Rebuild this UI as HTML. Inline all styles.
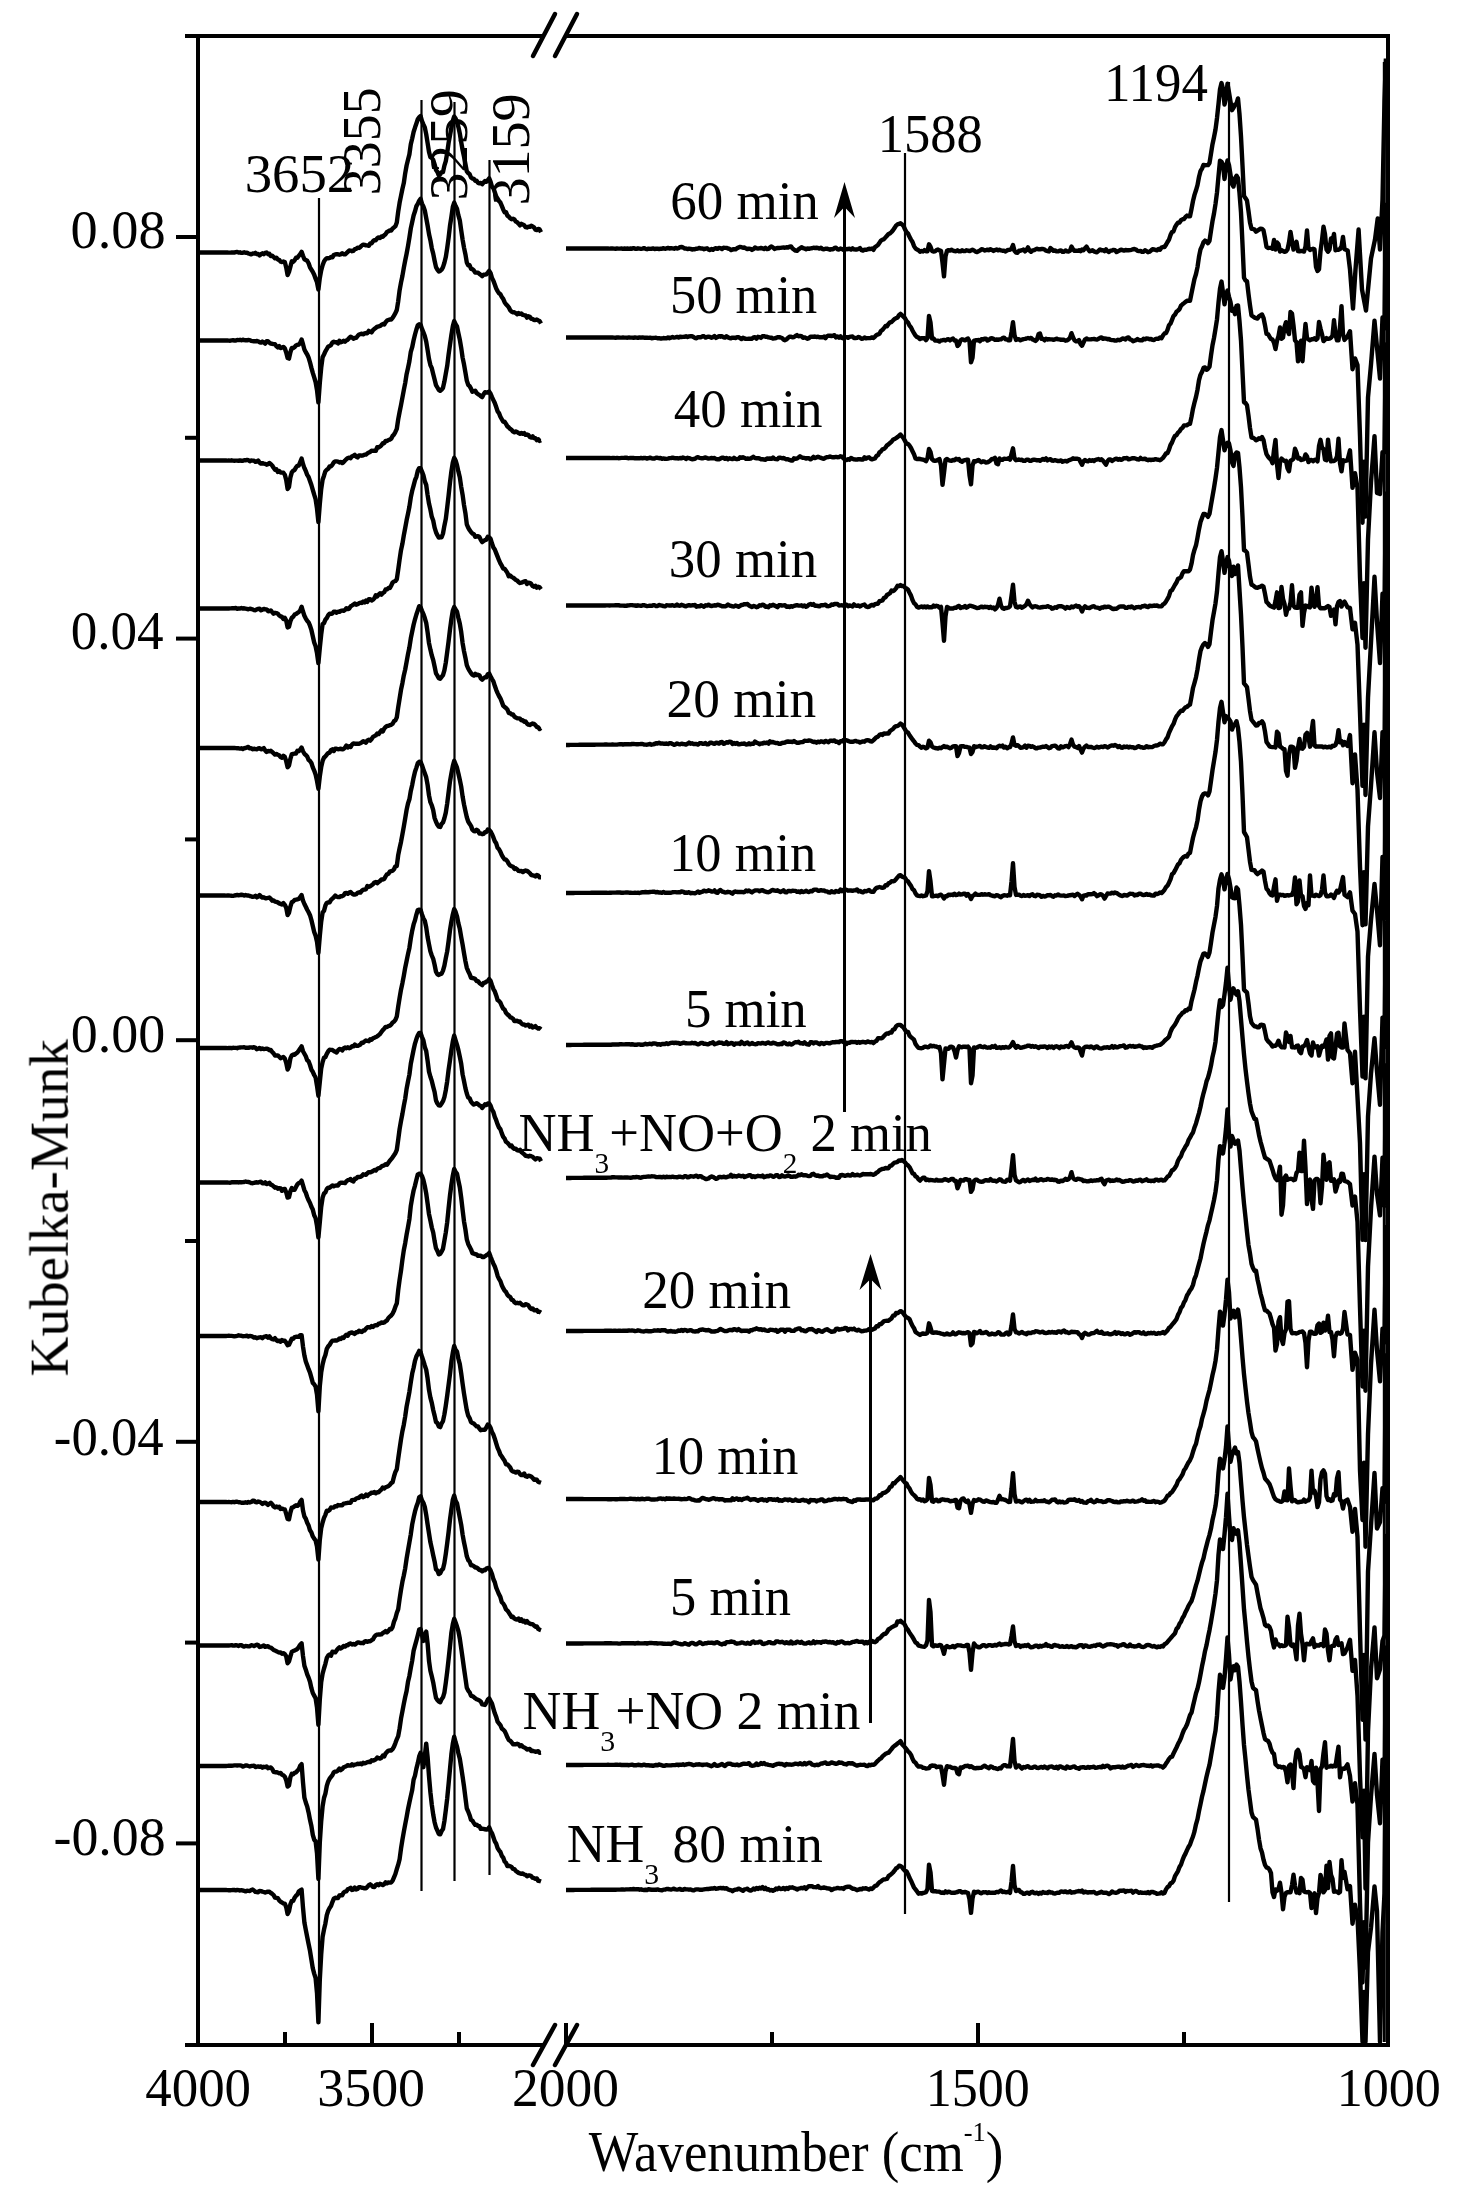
<!DOCTYPE html>
<html><head><meta charset="utf-8"><style>
html,body{margin:0;padding:0;background:#fff;}
svg{display:block;}
</style></head><body>
<svg width="1457" height="2201" viewBox="0 0 1457 2201">
<rect width="1457" height="2201" fill="#fff"/>
<g stroke="#000" stroke-width="4" fill="none" stroke-linecap="butt">
<line x1="198" y1="34" x2="198" y2="2047"/>
<line x1="1388" y1="34" x2="1388" y2="2047"/>
<line x1="185" y1="36" x2="543" y2="36"/>
<line x1="566" y1="36" x2="1390" y2="36"/>
<line x1="185" y1="2045" x2="543" y2="2045"/>
<line x1="567" y1="2045" x2="1390" y2="2045"/>
<line x1="176" y1="237.0" x2="198" y2="237.0"/>
<line x1="176" y1="638.6" x2="198" y2="638.6"/>
<line x1="176" y1="1040.2" x2="198" y2="1040.2"/>
<line x1="176" y1="1441.8" x2="198" y2="1441.8"/>
<line x1="176" y1="1843.4" x2="198" y2="1843.4"/>
<line x1="185" y1="437.8" x2="198" y2="437.8"/>
<line x1="185" y1="839.4" x2="198" y2="839.4"/>
<line x1="185" y1="1241.0" x2="198" y2="1241.0"/>
<line x1="185" y1="1642.6" x2="198" y2="1642.6"/>
<line x1="372" y1="2023" x2="372" y2="2045"/>
<line x1="566" y1="2023" x2="566" y2="2045"/>
<line x1="978" y1="2023" x2="978" y2="2045"/>
<line x1="285" y1="2032" x2="285" y2="2045"/>
<line x1="459" y1="2032" x2="459" y2="2045"/>
<line x1="772" y1="2032" x2="772" y2="2045"/>
<line x1="1184" y1="2032" x2="1184" y2="2045"/>
</g>
<g stroke="#000" stroke-width="4.5" fill="none" stroke-linecap="round">
<line x1="533" y1="56" x2="555" y2="14"/><line x1="555" y1="56" x2="577" y2="14"/>
<line x1="533" y1="2065" x2="555" y2="2025"/><line x1="555" y1="2065" x2="577" y2="2025"/>
</g>
<g stroke="#000" stroke-width="2.2" fill="none">
<line x1="319" y1="198" x2="319" y2="2024"/>
<line x1="421.5" y1="100" x2="421.5" y2="1891"/>
<line x1="454.5" y1="102" x2="454.5" y2="1881"/>
<line x1="489.5" y1="160" x2="489.5" y2="1875"/>
<line x1="905" y1="153" x2="905" y2="1914"/>
<line x1="1229" y1="82" x2="1229" y2="1902"/>
</g>
<g stroke="#000" stroke-width="3" fill="none">
<line x1="844.5" y1="1112" x2="844.5" y2="205"/>
<line x1="870.5" y1="1723" x2="870.5" y2="1277"/>
</g>
<path d="M844.5 182 L855 218 L844.5 207 L834 218 Z" fill="#000"/>
<path d="M870.5 1254 L881.5 1290 L870.5 1279 L859.5 1290 Z" fill="#000"/>
<g stroke="#000" stroke-width="4.4" fill="none" stroke-linejoin="round" stroke-linecap="butt">
<path d="M198.0 252.5L199.4 252.5L200.8 252.5L202.2 252.5L203.6 252.5L205.0 252.5L206.4 252.5L207.8 252.5L209.2 252.5L210.6 252.5L212.0 252.5L213.4 252.5L214.8 252.5L216.2 252.5L217.6 252.5L219.0 252.5L220.4 252.5L221.8 252.5L223.2 252.5L224.6 252.5L226.0 252.5L227.4 252.5L228.8 252.6L230.2 252.6L231.6 252.5L233.0 252.4L234.4 252.5L235.8 252.2L237.2 251.9L238.6 252.6L240.0 252.3L241.4 252.9L242.8 252.7L244.2 252.3L245.6 252.8L247.0 252.7L248.4 253.5L249.8 253.9L251.2 254.4L252.6 253.5L254.0 253.6L255.4 252.8L256.8 254.0L258.2 254.0L259.6 255.5L261.0 254.1L262.4 253.3L263.8 254.3L265.2 252.9L266.6 252.5L268.0 254.2L269.4 253.8L270.8 256.1L272.2 255.7L273.6 257.0L275.0 258.3L276.4 257.7L277.8 259.5L279.2 259.8L280.6 261.7L282.0 262.0L283.4 261.5L284.8 262.0L286.2 267.4L287.6 275.0L289.0 271.9L290.4 266.6L291.8 261.3L293.2 261.9L294.6 260.3L296.0 257.8L297.4 257.8L298.8 255.8L300.2 254.1L301.6 251.8L303.0 255.8L304.4 259.3L305.8 260.0L307.2 260.7L308.6 263.2L310.0 267.3L311.4 269.6L312.8 271.9L314.2 274.8L315.6 278.8L317.0 282.3L318.4 289.5L319.8 278.0L321.2 270.4L322.6 265.2L324.0 261.5L325.4 259.4L326.8 258.2L328.2 258.2L329.6 258.1L331.0 256.9L332.4 257.3L333.8 255.0L335.2 254.4L336.6 254.2L338.0 254.3L339.4 254.7L340.8 254.4L342.2 253.2L343.6 254.3L345.0 254.4L346.4 253.3L347.8 251.9L349.2 250.5L350.6 250.6L352.0 251.2L353.4 250.8L354.8 249.2L356.2 248.9L357.6 247.6L359.0 248.0L360.4 246.9L361.8 245.5L363.2 244.6L364.6 244.9L366.0 245.4L367.4 245.4L368.8 245.8L370.2 243.4L371.6 243.4L373.0 241.2L374.4 240.1L375.8 240.2L377.2 238.4L378.6 237.4L380.0 238.0L381.4 236.5L382.8 236.8L384.2 235.3L385.6 234.2L387.0 231.9L388.4 231.3L389.8 230.4L391.2 230.6L392.6 228.5L394.0 227.5L395.4 226.2L396.8 222.5L398.2 211.6L399.6 202.8L401.0 195.9L402.4 189.0L403.8 183.1L405.2 173.3L406.6 165.5L408.0 159.8L409.4 154.4L410.8 144.3L412.2 138.5L413.6 132.0L415.0 127.6L416.4 123.6L417.8 119.3L419.2 117.2L420.6 116.1L422.0 121.0L423.4 124.4L424.8 127.4L426.2 134.1L427.6 143.0L429.0 151.9L430.4 157.2L431.8 158.0L433.2 159.8L434.6 164.3L436.0 170.0L437.4 171.9L438.8 175.3L440.2 174.4L441.6 172.3L443.0 172.1L444.4 165.6L445.8 161.2L447.2 152.8L448.6 142.9L450.0 135.4L451.4 127.7L452.8 120.9L454.2 116.5L455.6 118.5L457.0 121.8L458.4 127.1L459.8 133.4L461.2 142.1L462.6 150.0L464.0 156.5L465.4 163.9L466.8 171.3L468.2 173.0L469.6 174.2L471.0 177.5L472.4 178.5L473.8 178.8L475.2 180.7L476.6 180.7L478.0 182.9L479.4 183.3L480.8 182.9L482.2 184.2L483.6 182.5L485.0 181.0L486.4 181.7L487.8 180.2L489.2 178.3L490.6 181.8L492.0 186.8L493.4 188.1L494.8 192.2L496.2 196.5L497.6 198.7L499.0 201.1L500.4 202.6L501.8 205.9L503.2 209.4L504.6 212.2L506.0 212.1L507.4 215.6L508.8 216.6L510.2 218.2L511.6 219.2L513.0 218.7L514.4 219.4L515.8 221.6L517.2 222.2L518.6 223.7L520.0 225.4L521.4 223.8L522.8 224.6L524.2 225.2L525.6 227.1L527.0 227.5L528.4 226.8L529.8 226.9L531.2 225.8L532.6 226.5L534.0 227.3L535.4 229.7L536.8 230.1L538.2 228.9L539.6 229.4L541.0 232.3"/>
<path d="M566.0 248.5L567.5 248.5L569.0 248.5L570.5 248.5L572.0 248.5L573.5 248.5L575.0 248.5L576.5 248.5L578.0 248.5L579.5 248.5L581.0 248.5L582.5 248.5L584.0 248.5L585.5 248.5L587.0 248.5L588.5 248.5L590.0 248.5L591.5 248.5L593.0 248.5L594.5 248.5L596.0 248.5L597.5 248.5L599.0 248.5L600.5 248.5L602.0 248.5L603.5 248.5L605.0 248.5L606.5 248.5L608.0 248.5L609.5 248.6L611.0 248.5L612.5 248.5L614.0 248.6L615.5 248.7L617.0 248.5L618.5 248.6L620.0 248.6L621.5 248.5L623.0 248.8L624.5 248.5L626.0 248.7L627.5 248.5L629.0 248.8L630.5 248.5L632.0 248.7L633.5 248.2L635.0 248.7L636.5 248.8L638.0 248.3L639.5 248.6L641.0 248.9L642.5 248.6L644.0 248.1L645.5 248.8L647.0 249.2L648.5 248.6L650.0 248.9L651.5 248.8L653.0 248.4L654.5 249.0L656.0 248.8L657.5 248.7L659.0 249.0L660.5 248.8L662.0 248.7L663.5 248.2L665.0 248.8L666.5 248.4L668.0 247.9L669.5 248.5L671.0 248.1L672.5 248.4L674.0 248.7L675.5 247.9L677.0 248.5L678.5 248.1L680.0 247.2L681.5 247.0L683.0 247.4L684.5 248.6L686.0 248.4L687.5 249.1L689.0 248.6L690.5 248.9L692.0 249.5L693.5 249.1L695.0 249.2L696.5 248.7L698.0 248.5L699.5 247.9L701.0 248.6L702.5 248.5L704.0 249.2L705.5 248.6L707.0 248.3L708.5 249.5L710.0 250.1L711.5 249.0L713.0 249.8L714.5 248.6L716.0 248.2L717.5 248.9L719.0 247.9L720.5 248.1L722.0 249.0L723.5 247.8L725.0 247.9L726.5 247.9L728.0 248.5L729.5 248.9L731.0 250.1L732.5 249.5L734.0 249.1L735.5 249.4L737.0 248.3L738.5 247.5L740.0 246.9L741.5 247.2L743.0 247.8L744.5 247.5L746.0 248.5L747.5 249.1L749.0 248.7L750.5 248.9L752.0 249.9L753.5 249.1L755.0 247.4L756.5 248.3L758.0 248.5L759.5 248.4L761.0 248.0L762.5 248.4L764.0 249.0L765.5 247.8L767.0 249.1L768.5 248.8L770.0 247.4L771.5 246.4L773.0 247.5L774.5 248.9L776.0 248.3L777.5 248.0L779.0 248.0L780.5 247.9L782.0 247.6L783.5 247.5L785.0 247.7L786.5 247.3L788.0 247.5L789.5 246.7L791.0 246.4L792.5 248.5L794.0 249.6L795.5 250.6L797.0 250.8L798.5 249.4L800.0 248.4L801.5 247.2L803.0 248.2L804.5 248.5L806.0 249.2L807.5 248.4L809.0 248.8L810.5 248.4L812.0 248.3L813.5 247.7L815.0 248.0L816.5 247.8L818.0 248.0L819.5 248.6L821.0 247.8L822.5 249.0L824.0 249.3L825.5 248.7L827.0 248.6L828.5 249.2L830.0 249.7L831.5 249.1L833.0 249.2L834.5 248.0L836.0 247.7L837.5 249.3L839.0 249.5L840.5 248.5L842.0 249.0L843.5 250.1L845.0 248.9L846.5 249.2L848.0 249.0L849.5 248.8L851.0 249.6L852.5 248.3L854.0 249.4L855.5 249.5L857.0 249.5L858.5 249.0L860.0 248.1L861.5 250.1L863.0 250.5L864.5 249.6L866.0 249.8L867.5 249.4L869.0 248.8L870.5 249.0L872.0 248.5L873.5 249.8L875.0 247.1L876.5 246.2L878.0 244.9L879.5 242.8L881.0 240.6L882.5 239.7L884.0 239.1L885.5 237.4L887.0 235.7L888.5 234.0L890.0 233.4L891.5 232.0L893.0 230.3L894.5 228.1L896.0 225.6L897.5 224.4L899.0 223.9L900.5 223.2L902.0 224.4L903.5 225.8L905.0 229.4L906.5 232.0L908.0 233.5L909.5 236.8L911.0 239.6L912.5 242.0L914.0 246.1L915.5 248.4L917.0 249.5L918.5 250.2L920.0 251.7L921.5 251.0L923.0 251.5L924.5 250.1L926.0 251.3L927.5 251.2L929.0 244.3L930.5 246.6L932.0 250.9L933.5 251.6L935.0 251.4L936.5 250.1L938.0 249.5L939.5 250.5L941.0 250.9L942.5 262.6L944.0 276.4L945.5 256.5L947.0 250.7L948.5 250.1L950.0 250.6L951.5 249.8L953.0 250.6L954.5 251.0L956.0 251.2L957.5 250.3L959.0 251.3L960.5 251.3L962.0 250.3L963.5 251.0L965.0 251.1L966.5 250.3L968.0 250.7L969.5 251.1L971.0 250.5L972.5 249.7L974.0 250.4L975.5 251.6L977.0 252.0L978.5 251.2L980.0 250.5L981.5 249.3L983.0 249.5L984.5 250.5L986.0 250.2L987.5 249.6L989.0 250.2L990.5 249.2L992.0 249.9L993.5 250.9L995.0 250.0L996.5 249.5L998.0 250.4L999.5 249.8L1001.0 250.3L1002.5 250.7L1004.0 250.8L1005.5 251.5L1007.0 250.4L1008.5 249.9L1010.0 249.8L1011.5 248.7L1013.0 245.1L1014.5 250.9L1016.0 252.6L1017.5 252.8L1019.0 250.7L1020.5 250.7L1022.0 250.2L1023.5 249.6L1025.0 251.3L1026.5 249.9L1028.0 247.4L1029.5 250.6L1031.0 251.8L1032.5 250.5L1034.0 250.2L1035.5 249.4L1037.0 248.6L1038.5 249.4L1040.0 249.3L1041.5 249.0L1043.0 248.9L1044.5 249.6L1046.0 250.7L1047.5 251.0L1049.0 251.4L1050.5 248.0L1052.0 249.4L1053.5 250.9L1055.0 250.4L1056.5 251.4L1058.0 251.4L1059.5 250.7L1061.0 250.4L1062.5 251.8L1064.0 251.7L1065.5 250.4L1067.0 251.3L1068.5 251.5L1070.0 250.8L1071.5 246.6L1073.0 249.4L1074.5 250.9L1076.0 250.8L1077.5 250.9L1079.0 250.2L1080.5 251.2L1082.0 249.5L1083.5 250.3L1085.0 248.3L1086.5 246.6L1088.0 249.3L1089.5 251.3L1091.0 250.9L1092.5 250.2L1094.0 251.4L1095.5 252.0L1097.0 252.2L1098.5 250.8L1100.0 249.4L1101.5 250.2L1103.0 250.2L1104.5 251.1L1106.0 249.3L1107.5 251.1L1109.0 252.0L1110.5 250.6L1112.0 250.5L1113.5 249.9L1115.0 250.2L1116.5 252.0L1118.0 251.2L1119.5 250.5L1121.0 249.6L1122.5 250.1L1124.0 250.6L1125.5 250.0L1127.0 250.2L1128.5 250.3L1130.0 250.1L1131.5 249.8L1133.0 249.2L1134.5 249.0L1136.0 249.5L1137.5 250.8L1139.0 251.1L1140.5 250.9L1142.0 251.9L1143.5 251.8L1145.0 250.3L1146.5 251.1L1148.0 252.2L1149.5 251.7L1151.0 250.5L1152.5 249.2L1154.0 249.5L1155.5 249.8L1157.0 250.3L1158.5 249.0L1160.0 249.7L1161.5 247.5L1163.0 247.0L1164.5 247.1L1166.0 244.8L1167.5 242.0L1169.0 239.6L1170.5 235.1L1172.0 232.1L1173.5 231.4L1175.0 227.1L1176.5 224.6L1178.0 222.7L1179.5 222.5L1181.0 220.2L1182.5 219.3L1184.0 219.1L1185.5 216.9L1187.0 215.6L1188.5 216.4L1190.0 216.3L1191.5 209.0L1193.0 201.0L1194.5 194.9L1196.0 190.3L1197.5 185.1L1199.0 177.0L1200.5 171.1L1202.0 168.6L1203.5 164.9L1205.0 165.2L1206.5 165.1L1208.0 165.1L1209.5 163.0L1211.0 153.6L1212.5 144.2L1214.0 137.2L1215.5 129.5L1217.0 118.1L1218.5 103.9L1220.0 89.3L1221.5 83.1L1223.0 88.8L1224.5 104.5L1226.0 98.6L1227.5 83.7L1229.0 92.3L1230.5 101.6L1232.0 110.2L1233.5 107.8L1235.0 104.5L1236.5 103.7L1238.0 98.4L1239.5 114.1L1241.0 136.7L1242.5 165.5L1244.0 196.0L1245.5 198.2L1247.0 200.7L1248.5 211.1L1250.0 222.4L1251.5 228.8L1253.0 228.9L1254.5 229.6L1256.0 231.6L1257.5 230.6L1259.0 229.6L1260.5 228.6L1262.0 228.9L1263.5 230.4L1265.0 238.0L1266.5 247.0L1268.0 248.0L1269.5 247.9L1271.0 247.9L1272.5 248.7L1274.0 240.0L1275.5 249.5L1277.0 242.4L1278.5 244.2L1280.0 251.5L1281.5 250.0L1283.0 251.0L1284.5 251.8L1286.0 251.4L1287.5 249.5L1289.0 242.5L1290.5 231.9L1292.0 240.9L1293.5 249.5L1295.0 245.7L1296.5 241.8L1298.0 251.1L1299.5 251.4L1301.0 250.9L1302.5 251.1L1304.0 251.5L1305.5 246.7L1307.0 230.4L1308.5 248.5L1310.0 249.9L1311.5 249.3L1313.0 248.8L1314.5 249.4L1316.0 266.9L1317.5 271.0L1319.0 269.3L1320.5 251.2L1322.0 240.0L1323.5 226.8L1325.0 234.3L1326.5 249.5L1328.0 251.7L1329.5 249.5L1331.0 238.5L1332.5 241.6L1334.0 233.9L1335.5 250.3L1337.0 249.6L1338.5 249.7L1340.0 249.0L1341.5 246.5L1343.0 236.9L1344.5 249.3L1347.7 250.5L1350.0 269.5L1353.0 308.5L1355.5 269.5L1358.6 229.5L1362.0 289.5L1366.0 310.5L1371.0 258.5L1375.0 239.5L1377.7 218.5L1380.0 249.5L1382.5 199.5L1384.5 100.5L1385.9 58.5"/>
<path d="M198.0 340.5L199.4 340.5L200.8 340.5L202.2 340.5L203.6 340.5L205.0 340.5L206.4 340.5L207.8 340.5L209.2 340.5L210.6 340.5L212.0 340.5L213.4 340.5L214.8 340.5L216.2 340.5L217.6 340.5L219.0 340.5L220.4 340.5L221.8 340.5L223.2 340.5L224.6 340.5L226.0 340.5L227.4 340.5L228.8 340.6L230.2 340.7L231.6 340.4L233.0 340.3L234.4 340.5L235.8 340.5L237.2 339.9L238.6 340.1L240.0 339.8L241.4 340.3L242.8 339.7L244.2 340.1L245.6 340.3L247.0 340.3L248.4 340.0L249.8 340.1L251.2 340.9L252.6 341.1L254.0 341.3L255.4 341.3L256.8 341.0L258.2 341.3L259.6 342.3L261.0 342.6L262.4 341.6L263.8 342.3L265.2 343.6L266.6 341.3L268.0 341.3L269.4 342.7L270.8 343.6L272.2 343.8L273.6 344.1L275.0 344.2L276.4 346.2L277.8 347.5L279.2 346.1L280.6 348.0L282.0 347.7L283.4 346.9L284.8 348.3L286.2 352.5L287.6 358.0L289.0 358.6L290.4 352.2L291.8 347.9L293.2 348.0L294.6 347.2L296.0 345.4L297.4 344.8L298.8 344.5L300.2 342.9L301.6 339.5L303.0 344.2L304.4 349.5L305.8 352.3L307.2 354.5L308.6 357.7L310.0 362.3L311.4 367.9L312.8 372.9L314.2 377.3L315.6 382.0L317.0 390.0L318.4 402.4L319.8 383.1L321.2 367.8L322.6 357.3L324.0 354.5L325.4 351.4L326.8 349.0L328.2 346.5L329.6 346.0L331.0 345.1L332.4 342.4L333.8 341.7L335.2 342.4L336.6 342.2L338.0 343.5L339.4 340.7L340.8 342.3L342.2 341.7L343.6 340.7L345.0 341.7L346.4 340.4L347.8 339.7L349.2 338.0L350.6 336.7L352.0 337.4L353.4 338.7L354.8 338.0L356.2 337.8L357.6 336.0L359.0 334.5L360.4 334.1L361.8 333.7L363.2 334.3L364.6 333.4L366.0 333.0L367.4 333.2L368.8 330.9L370.2 331.6L371.6 332.4L373.0 330.1L374.4 328.8L375.8 327.9L377.2 326.6L378.6 326.5L380.0 326.0L381.4 324.9L382.8 324.0L384.2 324.6L385.6 322.2L387.0 320.6L388.4 320.0L389.8 319.4L391.2 319.5L392.6 317.9L394.0 315.6L395.4 313.2L396.8 310.0L398.2 301.3L399.6 290.3L401.0 282.6L402.4 276.0L403.8 267.8L405.2 260.5L406.6 253.7L408.0 246.1L409.4 237.6L410.8 228.4L412.2 222.0L413.6 215.5L415.0 211.3L416.4 206.2L417.8 203.8L419.2 200.7L420.6 198.8L422.0 203.7L423.4 206.5L424.8 210.4L426.2 218.0L427.6 225.5L429.0 234.0L430.4 240.2L431.8 248.2L433.2 253.6L434.6 260.7L436.0 267.1L437.4 269.6L438.8 271.5L440.2 270.9L441.6 269.7L443.0 267.1L444.4 262.8L445.8 257.1L447.2 248.1L448.6 237.8L450.0 225.7L451.4 216.9L452.8 207.0L454.2 202.6L455.6 206.0L457.0 208.8L458.4 215.4L459.8 220.4L461.2 230.2L462.6 239.6L464.0 247.6L465.4 254.2L466.8 262.5L468.2 265.4L469.6 265.3L471.0 268.8L472.4 269.1L473.8 270.4L475.2 272.6L476.6 272.6L478.0 272.7L479.4 273.9L480.8 274.8L482.2 276.2L483.6 274.8L485.0 274.6L486.4 274.3L487.8 272.7L489.2 270.9L490.6 273.1L492.0 278.1L493.4 280.7L494.8 284.5L496.2 288.5L497.6 291.1L499.0 293.2L500.4 294.3L501.8 297.0L503.2 298.9L504.6 302.2L506.0 304.2L507.4 305.6L508.8 307.3L510.2 310.2L511.6 311.6L513.0 312.4L514.4 312.3L515.8 313.1L517.2 314.2L518.6 313.1L520.0 314.0L521.4 313.5L522.8 314.9L524.2 315.2L525.6 315.4L527.0 317.7L528.4 316.3L529.8 316.8L531.2 318.8L532.6 318.9L534.0 320.0L535.4 320.0L536.8 319.5L538.2 320.4L539.6 321.0L541.0 323.5"/>
<path d="M566.0 337.5L567.5 337.5L569.0 337.5L570.5 337.5L572.0 337.5L573.5 337.5L575.0 337.5L576.5 337.5L578.0 337.5L579.5 337.5L581.0 337.5L582.5 337.5L584.0 337.5L585.5 337.5L587.0 337.5L588.5 337.5L590.0 337.5L591.5 337.5L593.0 337.5L594.5 337.5L596.0 337.5L597.5 337.5L599.0 337.5L600.5 337.5L602.0 337.5L603.5 337.5L605.0 337.5L606.5 337.4L608.0 337.5L609.5 337.5L611.0 337.4L612.5 337.5L614.0 337.6L615.5 337.7L617.0 337.5L618.5 337.5L620.0 337.6L621.5 337.6L623.0 337.5L624.5 337.6L626.0 337.6L627.5 337.7L629.0 337.4L630.5 337.6L632.0 337.6L633.5 337.7L635.0 337.5L636.5 337.6L638.0 337.9L639.5 337.4L641.0 337.7L642.5 337.4L644.0 337.7L645.5 337.7L647.0 337.7L648.5 337.9L650.0 337.7L651.5 338.2L653.0 338.0L654.5 337.9L656.0 337.7L657.5 338.3L659.0 338.2L660.5 338.5L662.0 338.5L663.5 338.0L665.0 338.3L666.5 338.3L668.0 337.4L669.5 338.2L671.0 337.7L672.5 337.0L674.0 337.6L675.5 337.3L677.0 336.9L678.5 337.5L680.0 336.6L681.5 337.0L683.0 336.9L684.5 336.8L686.0 336.3L687.5 337.0L689.0 336.4L690.5 336.3L692.0 336.2L693.5 337.0L695.0 338.1L696.5 338.2L698.0 337.2L699.5 337.2L701.0 337.3L702.5 336.2L704.0 336.3L705.5 337.6L707.0 337.0L708.5 336.7L710.0 337.0L711.5 337.7L713.0 337.1L714.5 336.0L716.0 337.9L717.5 337.1L719.0 336.2L720.5 336.7L722.0 336.2L723.5 337.3L725.0 337.6L726.5 336.2L728.0 337.4L729.5 338.0L731.0 338.3L732.5 337.6L734.0 337.7L735.5 338.0L737.0 337.2L738.5 337.2L740.0 338.1L741.5 339.0L743.0 337.8L744.5 338.5L746.0 338.9L747.5 338.9L749.0 338.7L750.5 338.8L752.0 338.7L753.5 337.4L755.0 337.1L756.5 338.7L758.0 336.8L759.5 337.1L761.0 337.9L762.5 336.2L764.0 336.1L765.5 336.7L767.0 336.7L768.5 337.4L770.0 337.7L771.5 337.6L773.0 338.6L774.5 338.4L776.0 338.0L777.5 337.3L779.0 337.1L780.5 337.5L782.0 338.0L783.5 339.6L785.0 340.2L786.5 339.3L788.0 337.9L789.5 336.7L791.0 336.6L792.5 337.4L794.0 337.1L795.5 336.0L797.0 335.1L798.5 336.3L800.0 335.9L801.5 336.1L803.0 337.8L804.5 337.4L806.0 338.0L807.5 338.7L809.0 338.1L810.5 336.7L812.0 336.7L813.5 336.8L815.0 336.5L816.5 337.0L818.0 336.6L819.5 337.4L821.0 337.2L822.5 337.4L824.0 336.6L825.5 338.1L827.0 336.2L828.5 335.6L830.0 335.6L831.5 336.1L833.0 335.7L834.5 335.2L836.0 337.4L837.5 336.4L839.0 337.7L840.5 336.3L842.0 338.0L843.5 338.5L845.0 337.2L846.5 337.1L848.0 337.8L849.5 336.9L851.0 336.6L852.5 336.5L854.0 338.1L855.5 338.0L857.0 337.8L858.5 336.9L860.0 337.6L861.5 338.8L863.0 338.5L864.5 337.5L866.0 338.3L867.5 338.1L869.0 338.1L870.5 338.0L872.0 337.4L873.5 338.0L875.0 336.6L876.5 335.0L878.0 334.4L879.5 333.7L881.0 330.8L882.5 329.9L884.0 328.0L885.5 326.0L887.0 326.3L888.5 323.9L890.0 322.3L891.5 322.0L893.0 320.5L894.5 318.9L896.0 318.2L897.5 317.7L899.0 315.1L900.5 313.8L902.0 315.2L903.5 316.9L905.0 318.2L906.5 321.0L908.0 322.5L909.5 325.6L911.0 327.4L912.5 330.5L914.0 333.2L915.5 335.7L917.0 337.0L918.5 337.6L920.0 339.1L921.5 338.2L923.0 338.2L924.5 338.1L926.0 340.1L927.5 338.0L929.0 315.9L930.5 322.4L932.0 338.5L933.5 338.4L935.0 340.5L936.5 340.6L938.0 340.8L939.5 341.6L941.0 340.4L942.5 340.2L944.0 339.9L945.5 340.5L947.0 339.5L948.5 339.2L950.0 340.4L951.5 339.2L953.0 338.5L954.5 340.5L956.0 340.5L957.5 346.0L959.0 344.4L960.5 340.3L962.0 339.3L963.5 339.7L965.0 340.4L966.5 339.3L968.0 338.5L969.5 341.2L971.0 362.3L972.5 357.9L974.0 340.6L975.5 340.3L977.0 340.3L978.5 340.0L980.0 341.2L981.5 339.1L983.0 339.5L984.5 338.7L986.0 338.6L987.5 340.6L989.0 339.8L990.5 338.5L992.0 338.3L993.5 338.9L995.0 339.8L996.5 339.5L998.0 339.9L999.5 339.4L1001.0 339.4L1002.5 338.1L1004.0 337.6L1005.5 339.2L1007.0 339.4L1008.5 340.4L1010.0 340.4L1011.5 332.2L1013.0 322.2L1014.5 335.2L1016.0 339.9L1017.5 339.2L1019.0 339.3L1020.5 340.3L1022.0 339.6L1023.5 339.1L1025.0 338.9L1026.5 338.5L1028.0 338.0L1029.5 338.5L1031.0 337.9L1032.5 339.4L1034.0 340.0L1035.5 340.9L1037.0 339.4L1038.5 334.3L1040.0 333.5L1041.5 338.9L1043.0 338.7L1044.5 340.3L1046.0 338.8L1047.5 339.5L1049.0 339.2L1050.5 339.4L1052.0 339.4L1053.5 339.8L1055.0 339.4L1056.5 338.6L1058.0 339.2L1059.5 339.4L1061.0 339.8L1062.5 339.7L1064.0 339.8L1065.5 340.7L1067.0 340.4L1068.5 339.4L1070.0 337.8L1071.5 333.2L1073.0 337.3L1074.5 340.4L1076.0 341.2L1077.5 341.2L1079.0 340.0L1080.5 344.0L1082.0 345.7L1083.5 342.5L1085.0 339.5L1086.5 338.5L1088.0 339.4L1089.5 339.4L1091.0 339.3L1092.5 339.1L1094.0 338.9L1095.5 339.4L1097.0 339.6L1098.5 338.8L1100.0 337.9L1101.5 337.4L1103.0 338.9L1104.5 338.4L1106.0 338.7L1107.5 339.2L1109.0 339.0L1110.5 339.9L1112.0 340.1L1113.5 340.1L1115.0 340.6L1116.5 340.5L1118.0 339.8L1119.5 340.2L1121.0 339.6L1122.5 338.5L1124.0 338.7L1125.5 339.4L1127.0 337.9L1128.5 337.4L1130.0 339.4L1131.5 339.8L1133.0 341.2L1134.5 340.6L1136.0 340.2L1137.5 339.0L1139.0 340.0L1140.5 340.3L1142.0 340.4L1143.5 338.8L1145.0 339.4L1146.5 338.4L1148.0 338.6L1149.5 339.2L1151.0 339.0L1152.5 339.9L1154.0 340.1L1155.5 338.9L1157.0 338.8L1158.5 338.7L1160.0 337.5L1161.5 338.3L1163.0 335.4L1164.5 333.5L1166.0 333.2L1167.5 329.9L1169.0 325.2L1170.5 323.6L1172.0 319.9L1173.5 316.0L1175.0 314.6L1176.5 311.8L1178.0 310.6L1179.5 309.1L1181.0 305.6L1182.5 304.3L1184.0 303.1L1185.5 301.8L1187.0 300.8L1188.5 300.7L1190.0 300.9L1191.5 293.4L1193.0 286.0L1194.5 278.8L1196.0 274.0L1197.5 267.1L1199.0 256.7L1200.5 249.4L1202.0 246.3L1203.5 242.3L1205.0 240.6L1206.5 241.5L1208.0 243.2L1209.5 240.8L1211.0 230.7L1212.5 221.1L1214.0 213.5L1215.5 204.0L1217.0 192.5L1218.5 176.1L1220.0 160.8L1221.5 161.8L1223.0 164.6L1224.5 179.0L1226.0 169.4L1227.5 160.4L1229.0 165.1L1230.5 174.9L1232.0 184.0L1233.5 186.5L1235.0 178.4L1236.5 175.7L1238.0 178.1L1239.5 193.0L1241.0 212.4L1242.5 244.3L1244.0 277.7L1245.5 280.5L1247.0 281.2L1248.5 294.1L1250.0 305.4L1251.5 315.5L1253.0 316.5L1254.5 317.6L1256.0 318.1L1257.5 318.5L1259.0 316.4L1260.5 315.4L1262.0 314.5L1263.5 317.8L1265.0 325.2L1266.5 333.9L1268.0 334.1L1269.5 336.7L1271.0 338.9L1272.5 339.6L1274.0 342.8L1275.5 349.0L1277.0 340.9L1278.5 336.2L1280.0 327.5L1281.5 338.8L1283.0 337.6L1284.5 327.0L1286.0 322.2L1287.5 330.6L1289.0 334.0L1290.5 312.0L1292.0 313.5L1293.5 325.5L1295.0 340.3L1296.5 342.1L1298.0 361.4L1299.5 345.1L1301.0 340.7L1302.5 361.2L1304.0 340.9L1305.5 323.9L1307.0 338.0L1308.5 339.4L1310.0 340.3L1311.5 339.2L1313.0 339.3L1314.5 338.2L1316.0 339.8L1317.5 338.6L1319.0 322.0L1320.5 328.5L1322.0 334.3L1323.5 341.1L1325.0 339.6L1326.5 338.1L1328.0 338.9L1329.5 338.6L1331.0 337.8L1332.5 335.7L1334.0 320.2L1335.5 334.5L1337.0 340.4L1338.5 340.3L1340.0 326.8L1341.5 306.1L1343.0 334.3L1344.5 339.9L1347.5 336.5L1350.0 331.2L1352.5 369.2L1355.0 358.4L1357.5 365.0L1360.0 436.5L1362.5 522.7L1364.0 461.8L1365.5 516.6L1368.0 397.4L1371.0 364.5L1374.5 320.6L1377.0 347.1L1380.0 378.6L1382.5 317.5L1384.5 328.5L1385.9 202.7"/>
<path d="M198.0 460.5L199.4 460.5L200.8 460.5L202.2 460.5L203.6 460.5L205.0 460.5L206.4 460.5L207.8 460.5L209.2 460.5L210.6 460.5L212.0 460.5L213.4 460.5L214.8 460.5L216.2 460.5L217.6 460.5L219.0 460.5L220.4 460.5L221.8 460.5L223.2 460.5L224.6 460.5L226.0 460.5L227.4 460.6L228.8 460.5L230.2 460.6L231.6 460.3L233.0 460.6L234.4 460.7L235.8 460.6L237.2 460.6L238.6 460.9L240.0 460.4L241.4 460.8L242.8 460.8L244.2 460.2L245.6 460.3L247.0 459.9L248.4 460.2L249.8 461.2L251.2 460.5L252.6 460.6L254.0 460.7L255.4 461.9L256.8 461.6L258.2 460.5L259.6 462.6L261.0 463.6L262.4 463.1L263.8 463.6L265.2 463.9L266.6 464.7L268.0 464.2L269.4 463.0L270.8 464.2L272.2 465.5L273.6 467.8L275.0 469.7L276.4 469.2L277.8 471.9L279.2 471.1L280.6 472.6L282.0 472.6L283.4 472.8L284.8 474.7L286.2 479.8L287.6 489.0L289.0 487.0L290.4 477.3L291.8 472.4L293.2 470.7L294.6 470.0L296.0 467.4L297.4 465.8L298.8 465.5L300.2 462.0L301.6 458.6L303.0 464.0L304.4 468.1L305.8 470.9L307.2 474.9L308.6 477.0L310.0 480.9L311.4 485.0L312.8 489.8L314.2 494.7L315.6 499.1L317.0 508.4L318.4 522.0L319.8 504.0L321.2 489.1L322.6 479.7L324.0 475.7L325.4 471.2L326.8 469.8L328.2 468.8L329.6 466.4L331.0 466.2L332.4 464.7L333.8 462.3L335.2 461.4L336.6 461.4L338.0 461.6L339.4 462.5L340.8 461.9L342.2 463.1L343.6 462.1L345.0 460.5L346.4 459.2L347.8 458.0L349.2 457.6L350.6 458.2L352.0 456.3L353.4 455.9L354.8 454.9L356.2 456.6L357.6 457.5L359.0 455.4L360.4 455.4L361.8 455.7L363.2 455.3L364.6 454.6L366.0 454.6L367.4 453.4L368.8 452.5L370.2 451.9L371.6 450.7L373.0 450.9L374.4 450.6L375.8 450.9L377.2 447.3L378.6 447.5L380.0 446.5L381.4 445.3L382.8 443.3L384.2 443.2L385.6 440.9L387.0 441.0L388.4 440.0L389.8 439.6L391.2 438.7L392.6 435.9L394.0 434.6L395.4 431.9L396.8 428.9L398.2 419.4L399.6 412.0L401.0 405.1L402.4 397.6L403.8 390.1L405.2 383.1L406.6 374.2L408.0 368.0L409.4 361.3L410.8 351.8L412.2 347.2L413.6 340.2L415.0 334.5L416.4 329.5L417.8 325.3L419.2 324.3L420.6 324.8L422.0 328.9L423.4 332.3L424.8 336.0L426.2 341.5L427.6 350.0L429.0 359.0L430.4 365.1L431.8 368.2L433.2 374.0L434.6 379.5L436.0 385.1L437.4 387.5L438.8 389.9L440.2 390.8L441.6 389.6L443.0 387.8L444.4 381.6L445.8 373.7L447.2 365.9L448.6 354.6L450.0 344.6L451.4 334.8L452.8 326.4L454.2 321.1L455.6 324.2L457.0 326.4L458.4 333.2L459.8 339.6L461.2 347.8L462.6 357.6L464.0 364.3L465.4 372.3L466.8 380.6L468.2 384.8L469.6 386.1L471.0 388.6L472.4 391.8L473.8 391.3L475.2 390.7L476.6 393.0L478.0 394.2L479.4 394.9L480.8 396.2L482.2 397.1L483.6 394.2L485.0 392.2L486.4 392.4L487.8 392.6L489.2 391.6L490.6 393.8L492.0 397.2L493.4 400.1L494.8 403.0L496.2 407.0L497.6 411.3L499.0 413.1L500.4 416.7L501.8 419.2L503.2 421.8L504.6 421.8L506.0 423.9L507.4 426.4L508.8 427.4L510.2 428.9L511.6 429.8L513.0 431.6L514.4 432.3L515.8 431.4L517.2 432.2L518.6 433.0L520.0 433.7L521.4 433.0L522.8 433.8L524.2 433.1L525.6 434.9L527.0 434.5L528.4 435.1L529.8 436.9L531.2 437.5L532.6 436.3L534.0 438.1L535.4 438.3L536.8 440.1L538.2 439.2L539.6 440.9L541.0 440.2"/>
<path d="M566.0 458.0L567.5 458.0L569.0 458.0L570.5 458.0L572.0 458.0L573.5 458.0L575.0 458.0L576.5 458.0L578.0 458.0L579.5 458.0L581.0 458.0L582.5 458.0L584.0 458.0L585.5 458.0L587.0 458.0L588.5 458.0L590.0 458.0L591.5 458.0L593.0 458.0L594.5 458.0L596.0 458.0L597.5 458.0L599.0 458.0L600.5 458.0L602.0 458.0L603.5 458.0L605.0 458.0L606.5 458.0L608.0 458.0L609.5 458.0L611.0 458.1L612.5 458.0L614.0 458.0L615.5 458.1L617.0 457.9L618.5 458.2L620.0 458.1L621.5 457.9L623.0 457.9L624.5 457.8L626.0 457.6L627.5 458.0L629.0 458.2L630.5 457.9L632.0 458.0L633.5 458.0L635.0 458.3L636.5 458.2L638.0 458.2L639.5 458.4L641.0 457.9L642.5 458.4L644.0 457.9L645.5 458.0L647.0 458.6L648.5 458.2L650.0 457.6L651.5 458.3L653.0 458.5L654.5 458.5L656.0 457.8L657.5 457.8L659.0 458.2L660.5 458.0L662.0 458.8L663.5 458.4L665.0 458.8L666.5 458.9L668.0 458.6L669.5 458.1L671.0 458.1L672.5 457.6L674.0 458.0L675.5 458.3L677.0 458.1L678.5 458.5L680.0 458.0L681.5 458.3L683.0 457.5L684.5 458.0L686.0 459.0L687.5 457.8L689.0 458.2L690.5 458.7L692.0 459.3L693.5 459.0L695.0 458.8L696.5 457.6L698.0 457.1L699.5 457.9L701.0 458.2L702.5 458.3L704.0 457.8L705.5 457.4L707.0 458.1L708.5 458.6L710.0 458.3L711.5 458.0L713.0 458.4L714.5 458.0L716.0 459.0L717.5 459.2L719.0 459.3L720.5 458.5L722.0 457.7L723.5 457.8L725.0 458.8L726.5 457.9L728.0 459.3L729.5 458.2L731.0 458.8L732.5 459.1L734.0 457.8L735.5 458.8L737.0 459.2L738.5 458.9L740.0 457.3L741.5 457.9L743.0 457.2L744.5 457.9L746.0 458.8L747.5 458.5L749.0 458.8L750.5 458.6L752.0 457.6L753.5 456.8L755.0 458.1L756.5 458.2L758.0 458.1L759.5 458.5L761.0 459.2L762.5 459.3L764.0 459.5L765.5 459.7L767.0 458.5L768.5 458.9L770.0 458.5L771.5 458.9L773.0 457.5L774.5 458.8L776.0 459.1L777.5 459.2L779.0 457.6L780.5 457.7L782.0 458.3L783.5 458.0L785.0 458.8L786.5 459.4L788.0 459.2L789.5 459.9L791.0 460.5L792.5 460.6L794.0 458.3L795.5 458.7L797.0 458.6L798.5 457.4L800.0 456.3L801.5 457.3L803.0 457.9L804.5 457.9L806.0 458.6L807.5 458.2L809.0 458.3L810.5 459.3L812.0 458.3L813.5 456.9L815.0 458.1L816.5 457.4L818.0 456.8L819.5 457.4L821.0 457.9L822.5 458.5L824.0 458.7L825.5 457.7L827.0 457.1L828.5 457.1L830.0 456.4L831.5 457.1L833.0 457.3L834.5 457.2L836.0 456.9L837.5 457.2L839.0 457.1L840.5 456.3L842.0 456.6L843.5 458.5L845.0 459.5L846.5 460.0L848.0 459.2L849.5 459.7L851.0 458.0L852.5 458.8L854.0 459.4L855.5 459.5L857.0 459.6L858.5 459.1L860.0 459.3L861.5 459.5L863.0 459.5L864.5 457.4L866.0 458.7L867.5 457.6L869.0 457.3L870.5 458.7L872.0 459.4L873.5 458.8L875.0 458.4L876.5 455.8L878.0 455.2L879.5 452.3L881.0 451.3L882.5 449.3L884.0 448.9L885.5 447.5L887.0 445.3L888.5 444.3L890.0 443.0L891.5 441.8L893.0 439.8L894.5 439.1L896.0 438.2L897.5 437.2L899.0 435.8L900.5 434.5L902.0 436.4L903.5 438.2L905.0 440.9L906.5 443.7L908.0 444.0L909.5 445.6L911.0 448.0L912.5 451.2L914.0 454.3L915.5 458.4L917.0 459.1L918.5 458.8L920.0 459.0L921.5 459.3L923.0 459.7L924.5 460.2L926.0 461.2L927.5 458.1L929.0 448.9L930.5 451.9L932.0 459.2L933.5 460.5L935.0 460.8L936.5 460.6L938.0 459.8L939.5 459.1L941.0 465.4L942.5 484.9L944.0 473.0L945.5 459.8L947.0 458.9L948.5 460.2L950.0 460.6L951.5 460.8L953.0 460.0L954.5 460.3L956.0 458.8L957.5 459.6L959.0 459.1L960.5 461.1L962.0 461.8L963.5 460.4L965.0 460.3L966.5 459.7L968.0 459.6L969.5 475.1L971.0 484.4L972.5 465.5L974.0 461.2L975.5 461.5L977.0 460.7L978.5 459.9L980.0 461.4L981.5 462.2L983.0 461.3L984.5 461.7L986.0 462.5L987.5 462.4L989.0 461.5L990.5 460.4L992.0 458.9L993.5 459.0L995.0 457.8L996.5 463.6L998.0 464.3L999.5 458.5L1001.0 459.8L1002.5 459.9L1004.0 458.6L1005.5 458.9L1007.0 458.9L1008.5 458.2L1010.0 459.7L1011.5 454.1L1013.0 448.3L1014.5 458.5L1016.0 460.2L1017.5 459.8L1019.0 459.5L1020.5 460.0L1022.0 459.8L1023.5 460.8L1025.0 460.9L1026.5 459.6L1028.0 459.6L1029.5 460.7L1031.0 460.8L1032.5 460.0L1034.0 459.6L1035.5 459.9L1037.0 460.3L1038.5 460.1L1040.0 460.8L1041.5 459.9L1043.0 458.9L1044.5 459.7L1046.0 458.4L1047.5 460.4L1049.0 459.6L1050.5 459.1L1052.0 460.6L1053.5 460.7L1055.0 460.2L1056.5 460.6L1058.0 461.0L1059.5 461.0L1061.0 460.4L1062.5 461.8L1064.0 461.2L1065.5 460.9L1067.0 461.5L1068.5 460.4L1070.0 459.9L1071.5 459.3L1073.0 458.3L1074.5 458.8L1076.0 458.7L1077.5 458.8L1079.0 459.1L1080.5 462.0L1082.0 464.8L1083.5 461.2L1085.0 460.0L1086.5 461.1L1088.0 461.4L1089.5 460.1L1091.0 460.9L1092.5 460.2L1094.0 461.0L1095.5 459.8L1097.0 459.5L1098.5 459.0L1100.0 460.0L1101.5 459.3L1103.0 460.7L1104.5 462.7L1106.0 464.7L1107.5 461.2L1109.0 459.5L1110.5 459.5L1112.0 461.0L1113.5 459.9L1115.0 459.1L1116.5 458.6L1118.0 459.7L1119.5 459.0L1121.0 459.9L1122.5 459.2L1124.0 458.1L1125.5 458.4L1127.0 458.0L1128.5 459.3L1130.0 459.0L1131.5 458.5L1133.0 458.2L1134.5 458.2L1136.0 458.8L1137.5 459.4L1139.0 459.5L1140.5 457.9L1142.0 459.1L1143.5 459.0L1145.0 458.7L1146.5 459.7L1148.0 460.2L1149.5 459.6L1151.0 460.0L1152.5 459.7L1154.0 459.7L1155.5 459.2L1157.0 459.5L1158.5 459.7L1160.0 460.3L1161.5 459.2L1163.0 457.9L1164.5 455.8L1166.0 453.5L1167.5 453.1L1169.0 449.7L1170.5 445.0L1172.0 442.5L1173.5 438.7L1175.0 435.7L1176.5 435.1L1178.0 432.6L1179.5 431.4L1181.0 428.9L1182.5 427.8L1184.0 425.4L1185.5 425.4L1187.0 425.2L1188.5 424.2L1190.0 423.9L1191.5 416.9L1193.0 408.7L1194.5 402.5L1196.0 396.9L1197.5 389.7L1199.0 380.1L1200.5 374.7L1202.0 371.9L1203.5 367.9L1205.0 367.4L1206.5 369.8L1208.0 368.8L1209.5 366.8L1211.0 355.4L1212.5 345.3L1214.0 337.9L1215.5 328.8L1217.0 319.3L1218.5 302.6L1220.0 288.7L1221.5 281.6L1223.0 292.6L1224.5 304.3L1226.0 294.9L1227.5 290.5L1229.0 296.8L1230.5 302.2L1232.0 310.8L1233.5 308.8L1235.0 314.2L1236.5 305.8L1238.0 305.4L1239.5 321.1L1241.0 340.5L1242.5 371.6L1244.0 402.2L1245.5 403.0L1247.0 405.2L1248.5 415.8L1250.0 428.0L1251.5 437.5L1253.0 437.8L1254.5 438.6L1256.0 440.3L1257.5 439.5L1259.0 438.2L1260.5 438.9L1262.0 437.0L1263.5 439.9L1265.0 448.0L1266.5 454.2L1268.0 456.6L1269.5 458.5L1271.0 459.6L1272.5 463.2L1274.0 450.0L1275.5 439.9L1277.0 464.0L1278.5 478.1L1280.0 462.6L1281.5 458.5L1283.0 459.9L1284.5 461.1L1286.0 460.8L1287.5 468.2L1289.0 471.2L1290.5 460.7L1292.0 460.0L1293.5 458.8L1295.0 448.7L1296.5 452.5L1298.0 458.5L1299.5 457.9L1301.0 460.0L1302.5 459.7L1304.0 459.2L1305.5 454.4L1307.0 456.3L1308.5 462.1L1310.0 460.4L1311.5 459.9L1313.0 461.2L1314.5 460.0L1316.0 459.6L1317.5 461.3L1319.0 446.1L1320.5 439.8L1322.0 447.6L1323.5 449.1L1325.0 459.7L1326.5 460.2L1328.0 439.6L1329.5 452.7L1331.0 461.3L1332.5 460.8L1334.0 461.1L1335.5 460.0L1337.0 456.4L1338.5 438.8L1340.0 463.1L1341.5 471.4L1343.0 460.2L1344.5 461.0L1347.5 460.4L1350.0 450.3L1352.5 487.8L1355.0 473.1L1357.5 487.7L1360.0 577.4L1362.5 638.0L1364.0 583.3L1365.5 647.7L1368.0 539.4L1371.0 482.1L1374.5 436.1L1377.0 492.9L1380.0 494.0L1382.5 452.2L1384.5 452.3L1385.9 342.4"/>
<path d="M198.0 608.5L199.4 608.5L200.8 608.5L202.2 608.5L203.6 608.5L205.0 608.5L206.4 608.5L207.8 608.5L209.2 608.5L210.6 608.5L212.0 608.5L213.4 608.5L214.8 608.5L216.2 608.5L217.6 608.5L219.0 608.5L220.4 608.5L221.8 608.5L223.2 608.5L224.6 608.5L226.0 608.5L227.4 608.5L228.8 608.5L230.2 608.4L231.6 608.3L233.0 608.1L234.4 608.2L235.8 608.0L237.2 608.7L238.6 608.5L240.0 608.5L241.4 607.9L242.8 608.5L244.2 608.3L245.6 608.6L247.0 609.0L248.4 609.2L249.8 608.7L251.2 609.0L252.6 609.4L254.0 610.1L255.4 610.2L256.8 609.3L258.2 608.9L259.6 608.6L261.0 610.3L262.4 609.7L263.8 608.9L265.2 609.4L266.6 609.5L268.0 611.2L269.4 611.0L270.8 610.4L272.2 612.1L273.6 613.7L275.0 612.8L276.4 613.1L277.8 613.7L279.2 615.5L280.6 616.4L282.0 616.9L283.4 618.9L284.8 617.8L286.2 620.5L287.6 627.4L289.0 626.8L290.4 621.2L291.8 617.8L293.2 616.7L294.6 614.6L296.0 614.0L297.4 612.9L298.8 612.1L300.2 610.6L301.6 606.7L303.0 611.5L304.4 615.8L305.8 618.6L307.2 620.8L308.6 622.4L310.0 625.7L311.4 629.9L312.8 636.2L314.2 642.5L315.6 646.2L317.0 653.1L318.4 663.1L319.8 648.0L321.2 634.4L322.6 624.0L324.0 623.1L325.4 619.7L326.8 618.0L328.2 615.3L329.6 613.7L331.0 613.8L332.4 613.5L333.8 611.7L335.2 611.6L336.6 612.7L338.0 611.7L339.4 611.9L340.8 610.9L342.2 610.5L343.6 610.9L345.0 610.0L346.4 608.2L347.8 609.1L349.2 608.6L350.6 606.4L352.0 605.5L353.4 604.5L354.8 603.6L356.2 604.7L357.6 604.2L359.0 603.3L360.4 602.6L361.8 603.0L363.2 601.6L364.6 602.4L366.0 600.5L367.4 601.8L368.8 599.2L370.2 599.2L371.6 600.5L373.0 599.7L374.4 598.3L375.8 595.3L377.2 596.4L378.6 594.6L380.0 593.3L381.4 594.7L382.8 593.0L384.2 592.2L385.6 589.5L387.0 589.3L388.4 588.0L389.8 588.0L391.2 585.7L392.6 582.5L394.0 581.5L395.4 581.0L396.8 579.3L398.2 569.8L399.6 559.5L401.0 550.2L402.4 543.8L403.8 535.4L405.2 528.0L406.6 520.3L408.0 513.7L409.4 506.8L410.8 497.4L412.2 490.8L413.6 485.6L415.0 480.2L416.4 476.8L417.8 470.8L419.2 468.1L420.6 468.3L422.0 471.6L423.4 475.3L424.8 481.2L426.2 484.9L427.6 495.0L429.0 503.6L430.4 509.6L431.8 516.8L433.2 520.5L434.6 527.7L436.0 532.2L437.4 535.2L438.8 537.6L440.2 537.3L441.6 537.2L443.0 533.5L444.4 525.7L445.8 518.9L447.2 507.5L448.6 495.5L450.0 482.5L451.4 471.4L452.8 462.6L454.2 457.8L455.6 460.5L457.0 465.2L458.4 471.6L459.8 477.3L461.2 486.8L462.6 494.8L464.0 505.0L465.4 513.1L466.8 524.3L468.2 527.6L469.6 530.1L471.0 532.1L472.4 533.6L473.8 534.0L475.2 536.7L476.6 536.6L478.0 536.1L479.4 536.9L480.8 539.9L482.2 542.1L483.6 541.0L485.0 540.1L486.4 539.6L487.8 536.8L489.2 537.4L490.6 538.8L492.0 543.6L493.4 547.5L494.8 549.5L496.2 553.1L497.6 556.6L499.0 560.2L500.4 563.3L501.8 565.7L503.2 568.5L504.6 568.8L506.0 570.8L507.4 572.9L508.8 576.3L510.2 575.5L511.6 576.9L513.0 577.6L514.4 578.6L515.8 580.0L517.2 580.5L518.6 582.2L520.0 583.0L521.4 582.6L522.8 582.1L524.2 581.5L525.6 581.2L527.0 584.0L528.4 582.7L529.8 582.9L531.2 583.9L532.6 586.1L534.0 586.7L535.4 585.7L536.8 587.6L538.2 586.7L539.6 587.3L541.0 589.2"/>
<path d="M566.0 605.5L567.5 605.5L569.0 605.5L570.5 605.5L572.0 605.5L573.5 605.5L575.0 605.5L576.5 605.5L578.0 605.5L579.5 605.5L581.0 605.5L582.5 605.5L584.0 605.5L585.5 605.5L587.0 605.5L588.5 605.5L590.0 605.5L591.5 605.5L593.0 605.5L594.5 605.5L596.0 605.5L597.5 605.5L599.0 605.5L600.5 605.5L602.0 605.5L603.5 605.5L605.0 605.5L606.5 605.4L608.0 605.4L609.5 605.5L611.0 605.4L612.5 605.4L614.0 605.4L615.5 605.3L617.0 605.2L618.5 605.3L620.0 605.5L621.5 605.6L623.0 605.6L624.5 605.7L626.0 605.9L627.5 605.5L629.0 605.4L630.5 605.1L632.0 605.1L633.5 605.4L635.0 605.5L636.5 605.9L638.0 605.3L639.5 605.6L641.0 605.8L642.5 605.3L644.0 605.1L645.5 605.7L647.0 606.1L648.5 605.9L650.0 605.6L651.5 605.9L653.0 605.2L654.5 605.3L656.0 606.0L657.5 606.1L659.0 605.0L660.5 605.3L662.0 605.6L663.5 606.1L665.0 606.4L666.5 605.3L668.0 605.4L669.5 605.5L671.0 605.5L672.5 605.2L674.0 605.8L675.5 605.6L677.0 604.6L678.5 605.6L680.0 605.7L681.5 604.8L683.0 605.3L684.5 606.0L686.0 606.3L687.5 605.6L689.0 605.1L690.5 605.6L692.0 605.3L693.5 605.3L695.0 605.0L696.5 606.7L698.0 606.2L699.5 606.4L701.0 605.3L702.5 606.0L704.0 606.7L705.5 605.3L707.0 605.6L708.5 604.7L710.0 605.7L711.5 606.1L713.0 605.7L714.5 605.3L716.0 605.5L717.5 604.8L719.0 605.0L720.5 605.6L722.0 606.3L723.5 606.3L725.0 606.4L726.5 605.7L728.0 604.5L729.5 605.5L731.0 605.8L732.5 606.3L734.0 606.6L735.5 605.5L737.0 606.1L738.5 606.8L740.0 605.9L741.5 605.0L743.0 604.8L744.5 604.1L746.0 604.3L747.5 603.9L749.0 605.5L750.5 606.3L752.0 607.1L753.5 606.0L755.0 606.3L756.5 607.2L758.0 606.8L759.5 605.3L761.0 605.6L762.5 604.7L764.0 605.2L765.5 606.9L767.0 606.4L768.5 607.2L770.0 605.3L771.5 605.7L773.0 604.8L774.5 605.5L776.0 606.3L777.5 607.2L779.0 605.3L780.5 605.1L782.0 605.6L783.5 605.4L785.0 605.2L786.5 606.9L788.0 606.4L789.5 607.0L791.0 606.2L792.5 606.7L794.0 605.8L795.5 605.5L797.0 605.2L798.5 605.6L800.0 605.6L801.5 605.3L803.0 606.3L804.5 605.5L806.0 606.7L807.5 606.1L809.0 604.5L810.5 604.0L812.0 604.9L813.5 604.1L815.0 605.8L816.5 605.8L818.0 606.0L819.5 606.4L821.0 605.1L822.5 605.3L824.0 605.1L825.5 604.7L827.0 606.1L828.5 606.2L830.0 605.9L831.5 604.5L833.0 604.8L834.5 604.0L836.0 604.0L837.5 604.0L839.0 605.5L840.5 605.4L842.0 605.3L843.5 605.7L845.0 604.5L846.5 604.7L848.0 606.3L849.5 605.4L851.0 605.8L852.5 606.4L854.0 604.4L855.5 605.6L857.0 605.9L858.5 605.4L860.0 606.6L861.5 605.5L863.0 605.0L864.5 604.5L866.0 606.4L867.5 607.0L869.0 606.8L870.5 605.5L872.0 604.9L873.5 605.5L875.0 604.2L876.5 603.8L878.0 603.7L879.5 601.2L881.0 600.8L882.5 600.4L884.0 597.8L885.5 597.4L887.0 595.0L888.5 594.1L890.0 593.2L891.5 590.5L893.0 591.1L894.5 590.1L896.0 588.4L897.5 585.8L899.0 586.1L900.5 585.1L902.0 586.0L903.5 586.0L905.0 587.6L906.5 588.4L908.0 589.7L909.5 592.8L911.0 595.6L912.5 600.0L914.0 603.1L915.5 604.4L917.0 606.7L918.5 607.5L920.0 607.1L921.5 606.4L923.0 607.2L924.5 606.5L926.0 607.4L927.5 606.4L929.0 607.3L930.5 607.2L932.0 607.3L933.5 605.6L935.0 606.6L936.5 605.8L938.0 606.1L939.5 607.8L941.0 606.9L942.5 622.8L944.0 640.7L945.5 616.4L947.0 607.0L948.5 607.8L950.0 608.6L951.5 608.4L953.0 608.5L954.5 607.8L956.0 607.9L957.5 606.5L959.0 605.9L960.5 608.0L962.0 607.2L963.5 607.2L965.0 606.1L966.5 607.7L968.0 606.8L969.5 605.6L971.0 605.9L972.5 606.3L974.0 606.9L975.5 607.4L977.0 608.1L978.5 607.9L980.0 607.2L981.5 606.6L983.0 607.3L984.5 606.8L986.0 607.0L987.5 606.9L989.0 607.9L990.5 606.8L992.0 608.1L993.5 607.5L995.0 609.3L996.5 607.9L998.0 605.1L999.5 598.7L1001.0 605.5L1002.5 608.2L1004.0 608.8L1005.5 607.9L1007.0 608.0L1008.5 607.5L1010.0 606.3L1011.5 596.0L1013.0 584.8L1014.5 601.8L1016.0 607.0L1017.5 607.5L1019.0 606.7L1020.5 606.5L1022.0 607.8L1023.5 606.7L1025.0 605.9L1026.5 604.2L1028.0 600.7L1029.5 604.1L1031.0 606.0L1032.5 607.4L1034.0 606.4L1035.5 606.3L1037.0 606.7L1038.5 607.4L1040.0 607.6L1041.5 607.2L1043.0 607.0L1044.5 606.9L1046.0 606.9L1047.5 606.1L1049.0 606.8L1050.5 607.1L1052.0 608.7L1053.5 608.3L1055.0 607.2L1056.5 607.8L1058.0 606.4L1059.5 606.1L1061.0 606.2L1062.5 606.6L1064.0 607.4L1065.5 608.6L1067.0 607.0L1068.5 607.6L1070.0 608.0L1071.5 606.6L1073.0 607.2L1074.5 606.4L1076.0 605.6L1077.5 606.7L1079.0 606.2L1080.5 608.0L1082.0 611.5L1083.5 608.2L1085.0 606.3L1086.5 607.7L1088.0 607.8L1089.5 608.1L1091.0 607.2L1092.5 606.4L1094.0 606.3L1095.5 607.4L1097.0 607.6L1098.5 607.9L1100.0 608.7L1101.5 607.4L1103.0 607.7L1104.5 606.7L1106.0 607.2L1107.5 606.8L1109.0 606.8L1110.5 607.5L1112.0 608.6L1113.5 609.1L1115.0 608.6L1116.5 608.8L1118.0 607.6L1119.5 606.7L1121.0 606.4L1122.5 606.5L1124.0 606.5L1125.5 607.9L1127.0 607.8L1128.5 606.9L1130.0 607.2L1131.5 606.5L1133.0 607.4L1134.5 608.2L1136.0 607.3L1137.5 607.1L1139.0 606.9L1140.5 607.6L1142.0 606.3L1143.5 606.3L1145.0 605.6L1146.5 606.7L1148.0 607.1L1149.5 605.6L1151.0 606.0L1152.5 606.0L1154.0 605.5L1155.5 605.8L1157.0 605.4L1158.5 606.2L1160.0 606.4L1161.5 606.3L1163.0 604.4L1164.5 603.6L1166.0 601.4L1167.5 598.9L1169.0 595.9L1170.5 591.1L1172.0 590.1L1173.5 587.5L1175.0 584.8L1176.5 582.5L1178.0 578.8L1179.5 578.2L1181.0 577.1L1182.5 573.2L1184.0 571.1L1185.5 571.3L1187.0 571.3L1188.5 571.3L1190.0 569.5L1191.5 563.8L1193.0 555.2L1194.5 549.7L1196.0 545.3L1197.5 537.6L1199.0 529.2L1200.5 522.1L1202.0 517.9L1203.5 514.0L1205.0 514.0L1206.5 515.1L1208.0 516.8L1209.5 513.8L1211.0 505.0L1212.5 496.3L1214.0 487.8L1215.5 478.4L1217.0 467.8L1218.5 452.2L1220.0 437.2L1221.5 430.1L1223.0 440.1L1224.5 450.3L1226.0 445.0L1227.5 442.8L1229.0 443.4L1230.5 450.4L1232.0 462.4L1233.5 465.9L1235.0 454.6L1236.5 452.5L1238.0 452.8L1239.5 467.5L1241.0 487.3L1242.5 516.7L1244.0 550.2L1245.5 550.8L1247.0 552.6L1248.5 564.5L1250.0 576.7L1251.5 584.7L1253.0 585.3L1254.5 586.6L1256.0 587.6L1257.5 587.8L1259.0 587.1L1260.5 586.6L1262.0 585.7L1263.5 586.6L1265.0 593.8L1266.5 602.0L1268.0 603.4L1269.5 605.4L1271.0 606.3L1272.5 606.9L1274.0 607.6L1275.5 601.0L1277.0 592.3L1278.5 608.1L1280.0 607.6L1281.5 586.9L1283.0 599.0L1284.5 603.9L1286.0 614.8L1287.5 608.5L1289.0 608.6L1290.5 602.6L1292.0 585.3L1293.5 605.7L1295.0 607.6L1296.5 607.7L1298.0 607.8L1299.5 594.7L1301.0 592.4L1302.5 625.9L1304.0 612.7L1305.5 605.6L1307.0 605.9L1308.5 607.1L1310.0 607.4L1311.5 587.7L1313.0 599.8L1314.5 606.8L1316.0 602.2L1317.5 587.2L1319.0 606.0L1320.5 608.4L1322.0 608.2L1323.5 608.2L1325.0 608.2L1326.5 607.0L1328.0 606.0L1329.5 607.1L1331.0 615.8L1332.5 614.4L1334.0 609.5L1335.5 624.3L1337.0 606.3L1338.5 602.1L1340.0 601.0L1341.5 606.6L1343.0 602.9L1344.5 601.6L1347.5 607.3L1350.0 607.9L1352.5 629.2L1355.0 622.7L1357.5 644.7L1360.0 713.0L1362.5 785.8L1364.0 724.6L1365.5 795.0L1368.0 697.6L1371.0 642.2L1374.5 576.8L1377.0 621.9L1380.0 663.1L1382.5 593.8L1384.5 616.2L1385.9 491.4"/>
<path d="M198.0 748.0L199.4 748.0L200.8 748.0L202.2 748.0L203.6 748.0L205.0 748.0L206.4 748.0L207.8 748.0L209.2 748.0L210.6 748.0L212.0 748.0L213.4 748.0L214.8 748.0L216.2 748.0L217.6 748.0L219.0 748.0L220.4 748.0L221.8 748.0L223.2 748.0L224.6 748.0L226.0 748.0L227.4 748.0L228.8 748.0L230.2 747.9L231.6 748.0L233.0 748.0L234.4 747.9L235.8 748.1L237.2 748.3L238.6 748.3L240.0 748.6L241.4 748.3L242.8 749.0L244.2 748.2L245.6 748.0L247.0 747.4L248.4 746.9L249.8 748.4L251.2 748.2L252.6 749.3L254.0 748.7L255.4 749.1L256.8 749.2L258.2 748.5L259.6 748.2L261.0 749.3L262.4 748.9L263.8 748.1L265.2 750.4L266.6 751.9L268.0 751.0L269.4 751.2L270.8 750.7L272.2 752.1L273.6 753.2L275.0 754.6L276.4 753.9L277.8 754.8L279.2 755.3L280.6 757.0L282.0 757.7L283.4 755.8L284.8 756.8L286.2 761.2L287.6 767.2L289.0 765.6L290.4 758.8L291.8 754.2L293.2 754.0L294.6 753.5L296.0 753.5L297.4 750.8L298.8 751.1L300.2 749.7L301.6 747.5L303.0 751.3L304.4 753.8L305.8 755.0L307.2 756.5L308.6 759.8L310.0 761.0L311.4 763.0L312.8 767.4L314.2 770.6L315.6 774.6L317.0 780.8L318.4 788.7L319.8 776.5L321.2 767.1L322.6 760.9L324.0 757.6L325.4 756.3L326.8 754.6L328.2 753.1L329.6 752.6L331.0 750.1L332.4 749.3L333.8 751.0L335.2 748.8L336.6 748.7L338.0 749.2L339.4 749.1L340.8 748.6L342.2 749.3L343.6 749.0L345.0 747.7L346.4 745.5L347.8 747.4L349.2 746.3L350.6 747.0L352.0 744.7L353.4 743.4L354.8 743.7L356.2 743.8L357.6 743.7L359.0 743.8L360.4 743.2L361.8 742.3L363.2 741.2L364.6 742.1L366.0 742.7L367.4 740.4L368.8 739.8L370.2 740.7L371.6 739.0L373.0 736.9L374.4 736.1L375.8 735.4L377.2 733.5L378.6 734.1L380.0 732.2L381.4 730.4L382.8 731.5L384.2 728.6L385.6 727.0L387.0 725.9L388.4 725.9L389.8 725.2L391.2 724.8L392.6 723.8L394.0 721.2L395.4 720.4L396.8 717.4L398.2 707.3L399.6 698.7L401.0 689.8L402.4 683.2L403.8 675.4L405.2 669.5L406.6 661.8L408.0 654.1L409.4 647.5L410.8 638.3L412.2 631.5L413.6 624.7L415.0 619.3L416.4 614.5L417.8 610.4L419.2 606.2L420.6 607.2L422.0 610.8L423.4 614.1L424.8 618.1L426.2 622.8L427.6 632.3L429.0 643.1L430.4 649.6L431.8 655.4L433.2 660.1L434.6 666.4L436.0 673.4L437.4 675.6L438.8 678.2L440.2 678.8L441.6 676.9L443.0 675.2L444.4 670.4L445.8 662.6L447.2 652.0L448.6 641.2L450.0 629.5L451.4 619.1L452.8 610.7L454.2 607.0L455.6 609.4L457.0 611.6L458.4 618.0L459.8 623.6L461.2 631.9L462.6 643.1L464.0 651.1L465.4 657.7L466.8 665.2L468.2 668.5L469.6 670.9L471.0 673.1L472.4 674.8L473.8 675.5L475.2 673.8L476.6 675.1L478.0 674.7L479.4 675.2L480.8 678.4L482.2 679.7L483.6 678.3L485.0 677.3L486.4 677.2L487.8 674.3L489.2 673.6L490.6 676.4L492.0 679.1L493.4 681.4L494.8 685.8L496.2 689.8L497.6 693.1L499.0 696.0L500.4 698.3L501.8 701.9L503.2 705.6L504.6 707.0L506.0 708.1L507.4 709.5L508.8 713.0L510.2 713.1L511.6 714.5L513.0 714.4L514.4 716.7L515.8 717.6L517.2 718.2L518.6 718.4L520.0 718.7L521.4 720.3L522.8 720.3L524.2 721.7L525.6 721.4L527.0 723.6L528.4 724.6L529.8 725.0L531.2 724.2L532.6 723.5L534.0 723.9L535.4 725.2L536.8 726.9L538.2 727.4L539.6 729.0L541.0 728.0"/>
<path d="M566.0 745.0L567.5 745.0L569.0 745.0L570.5 744.9L572.0 744.9L573.5 744.9L575.0 744.9L576.5 744.9L578.0 744.9L579.5 744.8L581.0 744.8L582.5 744.8L584.0 744.8L585.5 744.8L587.0 744.7L588.5 744.7L590.0 744.7L591.5 744.7L593.0 744.7L594.5 744.7L596.0 744.6L597.5 744.6L599.0 744.6L600.5 744.6L602.0 744.6L603.5 744.6L605.0 744.5L606.5 744.5L608.0 744.6L609.5 744.6L611.0 744.6L612.5 744.4L614.0 744.6L615.5 744.6L617.0 744.6L618.5 744.4L620.0 744.2L621.5 744.1L623.0 744.5L624.5 744.3L626.0 744.3L627.5 744.2L629.0 744.3L630.5 744.4L632.0 744.0L633.5 743.9L635.0 744.1L636.5 744.2L638.0 744.2L639.5 744.1L641.0 744.0L642.5 743.9L644.0 744.6L645.5 744.6L647.0 744.7L648.5 744.3L650.0 743.9L651.5 744.7L653.0 744.4L654.5 744.0L656.0 743.2L657.5 743.5L659.0 742.8L660.5 743.6L662.0 743.4L663.5 743.7L665.0 743.8L666.5 743.5L668.0 744.0L669.5 743.2L671.0 743.2L672.5 744.1L674.0 744.8L675.5 744.3L677.0 743.4L678.5 744.1L680.0 744.4L681.5 743.6L683.0 744.0L684.5 744.1L686.0 744.6L687.5 743.8L689.0 742.6L690.5 743.7L692.0 743.3L693.5 744.0L695.0 743.9L696.5 744.0L698.0 744.6L699.5 743.3L701.0 743.1L702.5 743.8L704.0 743.7L705.5 743.0L707.0 744.4L708.5 744.4L710.0 742.6L711.5 742.8L713.0 743.4L714.5 743.9L716.0 742.6L717.5 743.0L719.0 743.6L720.5 742.1L722.0 742.0L723.5 743.8L725.0 743.3L726.5 742.2L728.0 742.7L729.5 741.7L731.0 741.9L732.5 744.0L734.0 742.9L735.5 743.8L737.0 743.0L738.5 744.3L740.0 744.2L741.5 743.8L743.0 743.9L744.5 743.4L746.0 744.5L747.5 744.3L749.0 743.3L750.5 744.3L752.0 743.6L753.5 743.8L755.0 741.6L756.5 742.6L758.0 743.2L759.5 744.2L761.0 743.5L762.5 743.5L764.0 742.6L765.5 743.1L767.0 742.5L768.5 743.6L770.0 741.3L771.5 742.4L773.0 742.0L774.5 742.7L776.0 743.1L777.5 743.0L779.0 743.8L780.5 743.8L782.0 743.0L783.5 742.8L785.0 742.5L786.5 741.7L788.0 741.5L789.5 741.7L791.0 741.7L792.5 742.1L794.0 740.9L795.5 742.1L797.0 742.8L798.5 742.8L800.0 742.4L801.5 742.1L803.0 742.0L804.5 740.8L806.0 740.9L807.5 740.9L809.0 740.5L810.5 740.6L812.0 741.4L813.5 742.0L815.0 741.8L816.5 742.7L818.0 741.7L819.5 742.2L821.0 741.3L822.5 741.7L824.0 742.3L825.5 740.9L827.0 741.5L828.5 742.2L830.0 740.8L831.5 740.7L833.0 741.0L834.5 740.4L836.0 741.8L837.5 741.8L839.0 743.0L840.5 741.2L842.0 741.3L843.5 740.0L845.0 740.4L846.5 740.3L848.0 740.9L849.5 741.5L851.0 741.7L852.5 741.8L854.0 741.3L855.5 740.9L857.0 741.5L858.5 741.6L860.0 742.5L861.5 741.9L863.0 741.4L864.5 741.7L866.0 740.4L867.5 740.2L869.0 740.5L870.5 741.3L872.0 741.5L873.5 740.1L875.0 738.6L876.5 737.2L878.0 736.6L879.5 734.9L881.0 734.3L882.5 734.9L884.0 733.4L885.5 733.7L887.0 733.4L888.5 733.5L890.0 731.0L891.5 730.0L893.0 729.0L894.5 727.1L896.0 726.1L897.5 726.1L899.0 725.0L900.5 723.5L902.0 724.5L903.5 726.8L905.0 729.3L906.5 731.9L908.0 732.6L909.5 735.3L911.0 737.4L912.5 739.5L914.0 741.3L915.5 743.5L917.0 744.9L918.5 745.1L920.0 746.6L921.5 747.8L923.0 746.7L924.5 747.3L926.0 748.3L927.5 747.5L929.0 740.7L930.5 742.2L932.0 746.4L933.5 747.5L935.0 748.0L936.5 748.2L938.0 748.5L939.5 747.8L941.0 748.2L942.5 747.1L944.0 746.1L945.5 747.0L947.0 746.7L948.5 747.6L950.0 748.3L951.5 747.7L953.0 746.4L954.5 746.2L956.0 746.2L957.5 756.1L959.0 753.0L960.5 746.5L962.0 746.1L963.5 746.2L965.0 746.9L966.5 746.9L968.0 747.3L969.5 747.7L971.0 754.1L972.5 751.9L974.0 746.2L975.5 747.2L977.0 746.7L978.5 746.4L980.0 746.0L981.5 747.3L983.0 747.2L984.5 746.2L986.0 746.9L987.5 747.6L989.0 747.8L990.5 746.4L992.0 747.7L993.5 747.5L995.0 747.7L996.5 748.2L998.0 746.5L999.5 745.8L1001.0 746.4L1002.5 745.6L1004.0 747.6L1005.5 746.8L1007.0 748.3L1008.5 747.3L1010.0 747.1L1011.5 743.5L1013.0 737.4L1014.5 745.1L1016.0 745.8L1017.5 745.1L1019.0 746.2L1020.5 747.8L1022.0 747.5L1023.5 747.1L1025.0 745.7L1026.5 747.8L1028.0 745.8L1029.5 745.9L1031.0 746.9L1032.5 746.3L1034.0 747.2L1035.5 748.2L1037.0 748.3L1038.5 747.6L1040.0 747.5L1041.5 747.1L1043.0 746.7L1044.5 746.9L1046.0 746.1L1047.5 747.1L1049.0 748.2L1050.5 747.7L1052.0 746.1L1053.5 745.9L1055.0 745.7L1056.5 746.7L1058.0 748.3L1059.5 748.5L1061.0 746.4L1062.5 747.4L1064.0 746.7L1065.5 746.1L1067.0 745.9L1068.5 747.1L1070.0 744.2L1071.5 739.6L1073.0 744.6L1074.5 746.7L1076.0 747.1L1077.5 747.9L1079.0 746.0L1080.5 749.3L1082.0 752.6L1083.5 748.6L1085.0 746.7L1086.5 745.6L1088.0 747.0L1089.5 747.0L1091.0 746.9L1092.5 747.5L1094.0 748.0L1095.5 747.6L1097.0 746.8L1098.5 747.5L1100.0 747.1L1101.5 746.7L1103.0 747.1L1104.5 746.3L1106.0 746.5L1107.5 747.5L1109.0 746.7L1110.5 745.8L1112.0 745.4L1113.5 745.7L1115.0 745.0L1116.5 745.7L1118.0 747.0L1119.5 746.1L1121.0 747.5L1122.5 747.7L1124.0 746.5L1125.5 747.1L1127.0 746.5L1128.5 747.6L1130.0 746.7L1131.5 747.3L1133.0 747.1L1134.5 748.0L1136.0 747.8L1137.5 746.7L1139.0 746.2L1140.5 747.4L1142.0 747.3L1143.5 747.9L1145.0 747.6L1146.5 746.2L1148.0 747.2L1149.5 747.0L1151.0 747.1L1152.5 747.0L1154.0 746.0L1155.5 745.5L1157.0 745.5L1158.5 744.9L1160.0 743.6L1161.5 744.2L1163.0 744.3L1164.5 742.3L1166.0 739.4L1167.5 737.4L1169.0 732.9L1170.5 729.6L1172.0 726.3L1173.5 723.9L1175.0 719.7L1176.5 716.4L1178.0 714.5L1179.5 712.4L1181.0 710.7L1182.5 710.8L1184.0 708.9L1185.5 707.3L1187.0 706.9L1188.5 705.4L1190.0 704.6L1191.5 696.6L1193.0 688.0L1194.5 682.8L1196.0 677.2L1197.5 669.4L1199.0 659.5L1200.5 651.0L1202.0 647.0L1203.5 644.3L1205.0 643.0L1206.5 644.4L1208.0 646.9L1209.5 644.1L1211.0 631.7L1212.5 620.2L1214.0 611.9L1215.5 603.3L1217.0 591.4L1218.5 573.3L1220.0 557.0L1221.5 551.2L1223.0 561.1L1224.5 572.9L1226.0 563.9L1227.5 557.1L1229.0 560.8L1230.5 571.0L1232.0 576.0L1233.5 566.6L1235.0 574.1L1236.5 572.9L1238.0 565.4L1239.5 590.4L1241.0 614.8L1242.5 646.8L1244.0 683.4L1245.5 685.2L1247.0 687.1L1248.5 698.7L1250.0 711.1L1251.5 719.8L1253.0 721.8L1254.5 723.4L1256.0 725.6L1257.5 725.4L1259.0 723.0L1260.5 723.1L1262.0 721.3L1263.5 723.6L1265.0 731.6L1266.5 741.9L1268.0 744.1L1269.5 746.3L1271.0 746.8L1272.5 747.1L1274.0 746.9L1275.5 747.4L1277.0 731.8L1278.5 733.7L1280.0 746.5L1281.5 747.4L1283.0 748.8L1284.5 749.2L1286.0 770.8L1287.5 775.7L1289.0 754.2L1290.5 746.8L1292.0 746.7L1293.5 747.4L1295.0 767.8L1296.5 760.7L1298.0 747.8L1299.5 739.0L1301.0 748.3L1302.5 748.7L1304.0 746.8L1305.5 734.6L1307.0 732.8L1308.5 737.5L1310.0 746.7L1311.5 732.1L1313.0 721.0L1314.5 745.6L1316.0 746.7L1317.5 746.4L1319.0 746.5L1320.5 746.4L1322.0 746.5L1323.5 747.4L1325.0 746.6L1326.5 747.3L1328.0 747.2L1329.5 746.7L1331.0 747.4L1332.5 745.8L1334.0 746.1L1335.5 745.0L1337.0 740.5L1338.5 730.1L1340.0 742.4L1341.5 741.2L1343.0 745.2L1344.5 742.1L1347.5 745.8L1350.0 735.1L1352.5 783.2L1355.0 754.4L1357.5 789.6L1360.0 866.8L1362.5 925.2L1364.0 872.3L1365.5 924.4L1368.0 826.3L1371.0 785.7L1374.5 732.3L1377.0 771.9L1380.0 798.0L1382.5 732.2L1384.5 762.5L1385.9 607.9"/>
<path d="M198.0 895.5L199.4 895.5L200.8 895.5L202.2 895.5L203.6 895.5L205.0 895.5L206.4 895.5L207.8 895.5L209.2 895.5L210.6 895.5L212.0 895.5L213.4 895.5L214.8 895.5L216.2 895.5L217.6 895.5L219.0 895.5L220.4 895.5L221.8 895.5L223.2 895.5L224.6 895.5L226.0 895.6L227.4 895.5L228.8 895.5L230.2 895.6L231.6 895.8L233.0 895.9L234.4 895.5L235.8 895.3L237.2 894.9L238.6 895.4L240.0 895.0L241.4 894.8L242.8 895.0L244.2 895.6L245.6 895.0L247.0 895.5L248.4 895.4L249.8 896.0L251.2 896.3L252.6 896.9L254.0 896.6L255.4 895.8L256.8 897.4L258.2 896.6L259.6 895.1L261.0 896.6L262.4 897.6L263.8 897.3L265.2 898.2L266.6 898.2L268.0 897.9L269.4 897.5L270.8 898.9L272.2 900.7L273.6 900.4L275.0 901.6L276.4 901.9L277.8 902.4L279.2 903.4L280.6 903.9L282.0 904.5L283.4 903.1L284.8 904.8L286.2 907.7L287.6 915.0L289.0 912.8L290.4 906.6L291.8 902.2L293.2 901.5L294.6 900.0L296.0 899.7L297.4 899.3L298.8 898.9L300.2 897.1L301.6 895.0L303.0 900.7L304.4 904.0L305.8 906.8L307.2 909.8L308.6 912.3L310.0 915.2L311.4 920.0L312.8 925.9L314.2 931.9L315.6 935.8L317.0 941.8L318.4 952.9L319.8 936.1L321.2 921.6L322.6 912.5L324.0 910.9L325.4 905.6L326.8 902.8L328.2 902.5L329.6 902.3L331.0 899.9L332.4 898.7L333.8 897.2L335.2 895.6L336.6 896.7L338.0 897.0L339.4 897.1L340.8 896.2L342.2 896.2L343.6 895.4L345.0 893.2L346.4 893.0L347.8 893.8L349.2 892.5L350.6 891.9L352.0 893.4L353.4 894.5L354.8 894.5L356.2 894.2L357.6 892.8L359.0 892.4L360.4 892.6L361.8 890.8L363.2 889.7L364.6 889.6L366.0 889.1L367.4 886.0L368.8 886.9L370.2 886.2L371.6 885.2L373.0 884.2L374.4 882.5L375.8 882.0L377.2 883.2L378.6 882.1L380.0 881.0L381.4 879.4L382.8 879.6L384.2 879.0L385.6 876.4L387.0 874.3L388.4 873.9L389.8 871.6L391.2 871.2L392.6 870.7L394.0 869.3L395.4 866.3L396.8 866.0L398.2 855.1L399.6 848.2L401.0 841.9L402.4 834.4L403.8 826.6L405.2 818.3L406.6 809.9L408.0 803.5L409.4 799.3L410.8 790.9L412.2 784.9L413.6 777.7L415.0 771.7L416.4 767.6L417.8 763.1L419.2 761.8L420.6 761.9L422.0 765.3L423.4 769.4L424.8 773.3L426.2 777.3L427.6 784.9L429.0 795.4L430.4 802.2L431.8 805.3L433.2 810.2L434.6 818.0L436.0 821.8L437.4 824.7L438.8 826.6L440.2 827.0L441.6 823.8L443.0 822.5L444.4 818.2L445.8 812.6L447.2 803.5L448.6 792.3L450.0 781.3L451.4 773.3L452.8 766.1L454.2 760.8L455.6 764.3L457.0 767.7L458.4 773.4L459.8 779.7L461.2 786.6L462.6 796.5L464.0 804.4L465.4 811.0L466.8 817.2L468.2 821.5L469.6 823.8L471.0 825.9L472.4 829.6L473.8 831.0L475.2 831.3L476.6 829.7L478.0 830.8L479.4 833.5L480.8 833.4L482.2 834.2L483.6 833.9L485.0 832.2L486.4 832.0L487.8 829.5L489.2 829.9L490.6 831.4L492.0 834.2L493.4 837.4L494.8 841.2L496.2 843.3L497.6 847.8L499.0 849.3L500.4 851.9L501.8 855.2L503.2 857.5L504.6 859.3L506.0 859.7L507.4 861.2L508.8 863.9L510.2 865.6L511.6 866.2L513.0 866.8L514.4 868.9L515.8 868.3L517.2 869.5L518.6 870.9L520.0 871.2L521.4 870.9L522.8 872.1L524.2 871.1L525.6 870.5L527.0 870.9L528.4 871.9L529.8 873.1L531.2 875.1L532.6 875.3L534.0 875.6L535.4 876.5L536.8 874.9L538.2 875.5L539.6 877.3L541.0 877.3"/>
<path d="M566.0 893.0L567.5 893.0L569.0 893.0L570.5 893.0L572.0 893.0L573.5 893.0L575.0 892.9L576.5 892.9L578.0 892.9L579.5 892.9L581.0 892.9L582.5 892.9L584.0 892.9L585.5 892.9L587.0 892.9L588.5 892.9L590.0 892.9L591.5 892.8L593.0 892.8L594.5 892.8L596.0 892.8L597.5 892.8L599.0 892.8L600.5 892.8L602.0 892.8L603.5 892.8L605.0 892.7L606.5 892.8L608.0 892.9L609.5 892.8L611.0 892.7L612.5 892.6L614.0 892.6L615.5 892.6L617.0 892.5L618.5 892.5L620.0 892.5L621.5 892.8L623.0 892.7L624.5 892.6L626.0 892.5L627.5 892.4L629.0 892.7L630.5 892.7L632.0 892.9L633.5 892.9L635.0 892.7L636.5 892.9L638.0 892.7L639.5 893.0L641.0 892.5L642.5 892.3L644.0 892.2L645.5 892.0L647.0 892.2L648.5 892.2L650.0 892.0L651.5 891.9L653.0 891.7L654.5 891.8L656.0 892.4L657.5 891.9L659.0 892.6L660.5 892.5L662.0 892.8L663.5 892.0L665.0 892.7L666.5 892.7L668.0 892.7L669.5 892.7L671.0 892.8L672.5 892.2L674.0 892.1L675.5 892.1L677.0 892.4L678.5 892.2L680.0 892.4L681.5 891.5L683.0 891.6L684.5 892.7L686.0 892.5L687.5 892.7L689.0 892.1L690.5 893.3L692.0 892.9L693.5 893.1L695.0 893.4L696.5 892.6L698.0 891.5L699.5 892.7L701.0 892.1L702.5 891.7L704.0 890.6L705.5 891.2L707.0 891.2L708.5 890.3L710.0 890.8L711.5 891.5L713.0 891.6L714.5 890.4L716.0 892.4L717.5 892.8L719.0 890.9L720.5 890.0L722.0 891.5L723.5 891.9L725.0 892.5L726.5 892.4L728.0 891.8L729.5 892.1L731.0 892.8L732.5 893.7L734.0 891.8L735.5 891.5L737.0 892.0L738.5 892.0L740.0 892.0L741.5 891.9L743.0 892.2L744.5 892.0L746.0 890.5L747.5 891.3L749.0 890.5L750.5 891.5L752.0 892.4L753.5 891.2L755.0 890.5L756.5 890.4L758.0 890.4L759.5 891.2L761.0 890.5L762.5 890.1L764.0 891.1L765.5 891.6L767.0 892.1L768.5 892.2L770.0 891.7L771.5 890.4L773.0 890.0L774.5 890.6L776.0 890.8L777.5 890.3L779.0 891.3L780.5 892.0L782.0 891.3L783.5 890.3L785.0 892.0L786.5 892.4L788.0 891.0L789.5 891.0L791.0 891.4L792.5 890.6L794.0 890.9L795.5 890.9L797.0 891.8L798.5 891.5L800.0 892.3L801.5 890.9L803.0 892.0L804.5 891.7L806.0 890.8L807.5 891.6L809.0 892.0L810.5 891.0L812.0 891.3L813.5 890.0L815.0 889.6L816.5 889.6L818.0 890.7L819.5 890.7L821.0 890.2L822.5 890.6L824.0 890.5L825.5 891.4L827.0 891.4L828.5 892.3L830.0 892.6L831.5 891.2L833.0 892.1L834.5 892.3L836.0 890.9L837.5 891.6L839.0 891.7L840.5 889.6L842.0 891.1L843.5 889.8L845.0 890.0L846.5 889.8L848.0 890.7L849.5 890.4L851.0 890.5L852.5 890.8L854.0 890.4L855.5 890.2L857.0 889.4L858.5 891.4L860.0 890.9L861.5 891.9L863.0 892.4L864.5 891.0L866.0 891.4L867.5 890.7L869.0 890.0L870.5 891.3L872.0 891.8L873.5 891.7L875.0 889.4L876.5 887.9L878.0 887.5L879.5 887.0L881.0 887.5L882.5 887.8L884.0 887.4L885.5 885.2L887.0 885.3L888.5 883.4L890.0 882.8L891.5 881.3L893.0 881.4L894.5 880.9L896.0 879.2L897.5 877.4L899.0 875.7L900.5 875.2L902.0 876.6L903.5 877.1L905.0 877.7L906.5 880.4L908.0 881.3L909.5 883.9L911.0 885.9L912.5 889.2L914.0 890.1L915.5 893.4L917.0 895.4L918.5 895.9L920.0 896.1L921.5 895.5L923.0 896.2L924.5 895.8L926.0 895.4L927.5 891.2L929.0 871.1L930.5 881.4L932.0 896.3L933.5 896.2L935.0 895.9L936.5 895.6L938.0 896.2L939.5 895.2L941.0 894.7L942.5 896.3L944.0 898.4L945.5 896.3L947.0 896.2L948.5 894.6L950.0 895.0L951.5 894.6L953.0 895.0L954.5 893.7L956.0 895.0L957.5 894.9L959.0 893.6L960.5 894.6L962.0 894.4L963.5 893.8L965.0 893.6L966.5 895.6L968.0 894.1L969.5 896.1L971.0 899.0L972.5 895.9L974.0 895.1L975.5 893.6L977.0 894.8L978.5 894.9L980.0 894.9L981.5 894.1L983.0 894.7L984.5 894.3L986.0 894.5L987.5 894.6L989.0 894.1L990.5 895.2L992.0 895.6L993.5 896.0L995.0 896.2L996.5 895.2L998.0 895.4L999.5 896.5L1001.0 897.2L1002.5 895.8L1004.0 895.3L1005.5 895.4L1007.0 895.7L1008.5 895.0L1010.0 895.2L1011.5 881.7L1013.0 863.3L1014.5 886.9L1016.0 894.9L1017.5 894.6L1019.0 894.7L1020.5 895.6L1022.0 896.0L1023.5 895.0L1025.0 895.7L1026.5 895.6L1028.0 895.1L1029.5 896.0L1031.0 894.8L1032.5 894.2L1034.0 895.9L1035.5 896.2L1037.0 894.8L1038.5 894.9L1040.0 895.4L1041.5 896.8L1043.0 895.9L1044.5 896.5L1046.0 896.1L1047.5 895.2L1049.0 895.3L1050.5 894.9L1052.0 896.2L1053.5 896.8L1055.0 895.3L1056.5 895.6L1058.0 894.4L1059.5 895.4L1061.0 895.6L1062.5 895.6L1064.0 895.5L1065.5 896.1L1067.0 895.9L1068.5 895.5L1070.0 895.2L1071.5 895.0L1073.0 894.8L1074.5 896.0L1076.0 894.8L1077.5 893.7L1079.0 894.9L1080.5 896.4L1082.0 899.3L1083.5 895.6L1085.0 895.3L1086.5 895.5L1088.0 894.2L1089.5 894.2L1091.0 894.2L1092.5 894.1L1094.0 893.1L1095.5 894.3L1097.0 896.2L1098.5 895.3L1100.0 894.3L1101.5 894.5L1103.0 895.7L1104.5 898.6L1106.0 896.2L1107.5 893.5L1109.0 893.6L1110.5 893.6L1112.0 892.7L1113.5 893.3L1115.0 892.5L1116.5 893.0L1118.0 893.9L1119.5 895.0L1121.0 895.7L1122.5 896.1L1124.0 895.0L1125.5 895.2L1127.0 895.6L1128.5 894.6L1130.0 893.8L1131.5 893.9L1133.0 894.0L1134.5 895.4L1136.0 894.7L1137.5 895.0L1139.0 893.8L1140.5 893.7L1142.0 894.6L1143.5 895.0L1145.0 894.8L1146.5 894.0L1148.0 894.9L1149.5 894.5L1151.0 895.3L1152.5 895.5L1154.0 895.6L1155.5 893.6L1157.0 894.0L1158.5 893.7L1160.0 892.4L1161.5 893.1L1163.0 891.7L1164.5 889.8L1166.0 887.1L1167.5 885.7L1169.0 882.7L1170.5 879.3L1172.0 874.3L1173.5 873.1L1175.0 870.4L1176.5 867.5L1178.0 864.5L1179.5 863.3L1181.0 859.9L1182.5 858.1L1184.0 856.7L1185.5 856.0L1187.0 856.6L1188.5 853.5L1190.0 852.9L1191.5 845.2L1193.0 837.7L1194.5 832.1L1196.0 827.3L1197.5 820.4L1199.0 809.6L1200.5 801.3L1202.0 796.5L1203.5 794.0L1205.0 793.4L1206.5 793.6L1208.0 795.4L1209.5 791.5L1211.0 780.9L1212.5 770.1L1214.0 761.0L1215.5 751.9L1217.0 739.7L1218.5 721.7L1220.0 708.1L1221.5 701.8L1223.0 712.3L1224.5 722.2L1226.0 716.1L1227.5 718.0L1229.0 719.1L1230.5 721.5L1232.0 729.6L1233.5 725.7L1235.0 724.0L1236.5 721.2L1238.0 727.9L1239.5 742.0L1241.0 762.2L1242.5 794.7L1244.0 832.0L1245.5 834.5L1247.0 837.3L1248.5 849.4L1250.0 861.8L1251.5 869.9L1253.0 870.2L1254.5 870.1L1256.0 872.7L1257.5 874.1L1259.0 872.9L1260.5 872.0L1262.0 870.5L1263.5 871.7L1265.0 880.9L1266.5 888.7L1268.0 890.3L1269.5 893.3L1271.0 894.9L1272.5 895.5L1274.0 887.0L1275.5 879.3L1277.0 900.8L1278.5 895.0L1280.0 894.6L1281.5 895.2L1283.0 894.9L1284.5 895.9L1286.0 895.5L1287.5 895.2L1289.0 895.5L1290.5 895.0L1292.0 894.8L1293.5 891.1L1295.0 877.5L1296.5 904.3L1298.0 901.4L1299.5 880.5L1301.0 895.7L1302.5 896.1L1304.0 906.0L1305.5 908.9L1307.0 903.0L1308.5 905.1L1310.0 875.4L1311.5 895.4L1313.0 895.7L1314.5 896.1L1316.0 894.7L1317.5 895.4L1319.0 896.1L1320.5 895.1L1322.0 889.8L1323.5 875.5L1325.0 892.6L1326.5 896.2L1328.0 896.2L1329.5 896.1L1331.0 894.5L1332.5 895.8L1334.0 897.9L1335.5 893.6L1337.0 890.7L1338.5 892.5L1340.0 890.2L1341.5 883.2L1343.0 877.1L1344.5 894.8L1347.5 897.1L1350.0 892.4L1352.5 910.7L1355.0 914.0L1357.5 931.6L1360.0 1009.9L1362.5 1076.6L1364.0 1016.8L1365.5 1078.4L1368.0 956.6L1371.0 919.8L1374.5 883.9L1377.0 909.9L1380.0 945.2L1382.5 856.9L1384.5 918.8L1385.9 752.2"/>
<path d="M198.0 1048.0L199.4 1048.0L200.8 1048.0L202.2 1048.0L203.6 1048.0L205.0 1048.0L206.4 1048.0L207.8 1048.0L209.2 1048.0L210.6 1048.0L212.0 1048.0L213.4 1048.0L214.8 1048.0L216.2 1048.0L217.6 1048.0L219.0 1048.0L220.4 1048.0L221.8 1048.0L223.2 1048.0L224.6 1048.0L226.0 1048.0L227.4 1048.1L228.8 1048.0L230.2 1047.9L231.6 1048.2L233.0 1047.8L234.4 1047.9L235.8 1047.9L237.2 1048.2L238.6 1047.6L240.0 1047.5L241.4 1047.4L242.8 1047.4L244.2 1047.2L245.6 1047.8L247.0 1047.7L248.4 1047.9L249.8 1047.4L251.2 1047.4L252.6 1047.7L254.0 1047.1L255.4 1047.8L256.8 1049.3L258.2 1048.8L259.6 1047.9L261.0 1049.1L262.4 1048.5L263.8 1049.1L265.2 1048.9L266.6 1048.6L268.0 1049.1L269.4 1050.2L270.8 1050.0L272.2 1052.0L273.6 1053.4L275.0 1055.5L276.4 1055.5L277.8 1055.4L279.2 1056.8L280.6 1058.2L282.0 1057.6L283.4 1056.9L284.8 1058.4L286.2 1062.9L287.6 1069.6L289.0 1066.5L290.4 1058.4L291.8 1055.4L293.2 1054.5L294.6 1054.7L296.0 1053.6L297.4 1052.5L298.8 1050.6L300.2 1048.6L301.6 1046.3L303.0 1051.2L304.4 1053.7L305.8 1056.3L307.2 1060.2L308.6 1061.3L310.0 1065.0L311.4 1069.7L312.8 1071.8L314.2 1075.0L315.6 1077.5L317.0 1085.8L318.4 1095.7L319.8 1082.1L321.2 1068.6L322.6 1062.1L324.0 1057.7L325.4 1057.0L326.8 1053.8L328.2 1051.3L329.6 1049.8L331.0 1049.9L332.4 1050.0L333.8 1051.0L335.2 1051.7L336.6 1052.5L338.0 1050.4L339.4 1049.0L340.8 1049.1L342.2 1050.4L343.6 1048.4L345.0 1047.5L346.4 1048.2L347.8 1047.2L349.2 1048.2L350.6 1047.7L352.0 1046.2L353.4 1046.4L354.8 1044.6L356.2 1045.7L357.6 1045.9L359.0 1045.3L360.4 1044.6L361.8 1042.6L363.2 1042.8L364.6 1041.3L366.0 1040.5L367.4 1040.9L368.8 1041.2L370.2 1039.2L371.6 1039.8L373.0 1038.3L374.4 1037.7L375.8 1037.1L377.2 1036.3L378.6 1035.2L380.0 1034.0L381.4 1032.0L382.8 1030.1L384.2 1028.7L385.6 1026.9L387.0 1027.0L388.4 1026.1L389.8 1025.7L391.2 1024.6L392.6 1022.5L394.0 1021.6L395.4 1019.9L396.8 1016.5L398.2 1006.6L399.6 997.9L401.0 989.7L402.4 983.2L403.8 975.8L405.2 967.7L406.6 961.0L408.0 954.1L409.4 947.9L410.8 938.4L412.2 930.7L413.6 924.4L415.0 920.3L416.4 914.6L417.8 910.0L419.2 909.6L420.6 909.9L422.0 914.4L423.4 918.2L424.8 920.7L426.2 927.2L427.6 937.0L429.0 944.3L430.4 951.4L431.8 955.5L433.2 958.8L434.6 964.7L436.0 971.7L437.4 974.3L438.8 975.0L440.2 974.1L441.6 973.6L443.0 970.6L444.4 965.6L445.8 958.2L447.2 951.4L448.6 941.1L450.0 930.1L451.4 921.6L452.8 914.5L454.2 909.1L455.6 911.8L457.0 916.3L458.4 923.4L459.8 928.8L461.2 937.2L462.6 944.7L464.0 953.1L465.4 961.1L466.8 967.8L468.2 971.2L469.6 973.9L471.0 977.8L472.4 978.0L473.8 978.3L475.2 979.0L476.6 981.0L478.0 981.1L479.4 982.9L480.8 984.0L482.2 985.1L483.6 983.0L485.0 982.7L486.4 981.6L487.8 981.1L489.2 979.1L490.6 980.8L492.0 985.2L493.4 989.1L494.8 991.4L496.2 995.4L497.6 1000.0L499.0 1001.0L500.4 1002.6L501.8 1006.0L503.2 1008.6L504.6 1009.5L506.0 1012.8L507.4 1014.4L508.8 1015.4L510.2 1017.3L511.6 1017.7L513.0 1018.7L514.4 1021.0L515.8 1021.0L517.2 1020.8L518.6 1021.8L520.0 1021.4L521.4 1023.5L522.8 1024.5L524.2 1024.4L525.6 1025.6L527.0 1025.0L528.4 1024.6L529.8 1026.7L531.2 1025.6L532.6 1027.5L534.0 1026.9L535.4 1026.1L536.8 1027.7L538.2 1028.5L539.6 1028.2L541.0 1029.4"/>
<path d="M566.0 1045.0L567.5 1045.0L569.0 1045.0L570.5 1045.0L572.0 1044.9L573.5 1044.9L575.0 1044.9L576.5 1044.9L578.0 1044.9L579.5 1044.9L581.0 1044.9L582.5 1044.9L584.0 1044.8L585.5 1044.8L587.0 1044.8L588.5 1044.8L590.0 1044.8L591.5 1044.8L593.0 1044.8L594.5 1044.7L596.0 1044.7L597.5 1044.7L599.0 1044.7L600.5 1044.7L602.0 1044.7L603.5 1044.7L605.0 1044.7L606.5 1044.6L608.0 1044.7L609.5 1044.7L611.0 1044.7L612.5 1044.5L614.0 1044.5L615.5 1044.5L617.0 1044.5L618.5 1044.5L620.0 1044.3L621.5 1044.3L623.0 1044.4L624.5 1044.4L626.0 1044.2L627.5 1044.3L629.0 1044.2L630.5 1044.5L632.0 1044.3L633.5 1044.5L635.0 1044.8L636.5 1044.8L638.0 1044.4L639.5 1044.4L641.0 1044.8L642.5 1044.8L644.0 1044.4L645.5 1043.8L647.0 1044.3L648.5 1044.1L650.0 1043.7L651.5 1044.3L653.0 1043.5L654.5 1043.5L656.0 1043.6L657.5 1044.5L659.0 1044.1L660.5 1044.7L662.0 1044.0L663.5 1044.0L665.0 1044.0L666.5 1043.3L668.0 1044.1L669.5 1043.4L671.0 1042.9L672.5 1042.7L674.0 1043.1L675.5 1042.6L677.0 1043.0L678.5 1043.0L680.0 1043.9L681.5 1043.3L683.0 1042.8L684.5 1042.8L686.0 1043.3L687.5 1043.4L689.0 1043.4L690.5 1043.4L692.0 1042.7L693.5 1043.3L695.0 1043.0L696.5 1043.8L698.0 1044.4L699.5 1043.7L701.0 1042.9L702.5 1043.0L704.0 1043.9L705.5 1043.8L707.0 1044.2L708.5 1044.3L710.0 1043.2L711.5 1043.0L713.0 1042.3L714.5 1044.3L716.0 1043.7L717.5 1043.3L719.0 1042.5L720.5 1042.9L722.0 1042.8L723.5 1043.8L725.0 1043.8L726.5 1042.1L728.0 1044.2L729.5 1043.7L731.0 1043.0L732.5 1043.2L734.0 1044.8L735.5 1043.5L737.0 1043.6L738.5 1043.4L740.0 1044.0L741.5 1041.8L743.0 1043.1L744.5 1044.1L746.0 1043.1L747.5 1042.4L749.0 1044.2L750.5 1044.0L752.0 1043.0L753.5 1043.9L755.0 1044.2L756.5 1044.1L758.0 1043.1L759.5 1043.4L761.0 1043.5L762.5 1042.9L764.0 1043.3L765.5 1043.7L767.0 1042.9L768.5 1042.5L770.0 1043.6L771.5 1043.6L773.0 1042.7L774.5 1043.1L776.0 1043.6L777.5 1044.4L779.0 1044.3L780.5 1043.8L782.0 1044.2L783.5 1042.4L785.0 1042.8L786.5 1044.0L788.0 1044.3L789.5 1043.4L791.0 1044.5L792.5 1044.1L794.0 1042.9L795.5 1042.1L797.0 1042.4L798.5 1041.7L800.0 1043.2L801.5 1043.2L803.0 1043.7L804.5 1042.3L806.0 1043.8L807.5 1044.3L809.0 1044.7L810.5 1042.3L812.0 1042.1L813.5 1043.4L815.0 1042.4L816.5 1042.4L818.0 1043.3L819.5 1044.2L821.0 1043.0L822.5 1043.1L824.0 1044.0L825.5 1042.9L827.0 1042.9L828.5 1043.2L830.0 1043.3L831.5 1042.6L833.0 1042.2L834.5 1042.4L836.0 1042.0L837.5 1041.9L839.0 1042.2L840.5 1041.2L842.0 1041.2L843.5 1042.0L845.0 1042.0L846.5 1043.9L848.0 1042.7L849.5 1042.9L851.0 1042.0L852.5 1041.9L854.0 1042.1L855.5 1041.9L857.0 1042.8L858.5 1042.0L860.0 1042.7L861.5 1042.2L863.0 1041.8L864.5 1042.1L866.0 1042.6L867.5 1041.4L869.0 1041.9L870.5 1042.3L872.0 1041.9L873.5 1043.1L875.0 1041.5L876.5 1040.9L878.0 1038.2L879.5 1038.2L881.0 1038.4L882.5 1037.7L884.0 1036.1L885.5 1034.3L887.0 1033.4L888.5 1033.7L890.0 1032.4L891.5 1032.6L893.0 1029.6L894.5 1029.3L896.0 1026.4L897.5 1025.2L899.0 1024.9L900.5 1024.9L902.0 1026.3L903.5 1027.5L905.0 1029.9L906.5 1031.9L908.0 1031.9L909.5 1035.6L911.0 1037.1L912.5 1038.4L914.0 1039.7L915.5 1043.9L917.0 1046.1L918.5 1047.9L920.0 1048.1L921.5 1048.2L923.0 1047.8L924.5 1046.6L926.0 1046.7L927.5 1047.3L929.0 1046.8L930.5 1045.5L932.0 1046.3L933.5 1045.9L935.0 1046.5L936.5 1046.5L938.0 1047.6L939.5 1047.0L941.0 1053.2L942.5 1079.4L944.0 1063.9L945.5 1048.4L947.0 1048.9L948.5 1048.8L950.0 1047.0L951.5 1046.6L953.0 1047.4L954.5 1051.1L956.0 1057.6L957.5 1050.2L959.0 1046.2L960.5 1047.1L962.0 1047.2L963.5 1046.7L965.0 1046.7L966.5 1047.1L968.0 1046.6L969.5 1048.6L971.0 1083.2L972.5 1075.6L974.0 1047.4L975.5 1048.0L977.0 1047.5L978.5 1046.6L980.0 1046.0L981.5 1046.9L983.0 1047.2L984.5 1046.5L986.0 1047.3L987.5 1047.7L989.0 1047.4L990.5 1047.7L992.0 1046.2L993.5 1047.0L995.0 1045.9L996.5 1047.8L998.0 1047.8L999.5 1047.2L1001.0 1048.1L1002.5 1047.1L1004.0 1047.7L1005.5 1047.0L1007.0 1047.4L1008.5 1047.6L1010.0 1046.8L1011.5 1044.7L1013.0 1042.1L1014.5 1045.7L1016.0 1047.8L1017.5 1046.0L1019.0 1046.9L1020.5 1047.7L1022.0 1047.5L1023.5 1047.2L1025.0 1046.6L1026.5 1046.3L1028.0 1045.6L1029.5 1045.7L1031.0 1046.7L1032.5 1046.0L1034.0 1046.8L1035.5 1046.3L1037.0 1047.0L1038.5 1048.0L1040.0 1046.8L1041.5 1046.7L1043.0 1046.8L1044.5 1046.4L1046.0 1046.8L1047.5 1048.0L1049.0 1046.6L1050.5 1047.3L1052.0 1046.6L1053.5 1048.0L1055.0 1046.7L1056.5 1046.3L1058.0 1046.8L1059.5 1048.1L1061.0 1046.4L1062.5 1047.1L1064.0 1047.0L1065.5 1046.1L1067.0 1046.0L1068.5 1047.0L1070.0 1045.0L1071.5 1042.3L1073.0 1046.1L1074.5 1047.5L1076.0 1048.0L1077.5 1047.4L1079.0 1047.6L1080.5 1051.6L1082.0 1055.6L1083.5 1048.4L1085.0 1047.0L1086.5 1046.8L1088.0 1046.8L1089.5 1047.2L1091.0 1046.4L1092.5 1047.2L1094.0 1048.3L1095.5 1046.9L1097.0 1046.4L1098.5 1047.9L1100.0 1048.3L1101.5 1048.6L1103.0 1047.9L1104.5 1047.4L1106.0 1047.6L1107.5 1047.1L1109.0 1047.9L1110.5 1047.4L1112.0 1046.1L1113.5 1047.6L1115.0 1046.3L1116.5 1047.3L1118.0 1047.3L1119.5 1046.2L1121.0 1046.2L1122.5 1045.9L1124.0 1045.4L1125.5 1047.7L1127.0 1047.4L1128.5 1046.3L1130.0 1045.9L1131.5 1046.5L1133.0 1046.0L1134.5 1046.9L1136.0 1046.5L1137.5 1046.4L1139.0 1045.6L1140.5 1046.3L1142.0 1046.4L1143.5 1048.0L1145.0 1047.3L1146.5 1047.8L1148.0 1047.4L1149.5 1047.3L1151.0 1047.3L1152.5 1047.8L1154.0 1046.3L1155.5 1046.0L1157.0 1045.5L1158.5 1045.2L1160.0 1044.8L1161.5 1043.8L1163.0 1042.6L1164.5 1040.9L1166.0 1039.4L1167.5 1038.3L1169.0 1036.6L1170.5 1031.9L1172.0 1028.5L1173.5 1026.5L1175.0 1024.5L1176.5 1021.8L1178.0 1018.6L1179.5 1016.3L1181.0 1014.8L1182.5 1012.7L1184.0 1012.1L1185.5 1010.2L1187.0 1010.5L1188.5 1008.6L1190.0 1009.1L1191.5 1001.2L1193.0 995.4L1194.5 989.5L1196.0 982.1L1197.5 975.7L1199.0 968.0L1200.5 961.3L1202.0 957.6L1203.5 953.6L1205.0 953.4L1206.5 955.0L1208.0 956.8L1209.5 952.5L1211.0 942.6L1212.5 932.4L1214.0 924.6L1215.5 916.8L1217.0 906.0L1218.5 888.3L1220.0 879.6L1221.5 874.3L1223.0 879.0L1224.5 889.4L1226.0 881.5L1227.5 873.9L1229.0 879.0L1230.5 887.6L1232.0 897.3L1233.5 898.1L1235.0 898.2L1236.5 887.5L1238.0 889.4L1239.5 905.6L1241.0 924.8L1242.5 956.1L1244.0 989.7L1245.5 991.3L1247.0 992.5L1248.5 1003.6L1250.0 1016.3L1251.5 1022.7L1253.0 1024.7L1254.5 1026.3L1256.0 1026.5L1257.5 1027.3L1259.0 1027.3L1260.5 1025.0L1262.0 1024.8L1263.5 1025.1L1265.0 1031.6L1266.5 1039.0L1268.0 1041.1L1269.5 1042.6L1271.0 1044.2L1272.5 1046.5L1274.0 1045.7L1275.5 1045.8L1277.0 1044.2L1278.5 1040.7L1280.0 1045.3L1281.5 1047.2L1283.0 1047.0L1284.5 1047.4L1286.0 1032.5L1287.5 1036.6L1289.0 1042.0L1290.5 1035.9L1292.0 1047.3L1293.5 1047.1L1295.0 1047.5L1296.5 1046.0L1298.0 1045.6L1299.5 1051.6L1301.0 1053.2L1302.5 1046.6L1304.0 1046.0L1305.5 1044.1L1307.0 1040.0L1308.5 1047.0L1310.0 1053.5L1311.5 1055.4L1313.0 1042.5L1314.5 1047.4L1316.0 1047.1L1317.5 1046.2L1319.0 1055.6L1320.5 1050.1L1322.0 1045.7L1323.5 1046.7L1325.0 1044.3L1326.5 1039.4L1328.0 1059.5L1329.5 1035.8L1331.0 1033.4L1332.5 1057.4L1334.0 1058.5L1335.5 1047.3L1337.0 1033.7L1338.5 1032.7L1340.0 1046.4L1341.5 1047.6L1343.0 1047.6L1344.5 1023.5L1347.5 1049.9L1350.0 1053.3L1352.5 1083.2L1355.0 1051.8L1357.5 1097.1L1360.0 1143.1L1362.5 1239.9L1364.0 1174.1L1365.5 1240.1L1368.0 1116.4L1371.0 1073.5L1374.5 1038.3L1377.0 1071.4L1380.0 1104.8L1382.5 1017.6L1384.5 1047.3L1385.9 920.7"/>
<path d="M198.0 1182.5L199.4 1182.5L200.8 1182.5L202.2 1182.5L203.6 1182.5L205.0 1182.5L206.4 1182.5L207.8 1182.5L209.2 1182.5L210.6 1182.5L212.0 1182.5L213.4 1182.5L214.8 1182.5L216.2 1182.5L217.6 1182.5L219.0 1182.5L220.4 1182.5L221.8 1182.5L223.2 1182.5L224.6 1182.5L226.0 1182.5L227.4 1182.5L228.8 1182.6L230.2 1182.7L231.6 1182.3L233.0 1182.2L234.4 1182.3L235.8 1182.2L237.2 1182.1L238.6 1182.5L240.0 1182.1L241.4 1182.3L242.8 1182.1L244.2 1182.0L245.6 1181.5L247.0 1181.9L248.4 1182.0L249.8 1182.3L251.2 1183.1L252.6 1183.2L254.0 1182.8L255.4 1182.5L256.8 1182.3L258.2 1182.6L259.6 1182.0L261.0 1181.8L262.4 1183.4L263.8 1183.4L265.2 1182.4L266.6 1184.1L268.0 1183.7L269.4 1182.7L270.8 1184.6L272.2 1185.1L273.6 1186.4L275.0 1187.7L276.4 1187.4L277.8 1188.7L279.2 1188.1L280.6 1188.4L282.0 1190.8L283.4 1189.2L284.8 1188.9L286.2 1192.3L287.6 1197.6L289.0 1197.2L290.4 1191.2L291.8 1188.1L293.2 1189.7L294.6 1189.7L296.0 1186.9L297.4 1184.4L298.8 1183.0L300.2 1182.5L301.6 1180.7L303.0 1185.4L304.4 1190.2L305.8 1192.8L307.2 1197.0L308.6 1200.3L310.0 1203.0L311.4 1206.8L312.8 1209.6L314.2 1215.2L315.6 1218.1L317.0 1225.9L318.4 1237.4L319.8 1222.2L321.2 1206.9L322.6 1197.6L324.0 1193.5L325.4 1192.3L326.8 1189.0L328.2 1187.6L329.6 1187.7L331.0 1186.6L332.4 1185.4L333.8 1186.3L335.2 1185.6L336.6 1185.5L338.0 1185.6L339.4 1183.5L340.8 1182.7L342.2 1182.6L343.6 1182.9L345.0 1183.1L346.4 1181.2L347.8 1180.2L349.2 1179.8L350.6 1179.0L352.0 1180.8L353.4 1181.4L354.8 1178.8L356.2 1178.7L357.6 1177.0L359.0 1177.0L360.4 1176.8L361.8 1176.0L363.2 1174.3L364.6 1174.6L366.0 1174.9L367.4 1173.2L368.8 1172.1L370.2 1172.4L371.6 1171.8L373.0 1171.0L374.4 1170.0L375.8 1170.6L377.2 1168.9L378.6 1168.1L380.0 1168.1L381.4 1166.5L382.8 1165.8L384.2 1165.4L385.6 1164.2L387.0 1164.8L388.4 1162.7L389.8 1160.7L391.2 1159.1L392.6 1157.3L394.0 1155.3L395.4 1153.1L396.8 1149.9L398.2 1139.8L399.6 1129.1L401.0 1121.1L402.4 1114.0L403.8 1105.8L405.2 1098.6L406.6 1088.8L408.0 1081.5L409.4 1074.6L410.8 1063.7L412.2 1056.7L413.6 1049.8L415.0 1043.6L416.4 1039.1L417.8 1035.3L419.2 1033.0L420.6 1033.0L422.0 1037.0L423.4 1040.4L424.8 1047.2L426.2 1051.0L427.6 1060.7L429.0 1071.6L430.4 1076.8L431.8 1080.9L433.2 1086.7L434.6 1092.0L436.0 1100.5L437.4 1103.5L438.8 1105.3L440.2 1105.6L441.6 1103.5L443.0 1101.2L444.4 1097.1L445.8 1090.2L447.2 1081.3L448.6 1069.8L450.0 1060.2L451.4 1050.1L452.8 1041.6L454.2 1035.6L455.6 1040.3L457.0 1044.8L458.4 1050.1L459.8 1056.8L461.2 1063.8L462.6 1074.4L464.0 1081.0L465.4 1088.1L466.8 1093.5L468.2 1097.6L469.6 1098.2L471.0 1101.6L472.4 1103.3L473.8 1104.6L475.2 1104.0L476.6 1103.2L478.0 1104.1L479.4 1105.4L480.8 1106.0L482.2 1108.0L483.6 1106.1L485.0 1104.3L486.4 1105.0L487.8 1103.5L489.2 1103.5L490.6 1105.7L492.0 1109.7L493.4 1111.9L494.8 1116.8L496.2 1120.2L497.6 1124.4L499.0 1127.5L500.4 1129.2L501.8 1133.4L503.2 1136.9L504.6 1138.5L506.0 1141.8L507.4 1142.8L508.8 1144.3L510.2 1146.2L511.6 1145.6L513.0 1147.9L514.4 1148.9L515.8 1148.6L517.2 1150.2L518.6 1150.6L520.0 1149.8L521.4 1152.0L522.8 1153.2L524.2 1154.2L525.6 1155.8L527.0 1156.0L528.4 1156.5L529.8 1155.8L531.2 1156.2L532.6 1156.7L534.0 1158.2L535.4 1159.5L536.8 1158.2L538.2 1158.4L539.6 1158.6L541.0 1161.3"/>
<path d="M566.0 1178.0L567.5 1178.0L569.0 1178.0L570.5 1178.0L572.0 1177.9L573.5 1177.9L575.0 1177.9L576.5 1177.9L578.0 1177.9L579.5 1177.9L581.0 1177.9L582.5 1177.9L584.0 1177.8L585.5 1177.8L587.0 1177.8L588.5 1177.8L590.0 1177.8L591.5 1177.8L593.0 1177.8L594.5 1177.7L596.0 1177.7L597.5 1177.7L599.0 1177.7L600.5 1177.7L602.0 1177.7L603.5 1177.7L605.0 1177.6L606.5 1177.7L608.0 1177.6L609.5 1177.6L611.0 1177.5L612.5 1177.3L614.0 1177.3L615.5 1177.4L617.0 1177.4L618.5 1177.5L620.0 1177.5L621.5 1177.4L623.0 1177.6L624.5 1177.5L626.0 1177.4L627.5 1177.5L629.0 1177.6L630.5 1177.7L632.0 1177.5L633.5 1177.2L635.0 1177.4L636.5 1177.0L638.0 1177.1L639.5 1177.5L641.0 1177.7L642.5 1177.2L644.0 1176.9L645.5 1176.9L647.0 1176.6L648.5 1176.4L650.0 1176.6L651.5 1176.3L653.0 1176.4L654.5 1176.4L656.0 1177.1L657.5 1177.1L659.0 1177.0L660.5 1177.0L662.0 1177.4L663.5 1176.6L665.0 1177.4L666.5 1176.7L668.0 1177.1L669.5 1177.0L671.0 1177.1L672.5 1176.7L674.0 1177.0L675.5 1177.1L677.0 1177.3L678.5 1176.8L680.0 1176.7L681.5 1177.1L683.0 1177.3L684.5 1176.3L686.0 1176.1L687.5 1177.4L689.0 1177.0L690.5 1176.2L692.0 1176.4L693.5 1176.7L695.0 1176.1L696.5 1175.6L698.0 1177.0L699.5 1176.3L701.0 1176.2L702.5 1177.5L704.0 1178.0L705.5 1179.0L707.0 1179.0L708.5 1178.5L710.0 1177.2L711.5 1176.5L713.0 1176.8L714.5 1177.9L716.0 1178.8L717.5 1178.3L719.0 1177.0L720.5 1177.0L722.0 1177.3L723.5 1176.7L725.0 1177.2L726.5 1177.2L728.0 1176.6L729.5 1176.4L731.0 1174.8L732.5 1176.7L734.0 1175.8L735.5 1176.3L737.0 1176.5L738.5 1175.5L740.0 1175.8L741.5 1176.3L743.0 1175.7L744.5 1177.1L746.0 1176.4L747.5 1175.9L749.0 1175.3L750.5 1175.3L752.0 1176.9L753.5 1176.2L755.0 1177.1L756.5 1176.3L758.0 1175.8L759.5 1176.1L761.0 1176.4L762.5 1175.6L764.0 1177.2L765.5 1176.7L767.0 1176.0L768.5 1176.3L770.0 1175.4L771.5 1175.7L773.0 1176.8L774.5 1176.5L776.0 1175.1L777.5 1175.3L779.0 1177.0L780.5 1176.8L782.0 1175.3L783.5 1176.3L785.0 1176.5L786.5 1176.2L788.0 1175.4L789.5 1176.0L791.0 1176.9L792.5 1176.8L794.0 1176.4L795.5 1176.7L797.0 1176.2L798.5 1174.7L800.0 1175.3L801.5 1174.2L803.0 1175.4L804.5 1175.2L806.0 1175.2L807.5 1175.8L809.0 1176.1L810.5 1175.8L812.0 1174.1L813.5 1173.8L815.0 1175.2L816.5 1175.8L818.0 1175.5L819.5 1176.3L821.0 1176.3L822.5 1176.3L824.0 1175.5L825.5 1175.6L827.0 1174.4L828.5 1175.6L830.0 1177.0L831.5 1176.8L833.0 1176.9L834.5 1177.0L836.0 1177.7L837.5 1177.5L839.0 1177.8L840.5 1175.1L842.0 1175.0L843.5 1175.4L845.0 1175.8L846.5 1175.4L848.0 1174.9L849.5 1175.5L851.0 1175.5L852.5 1174.0L854.0 1175.2L855.5 1175.3L857.0 1174.7L858.5 1175.2L860.0 1175.5L861.5 1174.9L863.0 1174.0L864.5 1174.3L866.0 1174.2L867.5 1174.2L869.0 1174.3L870.5 1174.0L872.0 1174.3L873.5 1174.8L875.0 1174.1L876.5 1172.7L878.0 1171.9L879.5 1170.2L881.0 1169.5L882.5 1168.9L884.0 1168.7L885.5 1168.0L887.0 1168.2L888.5 1168.2L890.0 1165.8L891.5 1165.5L893.0 1163.9L894.5 1162.6L896.0 1162.3L897.5 1161.8L899.0 1160.4L900.5 1160.7L902.0 1159.9L903.5 1161.0L905.0 1162.3L906.5 1164.3L908.0 1165.3L909.5 1167.1L911.0 1170.0L912.5 1173.3L914.0 1173.8L915.5 1176.3L917.0 1177.1L918.5 1179.4L920.0 1180.6L921.5 1178.9L923.0 1177.8L924.5 1177.7L926.0 1180.1L927.5 1179.5L929.0 1180.2L930.5 1180.0L932.0 1180.1L933.5 1180.4L935.0 1180.6L936.5 1179.7L938.0 1180.5L939.5 1180.5L941.0 1180.4L942.5 1180.5L944.0 1179.5L945.5 1179.3L947.0 1179.8L948.5 1180.7L950.0 1179.8L951.5 1178.9L953.0 1179.0L954.5 1180.8L956.0 1181.0L957.5 1188.3L959.0 1184.7L960.5 1179.9L962.0 1180.6L963.5 1180.5L965.0 1179.2L966.5 1179.2L968.0 1180.0L969.5 1180.0L971.0 1191.9L972.5 1189.4L974.0 1180.9L975.5 1179.7L977.0 1179.8L978.5 1180.9L980.0 1181.6L981.5 1181.7L983.0 1181.5L984.5 1180.6L986.0 1180.1L987.5 1180.5L989.0 1180.6L990.5 1179.1L992.0 1180.5L993.5 1180.8L995.0 1180.8L996.5 1181.5L998.0 1180.4L999.5 1179.3L1001.0 1179.7L1002.5 1181.3L1004.0 1181.6L1005.5 1181.8L1007.0 1180.0L1008.5 1179.7L1010.0 1180.8L1011.5 1168.7L1013.0 1155.2L1014.5 1174.7L1016.0 1180.4L1017.5 1181.2L1019.0 1182.4L1020.5 1181.9L1022.0 1180.5L1023.5 1179.9L1025.0 1181.3L1026.5 1180.4L1028.0 1179.5L1029.5 1181.0L1031.0 1180.3L1032.5 1179.8L1034.0 1180.0L1035.5 1178.7L1037.0 1180.6L1038.5 1180.6L1040.0 1179.5L1041.5 1179.2L1043.0 1180.3L1044.5 1179.9L1046.0 1179.8L1047.5 1178.9L1049.0 1179.3L1050.5 1179.9L1052.0 1179.4L1053.5 1180.0L1055.0 1179.8L1056.5 1180.2L1058.0 1181.6L1059.5 1181.7L1061.0 1180.7L1062.5 1181.0L1064.0 1180.1L1065.5 1178.8L1067.0 1179.9L1068.5 1179.3L1070.0 1177.2L1071.5 1172.2L1073.0 1178.0L1074.5 1179.4L1076.0 1179.8L1077.5 1178.8L1079.0 1178.9L1080.5 1179.3L1082.0 1179.7L1083.5 1181.1L1085.0 1180.7L1086.5 1181.3L1088.0 1181.4L1089.5 1181.0L1091.0 1180.4L1092.5 1181.0L1094.0 1180.5L1095.5 1180.6L1097.0 1180.2L1098.5 1180.3L1100.0 1179.4L1101.5 1178.8L1103.0 1182.0L1104.5 1184.1L1106.0 1180.6L1107.5 1180.1L1109.0 1179.7L1110.5 1181.0L1112.0 1180.5L1113.5 1180.7L1115.0 1180.6L1116.5 1179.5L1118.0 1180.4L1119.5 1179.9L1121.0 1181.0L1122.5 1181.8L1124.0 1181.6L1125.5 1181.0L1127.0 1180.9L1128.5 1180.7L1130.0 1180.2L1131.5 1180.4L1133.0 1181.5L1134.5 1181.3L1136.0 1180.4L1137.5 1180.8L1139.0 1179.9L1140.5 1179.7L1142.0 1181.2L1143.5 1180.6L1145.0 1180.2L1146.5 1179.3L1148.0 1180.7L1149.5 1180.6L1151.0 1181.1L1152.5 1180.7L1154.0 1181.1L1155.5 1179.7L1157.0 1179.8L1158.5 1180.6L1160.0 1180.0L1161.5 1179.7L1163.0 1180.5L1164.5 1180.4L1166.0 1178.8L1167.5 1176.7L1169.0 1175.8L1170.5 1173.4L1172.0 1170.3L1173.5 1169.7L1175.0 1167.8L1176.5 1165.3L1178.0 1160.8L1179.5 1158.1L1181.0 1156.1L1182.5 1151.8L1184.0 1149.4L1185.5 1146.5L1187.0 1144.4L1188.5 1140.2L1190.0 1137.7L1191.5 1134.7L1193.0 1132.5L1194.5 1127.4L1196.0 1123.4L1197.5 1118.2L1199.0 1113.0L1200.5 1106.8L1202.0 1099.4L1203.5 1093.3L1205.0 1087.9L1206.5 1081.4L1208.0 1077.6L1209.5 1072.2L1211.0 1065.6L1212.5 1056.9L1214.0 1050.6L1215.5 1041.8L1217.0 1026.2L1218.5 1011.2L1220.0 1000.1L1221.5 1007.0L1223.0 1005.2L1224.5 994.5L1226.0 982.6L1227.5 967.7L1229.0 985.5L1230.5 999.7L1232.0 991.9L1233.5 988.4L1235.0 992.7L1236.5 994.6L1238.0 991.2L1239.5 1001.2L1241.0 1019.5L1242.5 1037.2L1244.0 1054.4L1245.5 1069.0L1247.0 1081.4L1248.5 1093.2L1250.0 1103.6L1251.5 1111.3L1253.0 1115.2L1254.5 1118.9L1256.0 1119.2L1257.5 1126.8L1259.0 1134.9L1260.5 1141.5L1262.0 1146.8L1263.5 1152.4L1265.0 1157.6L1266.5 1158.6L1268.0 1159.6L1269.5 1160.7L1271.0 1165.1L1272.5 1169.7L1274.0 1174.9L1275.5 1178.3L1277.0 1180.1L1278.5 1175.4L1280.0 1166.7L1281.5 1214.7L1283.0 1205.4L1284.5 1177.7L1286.0 1175.5L1287.5 1179.8L1289.0 1179.1L1290.5 1178.8L1292.0 1178.9L1293.5 1180.2L1295.0 1179.7L1296.5 1172.9L1298.0 1171.0L1299.5 1152.7L1301.0 1171.1L1302.5 1171.1L1304.0 1140.7L1305.5 1167.9L1307.0 1204.1L1308.5 1181.4L1310.0 1179.6L1311.5 1199.5L1313.0 1208.8L1314.5 1180.6L1316.0 1179.0L1317.5 1179.0L1319.0 1180.9L1320.5 1203.2L1322.0 1187.1L1323.5 1154.7L1325.0 1168.4L1326.5 1179.8L1328.0 1163.9L1329.5 1162.3L1331.0 1180.8L1332.5 1180.7L1334.0 1179.4L1335.5 1191.6L1337.0 1186.6L1338.5 1180.6L1340.0 1181.9L1341.5 1173.7L1343.0 1174.0L1344.5 1181.0L1347.5 1181.9L1350.0 1184.2L1352.5 1205.5L1355.0 1196.5L1357.5 1222.0L1360.0 1307.7L1362.5 1386.5L1364.0 1330.8L1365.5 1390.8L1368.0 1266.5L1371.0 1208.6L1374.5 1156.6L1377.0 1193.9L1380.0 1215.4L1382.5 1157.8L1384.5 1205.9L1385.9 1063.3"/>
<path d="M198.0 1336.0L199.4 1336.0L200.8 1336.0L202.2 1336.0L203.6 1336.0L205.0 1336.0L206.4 1336.0L207.8 1336.0L209.2 1336.0L210.6 1336.0L212.0 1336.0L213.4 1336.0L214.8 1336.0L216.2 1336.0L217.6 1336.0L219.0 1336.0L220.4 1336.0L221.8 1336.0L223.2 1336.0L224.6 1336.0L226.0 1336.0L227.4 1335.9L228.8 1335.8L230.2 1335.9L231.6 1335.9L233.0 1336.1L234.4 1336.4L235.8 1336.1L237.2 1335.8L238.6 1335.3L240.0 1335.6L241.4 1335.8L242.8 1336.2L244.2 1336.1L245.6 1336.0L247.0 1335.7L248.4 1336.5L249.8 1335.9L251.2 1336.1L252.6 1336.7L254.0 1337.6L255.4 1337.3L256.8 1338.2L258.2 1337.7L259.6 1337.4L261.0 1337.2L262.4 1338.2L263.8 1336.9L265.2 1336.5L266.6 1336.2L268.0 1337.6L269.4 1336.3L270.8 1338.3L272.2 1339.1L273.6 1339.5L275.0 1338.2L276.4 1340.1L277.8 1341.1L279.2 1340.6L280.6 1341.7L282.0 1340.0L283.4 1340.9L284.8 1340.7L286.2 1342.6L287.6 1345.2L289.0 1344.7L290.4 1341.7L291.8 1338.8L293.2 1338.8L294.6 1337.1L296.0 1336.8L297.4 1336.6L298.8 1336.9L300.2 1335.1L301.6 1335.1L303.0 1346.6L304.4 1355.5L305.8 1361.4L307.2 1365.3L308.6 1369.2L310.0 1372.6L311.4 1377.7L312.8 1382.9L314.2 1384.3L315.6 1386.6L317.0 1394.6L318.4 1411.3L319.8 1386.3L321.2 1372.5L322.6 1364.4L324.0 1358.7L325.4 1355.0L326.8 1348.8L328.2 1346.3L329.6 1344.9L331.0 1342.4L332.4 1340.7L333.8 1340.6L335.2 1340.3L336.6 1340.6L338.0 1339.9L339.4 1338.5L340.8 1339.0L342.2 1337.4L343.6 1337.9L345.0 1336.0L346.4 1334.7L347.8 1335.7L349.2 1333.3L350.6 1332.7L352.0 1332.5L353.4 1333.3L354.8 1333.9L356.2 1332.3L357.6 1332.2L359.0 1330.7L360.4 1331.6L361.8 1332.0L363.2 1330.5L364.6 1330.5L366.0 1328.6L367.4 1327.3L368.8 1327.2L370.2 1327.5L371.6 1326.1L373.0 1326.9L374.4 1325.6L375.8 1325.2L377.2 1325.4L378.6 1323.8L380.0 1323.6L381.4 1322.4L382.8 1322.9L384.2 1322.4L385.6 1321.3L387.0 1320.4L388.4 1318.0L389.8 1316.7L391.2 1315.5L392.6 1313.6L394.0 1310.8L395.4 1306.7L396.8 1303.4L398.2 1290.3L399.6 1279.8L401.0 1270.7L402.4 1259.7L403.8 1250.3L405.2 1243.2L406.6 1234.7L408.0 1227.2L409.4 1219.1L410.8 1205.8L412.2 1197.7L413.6 1190.5L415.0 1185.6L416.4 1179.7L417.8 1174.4L419.2 1173.8L420.6 1173.6L422.0 1176.1L423.4 1180.1L424.8 1186.0L426.2 1193.4L427.6 1203.5L429.0 1214.1L430.4 1220.5L431.8 1227.5L433.2 1232.5L434.6 1241.0L436.0 1248.3L437.4 1250.9L438.8 1254.5L440.2 1253.8L441.6 1251.6L443.0 1248.7L444.4 1240.7L445.8 1232.5L447.2 1222.2L448.6 1208.3L450.0 1195.3L451.4 1184.6L452.8 1175.6L454.2 1169.0L455.6 1172.0L457.0 1173.6L458.4 1180.6L459.8 1187.3L461.2 1197.6L462.6 1209.8L464.0 1221.3L465.4 1229.4L466.8 1239.3L468.2 1243.9L469.6 1246.7L471.0 1249.4L472.4 1253.1L473.8 1253.6L475.2 1254.2L476.6 1254.5L478.0 1255.9L479.4 1255.8L480.8 1255.7L482.2 1257.0L483.6 1257.1L485.0 1256.2L486.4 1255.2L487.8 1254.4L489.2 1252.9L490.6 1256.8L492.0 1260.4L493.4 1263.7L494.8 1266.5L496.2 1270.6L497.6 1275.8L499.0 1278.9L500.4 1281.1L501.8 1285.3L503.2 1288.2L504.6 1290.6L506.0 1291.9L507.4 1294.7L508.8 1296.3L510.2 1297.0L511.6 1299.8L513.0 1300.1L514.4 1302.2L515.8 1303.2L517.2 1302.8L518.6 1303.3L520.0 1302.8L521.4 1304.2L522.8 1305.3L524.2 1305.4L525.6 1304.1L527.0 1304.5L528.4 1305.4L529.8 1307.6L531.2 1309.0L532.6 1308.4L534.0 1310.2L535.4 1310.4L536.8 1310.0L538.2 1311.8L539.6 1311.8L541.0 1312.7"/>
<path d="M566.0 1331.0L567.5 1331.0L569.0 1331.0L570.5 1331.0L572.0 1331.0L573.5 1331.0L575.0 1331.0L576.5 1331.0L578.0 1331.0L579.5 1331.0L581.0 1331.0L582.5 1331.0L584.0 1330.9L585.5 1330.9L587.0 1330.9L588.5 1330.9L590.0 1330.9L591.5 1330.9L593.0 1330.9L594.5 1330.9L596.0 1330.9L597.5 1330.9L599.0 1330.9L600.5 1330.9L602.0 1330.9L603.5 1330.9L605.0 1330.8L606.5 1330.8L608.0 1330.8L609.5 1330.8L611.0 1330.7L612.5 1330.9L614.0 1330.8L615.5 1330.8L617.0 1330.9L618.5 1330.8L620.0 1330.7L621.5 1330.9L623.0 1330.8L624.5 1330.8L626.0 1330.7L627.5 1330.8L629.0 1330.4L630.5 1330.6L632.0 1330.5L633.5 1330.6L635.0 1331.1L636.5 1330.8L638.0 1330.3L639.5 1330.6L641.0 1331.1L642.5 1331.4L644.0 1331.5L645.5 1331.0L647.0 1331.0L648.5 1331.2L650.0 1331.2L651.5 1331.2L653.0 1330.9L654.5 1330.4L656.0 1330.6L657.5 1330.3L659.0 1330.5L660.5 1330.7L662.0 1330.2L663.5 1330.1L665.0 1330.3L666.5 1331.1L668.0 1331.5L669.5 1331.3L671.0 1330.9L672.5 1331.6L674.0 1331.5L675.5 1331.7L677.0 1331.4L678.5 1330.5L680.0 1330.8L681.5 1329.9L683.0 1330.9L684.5 1330.0L686.0 1330.1L687.5 1331.0L689.0 1330.5L690.5 1330.2L692.0 1330.7L693.5 1331.4L695.0 1331.5L696.5 1331.3L698.0 1331.3L699.5 1329.9L701.0 1329.8L702.5 1329.4L704.0 1329.8L705.5 1330.2L707.0 1330.3L708.5 1330.0L710.0 1330.6L711.5 1331.5L713.0 1331.5L714.5 1331.5L716.0 1331.1L717.5 1330.8L719.0 1329.9L720.5 1328.9L722.0 1329.8L723.5 1330.5L725.0 1331.1L726.5 1331.1L728.0 1330.6L729.5 1329.9L731.0 1330.0L732.5 1330.2L734.0 1329.2L735.5 1329.5L737.0 1330.3L738.5 1329.1L740.0 1330.2L741.5 1331.0L743.0 1330.8L744.5 1330.8L746.0 1330.8L747.5 1330.7L749.0 1331.7L750.5 1330.1L752.0 1330.2L753.5 1329.4L755.0 1329.2L756.5 1328.3L758.0 1329.2L759.5 1329.6L761.0 1329.1L762.5 1330.1L764.0 1329.4L765.5 1330.4L767.0 1330.7L768.5 1330.9L770.0 1329.6L771.5 1329.9L773.0 1330.0L774.5 1330.5L776.0 1329.9L777.5 1331.8L779.0 1330.8L780.5 1329.8L782.0 1329.6L783.5 1329.6L785.0 1331.7L786.5 1329.8L788.0 1329.8L789.5 1329.6L791.0 1330.7L792.5 1330.9L794.0 1330.8L795.5 1329.5L797.0 1329.1L798.5 1328.4L800.0 1328.5L801.5 1330.4L803.0 1330.2L804.5 1331.0L806.0 1331.2L807.5 1330.0L809.0 1329.3L810.5 1329.3L812.0 1329.0L813.5 1330.1L815.0 1330.9L816.5 1332.0L818.0 1330.2L819.5 1330.5L821.0 1331.6L822.5 1331.7L824.0 1330.6L825.5 1329.8L827.0 1329.2L828.5 1330.2L830.0 1330.9L831.5 1331.8L833.0 1331.5L834.5 1331.3L836.0 1329.0L837.5 1328.7L839.0 1329.7L840.5 1329.3L842.0 1329.0L843.5 1328.9L845.0 1328.0L846.5 1328.2L848.0 1330.5L849.5 1329.0L851.0 1328.9L852.5 1329.4L854.0 1328.6L855.5 1330.0L857.0 1330.5L858.5 1329.8L860.0 1330.6L861.5 1331.3L863.0 1331.1L864.5 1330.6L866.0 1330.5L867.5 1330.2L869.0 1329.1L870.5 1328.7L872.0 1329.7L873.5 1329.1L875.0 1328.4L876.5 1326.3L878.0 1326.4L879.5 1324.3L881.0 1324.1L882.5 1322.6L884.0 1321.1L885.5 1320.9L887.0 1320.8L888.5 1320.7L890.0 1319.5L891.5 1318.4L893.0 1315.7L894.5 1315.6L896.0 1313.0L897.5 1313.3L899.0 1312.2L900.5 1311.1L902.0 1311.8L903.5 1313.6L905.0 1315.7L906.5 1317.2L908.0 1317.9L909.5 1319.2L911.0 1322.7L912.5 1325.9L914.0 1328.2L915.5 1331.9L917.0 1333.0L918.5 1334.0L920.0 1335.0L921.5 1333.9L923.0 1333.5L924.5 1333.8L926.0 1333.9L927.5 1332.7L929.0 1323.3L930.5 1327.5L932.0 1332.6L933.5 1332.8L935.0 1332.4L936.5 1332.5L938.0 1332.9L939.5 1333.0L941.0 1333.6L942.5 1333.9L944.0 1334.5L945.5 1334.3L947.0 1333.5L948.5 1334.3L950.0 1334.5L951.5 1334.2L953.0 1332.4L954.5 1334.2L956.0 1334.2L957.5 1333.0L959.0 1332.3L960.5 1332.6L962.0 1333.2L963.5 1333.0L965.0 1333.4L966.5 1332.6L968.0 1332.2L969.5 1333.1L971.0 1345.2L972.5 1343.4L974.0 1332.0L975.5 1332.4L977.0 1333.2L978.5 1332.3L980.0 1331.0L981.5 1333.1L983.0 1333.1L984.5 1332.7L986.0 1332.0L987.5 1332.9L989.0 1334.5L990.5 1334.4L992.0 1333.5L993.5 1334.0L995.0 1334.4L996.5 1333.7L998.0 1332.2L999.5 1332.7L1001.0 1334.5L1002.5 1334.6L1004.0 1334.6L1005.5 1333.3L1007.0 1332.6L1008.5 1334.4L1010.0 1333.7L1011.5 1325.7L1013.0 1314.4L1014.5 1328.9L1016.0 1332.3L1017.5 1332.4L1019.0 1333.5L1020.5 1332.8L1022.0 1331.9L1023.5 1333.1L1025.0 1333.5L1026.5 1334.2L1028.0 1332.6L1029.5 1333.0L1031.0 1333.0L1032.5 1332.3L1034.0 1332.4L1035.5 1331.3L1037.0 1331.4L1038.5 1331.9L1040.0 1332.5L1041.5 1332.0L1043.0 1331.8L1044.5 1332.8L1046.0 1333.0L1047.5 1332.9L1049.0 1332.0L1050.5 1332.6L1052.0 1331.9L1053.5 1332.5L1055.0 1332.3L1056.5 1332.8L1058.0 1331.5L1059.5 1331.5L1061.0 1332.5L1062.5 1331.2L1064.0 1330.5L1065.5 1332.2L1067.0 1332.0L1068.5 1333.0L1070.0 1332.6L1071.5 1331.8L1073.0 1332.0L1074.5 1331.9L1076.0 1332.2L1077.5 1332.1L1079.0 1334.1L1080.5 1335.1L1082.0 1338.0L1083.5 1334.2L1085.0 1332.8L1086.5 1333.8L1088.0 1334.6L1089.5 1334.5L1091.0 1333.5L1092.5 1333.1L1094.0 1333.0L1095.5 1331.9L1097.0 1330.9L1098.5 1332.6L1100.0 1332.9L1101.5 1331.8L1103.0 1333.5L1104.5 1333.7L1106.0 1333.6L1107.5 1333.3L1109.0 1334.1L1110.5 1334.3L1112.0 1333.8L1113.5 1333.4L1115.0 1332.0L1116.5 1333.7L1118.0 1332.5L1119.5 1332.6L1121.0 1334.0L1122.5 1333.2L1124.0 1334.2L1125.5 1334.3L1127.0 1333.2L1128.5 1333.5L1130.0 1334.8L1131.5 1334.2L1133.0 1333.2L1134.5 1332.1L1136.0 1332.7L1137.5 1332.2L1139.0 1332.1L1140.5 1333.2L1142.0 1333.6L1143.5 1332.4L1145.0 1334.1L1146.5 1334.0L1148.0 1332.9L1149.5 1333.3L1151.0 1332.8L1152.5 1333.3L1154.0 1332.7L1155.5 1333.8L1157.0 1333.7L1158.5 1333.0L1160.0 1333.5L1161.5 1333.0L1163.0 1332.1L1164.5 1333.4L1166.0 1331.9L1167.5 1330.4L1169.0 1327.8L1170.5 1326.8L1172.0 1324.7L1173.5 1323.1L1175.0 1321.1L1176.5 1319.1L1178.0 1314.9L1179.5 1312.2L1181.0 1308.0L1182.5 1306.2L1184.0 1302.3L1185.5 1299.8L1187.0 1295.5L1188.5 1293.1L1190.0 1290.3L1191.5 1288.4L1193.0 1284.9L1194.5 1278.8L1196.0 1275.3L1197.5 1269.4L1199.0 1263.9L1200.5 1258.5L1202.0 1250.8L1203.5 1243.7L1205.0 1237.5L1206.5 1231.6L1208.0 1225.1L1209.5 1220.3L1211.0 1213.5L1212.5 1207.1L1214.0 1200.0L1215.5 1191.9L1217.0 1180.2L1218.5 1159.2L1220.0 1146.1L1221.5 1148.9L1223.0 1153.5L1224.5 1143.3L1226.0 1128.8L1227.5 1109.4L1229.0 1134.8L1230.5 1146.6L1232.0 1135.9L1233.5 1139.9L1235.0 1143.8L1236.5 1142.4L1238.0 1140.5L1239.5 1150.6L1241.0 1169.0L1242.5 1187.3L1244.0 1203.6L1245.5 1217.5L1247.0 1232.0L1248.5 1245.1L1250.0 1253.5L1251.5 1263.7L1253.0 1267.9L1254.5 1270.8L1256.0 1270.6L1257.5 1279.4L1259.0 1286.1L1260.5 1293.5L1262.0 1298.8L1263.5 1305.2L1265.0 1310.4L1266.5 1310.6L1268.0 1312.1L1269.5 1313.5L1271.0 1318.5L1272.5 1324.1L1274.0 1327.7L1275.5 1350.5L1277.0 1343.9L1278.5 1321.5L1280.0 1317.2L1281.5 1338.8L1283.0 1343.9L1284.5 1332.9L1286.0 1329.3L1287.5 1301.6L1289.0 1301.2L1290.5 1329.0L1292.0 1333.2L1293.5 1333.1L1295.0 1333.1L1296.5 1333.5L1298.0 1333.0L1299.5 1331.9L1301.0 1331.9L1302.5 1331.5L1304.0 1333.2L1305.5 1342.9L1307.0 1367.2L1308.5 1340.6L1310.0 1331.6L1311.5 1331.7L1313.0 1333.4L1314.5 1333.9L1316.0 1333.5L1317.5 1325.2L1319.0 1323.6L1320.5 1332.8L1322.0 1331.9L1323.5 1322.7L1325.0 1330.6L1326.5 1328.1L1328.0 1315.7L1329.5 1332.0L1331.0 1332.0L1332.5 1339.5L1334.0 1356.2L1335.5 1336.7L1337.0 1332.9L1338.5 1332.7L1340.0 1333.8L1341.5 1333.1L1343.0 1328.7L1344.5 1312.0L1347.5 1334.5L1350.0 1334.9L1352.5 1369.9L1355.0 1352.8L1357.5 1360.0L1360.0 1470.3L1362.5 1520.0L1364.0 1462.8L1365.5 1546.8L1368.0 1434.2L1371.0 1364.1L1374.5 1309.8L1377.0 1350.3L1380.0 1381.3L1382.5 1328.7L1384.5 1342.5L1385.9 1225.0"/>
<path d="M198.0 1502.0L199.4 1502.0L200.8 1502.0L202.2 1502.0L203.6 1502.0L205.0 1502.0L206.4 1502.0L207.8 1502.0L209.2 1502.0L210.6 1502.0L212.0 1502.0L213.4 1502.0L214.8 1502.0L216.2 1502.0L217.6 1502.0L219.0 1502.0L220.4 1502.0L221.8 1502.0L223.2 1502.0L224.6 1502.0L226.0 1502.0L227.4 1502.1L228.8 1502.0L230.2 1502.1L231.6 1502.2L233.0 1501.9L234.4 1502.2L235.8 1501.8L237.2 1501.7L238.6 1502.2L240.0 1502.2L241.4 1502.7L242.8 1502.7L244.2 1502.7L245.6 1502.3L247.0 1502.8L248.4 1502.0L249.8 1502.5L251.2 1502.0L252.6 1500.8L254.0 1500.6L255.4 1502.0L256.8 1502.2L258.2 1501.5L259.6 1501.9L261.0 1502.6L262.4 1503.9L263.8 1502.9L265.2 1502.6L266.6 1503.6L268.0 1504.9L269.4 1503.7L270.8 1502.7L272.2 1504.2L273.6 1506.5L275.0 1507.4L276.4 1506.5L277.8 1507.2L279.2 1506.7L280.6 1509.0L282.0 1508.6L283.4 1509.1L284.8 1509.4L286.2 1513.8L287.6 1518.9L289.0 1519.3L290.4 1512.6L291.8 1507.7L293.2 1507.3L294.6 1506.2L296.0 1505.3L297.4 1505.9L298.8 1504.8L300.2 1501.6L301.6 1499.9L303.0 1510.5L304.4 1516.5L305.8 1518.7L307.2 1522.7L308.6 1525.5L310.0 1530.3L311.4 1532.4L312.8 1536.4L314.2 1538.7L315.6 1540.5L317.0 1546.4L318.4 1559.5L319.8 1539.9L321.2 1528.3L322.6 1522.5L324.0 1517.9L325.4 1514.8L326.8 1510.7L328.2 1511.0L329.6 1510.0L331.0 1507.5L332.4 1507.6L333.8 1507.6L335.2 1506.1L336.6 1506.4L338.0 1505.0L339.4 1505.4L340.8 1505.2L342.2 1505.2L343.6 1503.6L345.0 1503.4L346.4 1503.1L347.8 1502.8L349.2 1502.9L350.6 1502.8L352.0 1500.1L353.4 1499.9L354.8 1499.9L356.2 1498.5L357.6 1498.0L359.0 1497.8L360.4 1496.2L361.8 1495.6L363.2 1497.2L364.6 1496.3L366.0 1494.7L367.4 1496.0L368.8 1494.4L370.2 1493.7L371.6 1492.6L373.0 1492.7L374.4 1492.1L375.8 1493.3L377.2 1492.2L378.6 1492.2L380.0 1490.7L381.4 1489.6L382.8 1487.5L384.2 1488.4L385.6 1487.3L387.0 1486.8L388.4 1486.1L389.8 1484.9L391.2 1483.1L392.6 1482.1L394.0 1476.5L395.4 1471.9L396.8 1469.2L398.2 1458.6L399.6 1448.9L401.0 1439.4L402.4 1431.2L403.8 1424.7L405.2 1416.5L406.6 1406.6L408.0 1399.3L409.4 1391.8L410.8 1382.2L412.2 1373.6L413.6 1367.7L415.0 1360.8L416.4 1356.4L417.8 1353.9L419.2 1350.9L420.6 1352.2L422.0 1356.8L423.4 1361.0L424.8 1365.5L426.2 1369.6L427.6 1378.4L429.0 1389.9L430.4 1397.6L431.8 1402.9L433.2 1410.0L434.6 1415.6L436.0 1422.0L437.4 1423.1L438.8 1426.5L440.2 1427.1L441.6 1423.5L443.0 1421.1L444.4 1414.4L445.8 1405.7L447.2 1395.6L448.6 1384.8L450.0 1374.0L451.4 1361.4L452.8 1352.8L454.2 1346.0L455.6 1349.9L457.0 1351.7L458.4 1358.7L459.8 1364.1L461.2 1373.4L462.6 1383.7L464.0 1393.5L465.4 1402.2L466.8 1410.3L468.2 1415.7L469.6 1418.1L471.0 1421.9L472.4 1423.0L473.8 1423.6L475.2 1425.0L476.6 1426.3L478.0 1426.4L479.4 1428.6L480.8 1430.2L482.2 1429.9L483.6 1429.7L485.0 1429.8L486.4 1427.2L487.8 1424.6L489.2 1425.5L490.6 1427.8L492.0 1432.2L493.4 1434.6L494.8 1438.7L496.2 1443.4L497.6 1447.9L499.0 1450.9L500.4 1454.6L501.8 1456.5L503.2 1458.7L504.6 1460.7L506.0 1464.2L507.4 1464.4L508.8 1465.8L510.2 1467.5L511.6 1470.5L513.0 1471.6L514.4 1471.8L515.8 1472.6L517.2 1471.7L518.6 1471.9L520.0 1474.1L521.4 1475.1L522.8 1475.1L524.2 1473.5L525.6 1476.3L527.0 1476.8L528.4 1475.6L529.8 1475.9L531.2 1476.5L532.6 1477.9L534.0 1479.7L535.4 1479.5L536.8 1479.7L538.2 1481.9L539.6 1482.3L541.0 1482.8"/>
<path d="M566.0 1499.0L567.5 1499.0L569.0 1499.0L570.5 1499.0L572.0 1499.0L573.5 1499.0L575.0 1499.0L576.5 1499.0L578.0 1499.0L579.5 1499.0L581.0 1499.0L582.5 1499.0L584.0 1499.1L585.5 1499.1L587.0 1499.1L588.5 1499.1L590.0 1499.1L591.5 1499.1L593.0 1499.1L594.5 1499.1L596.0 1499.1L597.5 1499.1L599.0 1499.1L600.5 1499.1L602.0 1499.1L603.5 1499.1L605.0 1499.1L606.5 1499.1L608.0 1499.2L609.5 1499.2L611.0 1499.3L612.5 1499.1L614.0 1499.1L615.5 1499.3L617.0 1499.2L618.5 1499.1L620.0 1499.0L621.5 1499.0L623.0 1499.0L624.5 1499.0L626.0 1499.1L627.5 1499.1L629.0 1498.9L630.5 1498.6L632.0 1498.9L633.5 1499.0L635.0 1499.0L636.5 1499.3L638.0 1498.9L639.5 1499.4L641.0 1499.0L642.5 1498.8L644.0 1499.2L645.5 1499.0L647.0 1498.7L648.5 1498.7L650.0 1499.2L651.5 1499.5L653.0 1499.4L654.5 1499.5L656.0 1499.4L657.5 1499.2L659.0 1498.7L660.5 1498.4L662.0 1499.0L663.5 1498.7L665.0 1499.3L666.5 1498.3L668.0 1498.9L669.5 1498.5L671.0 1498.7L672.5 1498.9L674.0 1498.5L675.5 1498.8L677.0 1498.9L678.5 1498.8L680.0 1499.0L681.5 1499.2L683.0 1499.1L684.5 1498.8L686.0 1499.1L687.5 1498.8L689.0 1498.1L690.5 1498.8L692.0 1499.6L693.5 1499.8L695.0 1500.4L696.5 1500.6L698.0 1500.3L699.5 1500.5L701.0 1498.9L702.5 1498.0L704.0 1498.4L705.5 1499.0L707.0 1499.2L708.5 1499.8L710.0 1499.4L711.5 1498.8L713.0 1498.2L714.5 1498.5L716.0 1499.2L717.5 1498.9L719.0 1499.6L720.5 1499.2L722.0 1499.2L723.5 1499.6L725.0 1500.5L726.5 1500.2L728.0 1500.2L729.5 1500.3L731.0 1500.4L732.5 1498.3L734.0 1499.7L735.5 1498.9L737.0 1498.5L738.5 1499.7L740.0 1498.9L741.5 1500.0L743.0 1499.1L744.5 1498.6L746.0 1498.4L747.5 1497.8L749.0 1499.0L750.5 1500.0L752.0 1499.4L753.5 1499.3L755.0 1499.2L756.5 1500.0L758.0 1500.7L759.5 1499.9L761.0 1499.5L762.5 1499.3L764.0 1500.3L765.5 1499.7L767.0 1500.8L768.5 1499.2L770.0 1499.3L771.5 1499.2L773.0 1499.9L774.5 1499.5L776.0 1500.1L777.5 1499.0L779.0 1500.7L780.5 1500.2L782.0 1500.8L783.5 1500.0L785.0 1499.4L786.5 1499.6L788.0 1500.3L789.5 1499.5L791.0 1499.8L792.5 1500.8L794.0 1500.6L795.5 1499.4L797.0 1500.5L798.5 1500.7L800.0 1500.9L801.5 1500.1L803.0 1499.8L804.5 1500.5L806.0 1500.4L807.5 1501.0L809.0 1502.2L810.5 1499.9L812.0 1500.3L813.5 1500.2L815.0 1500.2L816.5 1501.4L818.0 1500.4L819.5 1500.2L821.0 1499.4L822.5 1499.5L824.0 1501.2L825.5 1501.0L827.0 1500.9L828.5 1499.7L830.0 1500.2L831.5 1499.9L833.0 1499.4L834.5 1499.0L836.0 1499.0L837.5 1499.5L839.0 1498.9L840.5 1499.3L842.0 1499.2L843.5 1498.8L845.0 1499.1L846.5 1499.1L848.0 1500.8L849.5 1501.1L851.0 1501.6L852.5 1502.0L854.0 1500.3L855.5 1500.8L857.0 1499.4L858.5 1499.5L860.0 1499.5L861.5 1499.9L863.0 1499.6L864.5 1499.8L866.0 1499.5L867.5 1499.4L869.0 1499.5L870.5 1499.5L872.0 1500.0L873.5 1500.3L875.0 1498.8L876.5 1498.6L878.0 1497.6L879.5 1495.3L881.0 1495.5L882.5 1493.4L884.0 1492.8L885.5 1492.3L887.0 1491.2L888.5 1489.8L890.0 1486.9L891.5 1486.6L893.0 1483.3L894.5 1483.4L896.0 1481.5L897.5 1480.1L899.0 1478.7L900.5 1477.1L902.0 1479.0L903.5 1480.9L905.0 1482.7L906.5 1483.4L908.0 1486.6L909.5 1488.4L911.0 1491.6L912.5 1493.9L914.0 1495.1L915.5 1496.6L917.0 1498.7L918.5 1499.5L920.0 1499.2L921.5 1500.5L923.0 1499.5L924.5 1501.2L926.0 1500.6L927.5 1499.2L929.0 1478.0L930.5 1485.0L932.0 1501.1L933.5 1501.7L935.0 1500.1L936.5 1499.6L938.0 1501.2L939.5 1501.1L941.0 1499.6L942.5 1499.3L944.0 1499.6L945.5 1500.1L947.0 1500.0L948.5 1500.2L950.0 1501.4L951.5 1501.0L953.0 1500.9L954.5 1500.2L956.0 1499.9L957.5 1507.7L959.0 1508.3L960.5 1500.6L962.0 1498.9L963.5 1498.5L965.0 1500.9L966.5 1501.9L968.0 1500.6L969.5 1504.4L971.0 1512.8L972.5 1503.8L974.0 1500.0L975.5 1500.9L977.0 1500.4L978.5 1499.3L980.0 1499.6L981.5 1500.6L983.0 1501.5L984.5 1501.7L986.0 1500.5L987.5 1500.9L989.0 1501.7L990.5 1502.1L992.0 1502.2L993.5 1502.0L995.0 1502.7L996.5 1502.9L998.0 1499.8L999.5 1495.8L1001.0 1499.2L1002.5 1499.2L1004.0 1499.6L1005.5 1500.0L1007.0 1501.0L1008.5 1502.0L1010.0 1501.9L1011.5 1489.1L1013.0 1473.2L1014.5 1494.3L1016.0 1501.6L1017.5 1501.1L1019.0 1500.9L1020.5 1501.8L1022.0 1502.4L1023.5 1501.3L1025.0 1500.1L1026.5 1499.6L1028.0 1501.3L1029.5 1499.9L1031.0 1501.8L1032.5 1501.6L1034.0 1501.5L1035.5 1499.9L1037.0 1501.2L1038.5 1501.1L1040.0 1501.1L1041.5 1500.9L1043.0 1501.1L1044.5 1500.3L1046.0 1501.6L1047.5 1501.8L1049.0 1502.4L1050.5 1501.2L1052.0 1499.7L1053.5 1499.9L1055.0 1499.4L1056.5 1501.5L1058.0 1502.4L1059.5 1501.4L1061.0 1502.2L1062.5 1501.8L1064.0 1502.6L1065.5 1502.3L1067.0 1501.9L1068.5 1499.9L1070.0 1499.7L1071.5 1499.8L1073.0 1499.9L1074.5 1499.2L1076.0 1500.5L1077.5 1500.7L1079.0 1500.1L1080.5 1501.8L1082.0 1501.0L1083.5 1502.6L1085.0 1502.6L1086.5 1502.8L1088.0 1501.1L1089.5 1500.8L1091.0 1499.8L1092.5 1501.6L1094.0 1502.3L1095.5 1501.7L1097.0 1500.0L1098.5 1501.0L1100.0 1501.1L1101.5 1501.3L1103.0 1502.0L1104.5 1501.9L1106.0 1501.5L1107.5 1500.2L1109.0 1500.2L1110.5 1500.5L1112.0 1501.0L1113.5 1501.8L1115.0 1502.0L1116.5 1501.7L1118.0 1502.4L1119.5 1502.4L1121.0 1501.4L1122.5 1501.6L1124.0 1501.2L1125.5 1501.4L1127.0 1500.6L1128.5 1501.4L1130.0 1501.5L1131.5 1501.3L1133.0 1500.6L1134.5 1501.7L1136.0 1501.6L1137.5 1501.4L1139.0 1500.7L1140.5 1500.6L1142.0 1499.3L1143.5 1500.8L1145.0 1500.3L1146.5 1501.9L1148.0 1501.6L1149.5 1501.9L1151.0 1501.9L1152.5 1501.5L1154.0 1500.9L1155.5 1502.2L1157.0 1501.7L1158.5 1501.9L1160.0 1502.7L1161.5 1502.3L1163.0 1501.6L1164.5 1500.6L1166.0 1498.5L1167.5 1495.7L1169.0 1495.3L1170.5 1493.1L1172.0 1492.1L1173.5 1489.8L1175.0 1487.3L1176.5 1485.0L1178.0 1480.9L1179.5 1479.2L1181.0 1476.9L1182.5 1474.4L1184.0 1470.3L1185.5 1468.3L1187.0 1465.2L1188.5 1462.4L1190.0 1460.2L1191.5 1456.9L1193.0 1451.8L1194.5 1447.2L1196.0 1443.9L1197.5 1437.1L1199.0 1430.8L1200.5 1426.4L1202.0 1419.0L1203.5 1413.8L1205.0 1408.4L1206.5 1400.9L1208.0 1395.2L1209.5 1389.8L1211.0 1382.6L1212.5 1375.0L1214.0 1368.8L1215.5 1360.9L1217.0 1349.5L1218.5 1329.0L1220.0 1311.7L1221.5 1314.3L1223.0 1325.6L1224.5 1314.6L1226.0 1299.5L1227.5 1279.6L1229.0 1292.2L1230.5 1318.6L1232.0 1311.2L1233.5 1310.8L1235.0 1317.4L1236.5 1312.5L1238.0 1309.6L1239.5 1319.9L1241.0 1338.4L1242.5 1357.4L1244.0 1374.2L1245.5 1388.1L1247.0 1401.4L1248.5 1413.1L1250.0 1422.3L1251.5 1432.1L1253.0 1437.3L1254.5 1438.9L1256.0 1441.3L1257.5 1448.7L1259.0 1455.6L1260.5 1462.2L1262.0 1468.3L1263.5 1472.7L1265.0 1478.5L1266.5 1480.2L1268.0 1482.0L1269.5 1484.1L1271.0 1488.0L1272.5 1492.6L1274.0 1496.9L1275.5 1499.2L1277.0 1500.3L1278.5 1500.8L1280.0 1501.6L1281.5 1501.8L1283.0 1500.6L1284.5 1491.4L1286.0 1500.1L1287.5 1500.3L1289.0 1468.5L1290.5 1486.4L1292.0 1501.3L1293.5 1499.9L1295.0 1500.2L1296.5 1501.8L1298.0 1502.4L1299.5 1502.0L1301.0 1501.7L1302.5 1501.6L1304.0 1499.7L1305.5 1501.6L1307.0 1500.6L1308.5 1500.4L1310.0 1497.4L1311.5 1470.7L1313.0 1492.6L1314.5 1490.7L1316.0 1496.1L1317.5 1507.1L1319.0 1502.3L1320.5 1479.4L1322.0 1472.3L1323.5 1470.4L1325.0 1473.6L1326.5 1496.1L1328.0 1500.1L1329.5 1499.3L1331.0 1501.0L1332.5 1500.5L1334.0 1494.0L1335.5 1495.5L1337.0 1478.3L1338.5 1472.2L1340.0 1499.5L1341.5 1501.3L1343.0 1508.5L1344.5 1501.3L1347.5 1499.6L1350.0 1506.9L1352.5 1531.7L1355.0 1509.0L1357.5 1536.7L1360.0 1631.8L1362.5 1719.8L1364.0 1655.0L1365.5 1739.6L1368.0 1571.3L1371.0 1525.6L1374.5 1473.0L1377.0 1528.5L1380.0 1522.0L1382.5 1488.1L1384.5 1502.0L1385.9 1353.3"/>
<path d="M198.0 1645.5L199.4 1645.5L200.8 1645.5L202.2 1645.5L203.6 1645.5L205.0 1645.5L206.4 1645.5L207.8 1645.5L209.2 1645.5L210.6 1645.5L212.0 1645.5L213.4 1645.5L214.8 1645.5L216.2 1645.5L217.6 1645.5L219.0 1645.5L220.4 1645.5L221.8 1645.5L223.2 1645.5L224.6 1645.5L226.0 1645.5L227.4 1645.4L228.8 1645.5L230.2 1645.4L231.6 1645.2L233.0 1645.5L234.4 1645.6L235.8 1645.1L237.2 1645.4L238.6 1646.0L240.0 1645.1L241.4 1645.2L242.8 1646.1L244.2 1646.6L245.6 1646.0L247.0 1646.1L248.4 1646.4L249.8 1646.2L251.2 1645.3L252.6 1645.4L254.0 1646.1L255.4 1645.3L256.8 1644.7L258.2 1645.1L259.6 1647.0L261.0 1646.6L262.4 1646.2L263.8 1645.4L265.2 1646.9L266.6 1646.5L268.0 1646.2L269.4 1647.4L270.8 1647.6L272.2 1648.7L273.6 1650.0L275.0 1650.6L276.4 1651.2L277.8 1651.9L279.2 1652.5L280.6 1652.4L282.0 1653.8L283.4 1653.2L284.8 1654.1L286.2 1656.3L287.6 1663.3L289.0 1661.4L290.4 1656.4L291.8 1651.9L293.2 1651.0L294.6 1650.4L296.0 1649.8L297.4 1648.9L298.8 1647.0L300.2 1644.7L301.6 1643.3L303.0 1656.0L304.4 1665.7L305.8 1669.7L307.2 1674.3L308.6 1677.6L310.0 1681.8L311.4 1688.2L312.8 1693.0L314.2 1695.6L315.6 1698.2L317.0 1707.3L318.4 1724.7L319.8 1699.7L321.2 1682.1L322.6 1673.7L324.0 1668.5L325.4 1663.8L326.8 1657.9L328.2 1655.6L329.6 1654.5L331.0 1655.7L332.4 1651.8L333.8 1652.0L335.2 1652.4L336.6 1650.4L338.0 1648.6L339.4 1647.3L340.8 1648.5L342.2 1647.5L343.6 1645.9L345.0 1646.6L346.4 1645.2L347.8 1645.4L349.2 1643.8L350.6 1643.5L352.0 1644.5L353.4 1643.9L354.8 1644.6L356.2 1643.6L357.6 1642.5L359.0 1642.4L360.4 1643.0L361.8 1642.9L363.2 1643.2L364.6 1641.6L366.0 1641.1L367.4 1641.9L368.8 1641.1L370.2 1641.2L371.6 1640.2L373.0 1639.4L374.4 1636.8L375.8 1635.2L377.2 1634.6L378.6 1634.5L380.0 1634.5L381.4 1634.4L382.8 1633.0L384.2 1632.3L385.6 1631.0L387.0 1632.3L388.4 1631.1L389.8 1629.0L391.2 1629.3L392.6 1627.0L394.0 1621.6L395.4 1618.3L396.8 1613.0L398.2 1609.2L399.6 1599.0L401.0 1589.9L402.4 1581.8L403.8 1575.5L405.2 1568.3L406.6 1558.6L408.0 1550.4L409.4 1542.3L410.8 1534.3L412.2 1524.4L413.6 1517.6L415.0 1511.4L416.4 1506.6L417.8 1502.9L419.2 1497.3L420.6 1496.3L422.0 1500.5L423.4 1502.8L424.8 1506.9L426.2 1514.8L427.6 1524.4L429.0 1533.4L430.4 1542.3L431.8 1548.4L433.2 1555.2L434.6 1561.4L436.0 1569.3L437.4 1570.5L438.8 1574.1L440.2 1573.2L441.6 1570.2L443.0 1568.9L444.4 1563.0L445.8 1553.9L447.2 1543.3L448.6 1531.9L450.0 1519.6L451.4 1509.2L452.8 1499.9L454.2 1495.5L455.6 1500.7L457.0 1503.3L458.4 1510.4L459.8 1517.6L461.2 1524.8L462.6 1534.6L464.0 1542.3L465.4 1548.9L466.8 1556.3L468.2 1560.1L469.6 1561.5L471.0 1565.2L472.4 1565.3L473.8 1566.1L475.2 1567.5L476.6 1567.5L478.0 1568.6L479.4 1570.0L480.8 1570.0L482.2 1571.3L483.6 1570.0L485.0 1570.2L486.4 1568.6L487.8 1568.0L489.2 1568.2L490.6 1570.5L492.0 1574.0L493.4 1579.3L494.8 1582.3L496.2 1587.7L497.6 1591.0L499.0 1594.3L500.4 1597.1L501.8 1602.2L503.2 1603.5L504.6 1605.9L506.0 1609.4L507.4 1610.6L508.8 1612.6L510.2 1614.7L511.6 1617.0L513.0 1616.8L514.4 1618.6L515.8 1619.3L517.2 1619.6L518.6 1618.5L520.0 1620.8L521.4 1619.4L522.8 1621.4L524.2 1620.8L525.6 1622.5L527.0 1621.1L528.4 1622.8L529.8 1623.6L531.2 1624.1L532.6 1624.2L534.0 1625.5L535.4 1626.7L536.8 1626.4L538.2 1628.8L539.6 1629.7L541.0 1630.2"/>
<path d="M566.0 1643.5L567.5 1643.5L569.0 1643.5L570.5 1643.5L572.0 1643.5L573.5 1643.5L575.0 1643.5L576.5 1643.5L578.0 1643.5L579.5 1643.5L581.0 1643.5L582.5 1643.5L584.0 1643.4L585.5 1643.4L587.0 1643.4L588.5 1643.4L590.0 1643.4L591.5 1643.4L593.0 1643.4L594.5 1643.4L596.0 1643.4L597.5 1643.4L599.0 1643.4L600.5 1643.4L602.0 1643.4L603.5 1643.4L605.0 1643.3L606.5 1643.3L608.0 1643.3L609.5 1643.3L611.0 1643.3L612.5 1643.4L614.0 1643.4L615.5 1643.4L617.0 1643.4L618.5 1643.6L620.0 1643.6L621.5 1643.3L623.0 1643.2L624.5 1643.1L626.0 1643.3L627.5 1643.2L629.0 1643.2L630.5 1643.2L632.0 1643.3L633.5 1643.3L635.0 1643.5L636.5 1643.2L638.0 1643.0L639.5 1643.4L641.0 1643.4L642.5 1643.4L644.0 1643.3L645.5 1643.1L647.0 1643.5L648.5 1643.1L650.0 1642.9L651.5 1643.0L653.0 1643.1L654.5 1643.3L656.0 1643.1L657.5 1643.5L659.0 1643.4L660.5 1643.4L662.0 1643.5L663.5 1643.7L665.0 1643.8L666.5 1643.9L668.0 1643.6L669.5 1643.8L671.0 1644.1L672.5 1643.2L674.0 1642.4L675.5 1642.6L677.0 1643.2L678.5 1643.6L680.0 1643.9L681.5 1644.4L683.0 1644.4L684.5 1643.2L686.0 1643.7L687.5 1644.3L689.0 1644.7L690.5 1643.3L692.0 1642.9L693.5 1643.2L695.0 1644.3L696.5 1644.2L698.0 1643.4L699.5 1642.3L701.0 1642.9L702.5 1644.1L704.0 1643.7L705.5 1643.2L707.0 1643.2L708.5 1642.7L710.0 1642.9L711.5 1642.6L713.0 1643.0L714.5 1643.4L716.0 1642.5L717.5 1642.3L719.0 1643.2L720.5 1643.9L722.0 1644.5L723.5 1643.5L725.0 1644.0L726.5 1642.1L728.0 1642.1L729.5 1642.1L731.0 1641.4L732.5 1641.9L734.0 1642.0L735.5 1643.2L737.0 1643.7L738.5 1643.4L740.0 1643.1L741.5 1642.5L743.0 1642.6L744.5 1643.4L746.0 1643.7L747.5 1642.8L749.0 1643.5L750.5 1643.7L752.0 1642.1L753.5 1641.4L755.0 1643.0L756.5 1642.5L758.0 1642.5L759.5 1641.6L761.0 1642.0L762.5 1643.8L764.0 1644.0L765.5 1643.4L767.0 1643.1L768.5 1642.3L770.0 1642.1L771.5 1643.1L773.0 1643.2L774.5 1643.3L776.0 1641.5L777.5 1641.4L779.0 1642.0L780.5 1642.2L782.0 1641.8L783.5 1642.5L785.0 1643.2L786.5 1642.2L788.0 1643.0L789.5 1643.4L791.0 1641.5L792.5 1643.5L794.0 1642.8L795.5 1643.1L797.0 1641.7L798.5 1642.2L800.0 1642.8L801.5 1641.8L803.0 1643.1L804.5 1643.5L806.0 1643.6L807.5 1642.8L809.0 1642.3L810.5 1643.4L812.0 1643.1L813.5 1641.4L815.0 1643.1L816.5 1641.9L818.0 1642.3L819.5 1642.1L821.0 1642.8L822.5 1641.6L824.0 1641.8L825.5 1641.4L827.0 1641.9L828.5 1642.4L830.0 1641.9L831.5 1642.6L833.0 1642.1L834.5 1643.2L836.0 1643.6L837.5 1642.1L839.0 1642.7L840.5 1641.6L842.0 1641.4L843.5 1642.5L845.0 1643.3L846.5 1643.1L848.0 1642.9L849.5 1643.3L851.0 1642.7L852.5 1641.9L854.0 1641.9L855.5 1641.4L857.0 1641.0L858.5 1641.7L860.0 1641.9L861.5 1641.8L863.0 1641.8L864.5 1643.4L866.0 1642.0L867.5 1643.3L869.0 1641.8L870.5 1641.7L872.0 1640.9L873.5 1641.9L875.0 1642.2L876.5 1641.2L878.0 1639.0L879.5 1638.4L881.0 1637.0L882.5 1635.2L884.0 1634.0L885.5 1633.8L887.0 1632.0L888.5 1629.5L890.0 1628.6L891.5 1627.4L893.0 1626.6L894.5 1625.8L896.0 1625.2L897.5 1621.4L899.0 1621.8L900.5 1620.7L902.0 1622.4L903.5 1622.8L905.0 1625.1L906.5 1628.2L908.0 1630.0L909.5 1632.6L911.0 1634.9L912.5 1637.1L914.0 1639.7L915.5 1642.5L917.0 1643.2L918.5 1645.5L920.0 1645.9L921.5 1646.3L923.0 1646.6L924.5 1646.8L926.0 1645.3L927.5 1640.3L929.0 1599.9L930.5 1612.3L932.0 1645.3L933.5 1646.3L935.0 1645.3L936.5 1645.7L938.0 1645.7L939.5 1645.0L941.0 1645.1L942.5 1648.7L944.0 1653.8L945.5 1647.1L947.0 1645.9L948.5 1647.0L950.0 1647.2L951.5 1646.9L953.0 1646.0L954.5 1647.2L956.0 1646.0L957.5 1645.3L959.0 1645.4L960.5 1645.4L962.0 1645.9L963.5 1646.1L965.0 1646.1L966.5 1644.9L968.0 1645.0L969.5 1652.7L971.0 1669.7L972.5 1652.7L974.0 1643.5L975.5 1645.4L977.0 1646.5L978.5 1647.3L980.0 1647.2L981.5 1646.1L983.0 1645.1L984.5 1645.1L986.0 1646.4L987.5 1645.8L989.0 1645.1L990.5 1645.1L992.0 1645.9L993.5 1645.5L995.0 1644.9L996.5 1645.5L998.0 1644.4L999.5 1643.6L1001.0 1645.0L1002.5 1644.4L1004.0 1644.2L1005.5 1643.9L1007.0 1644.0L1008.5 1644.5L1010.0 1644.2L1011.5 1636.2L1013.0 1626.5L1014.5 1641.4L1016.0 1646.0L1017.5 1645.1L1019.0 1645.1L1020.5 1646.9L1022.0 1645.7L1023.5 1646.0L1025.0 1645.2L1026.5 1645.9L1028.0 1644.7L1029.5 1646.4L1031.0 1647.4L1032.5 1647.1L1034.0 1646.5L1035.5 1645.6L1037.0 1645.8L1038.5 1647.0L1040.0 1645.7L1041.5 1646.5L1043.0 1645.8L1044.5 1645.6L1046.0 1644.1L1047.5 1645.9L1049.0 1645.4L1050.5 1646.5L1052.0 1646.8L1053.5 1645.4L1055.0 1645.0L1056.5 1645.6L1058.0 1645.7L1059.5 1646.7L1061.0 1646.6L1062.5 1646.2L1064.0 1646.9L1065.5 1646.8L1067.0 1646.0L1068.5 1647.1L1070.0 1646.6L1071.5 1646.1L1073.0 1647.0L1074.5 1647.0L1076.0 1647.4L1077.5 1646.5L1079.0 1645.4L1080.5 1645.1L1082.0 1645.2L1083.5 1647.0L1085.0 1645.4L1086.5 1645.7L1088.0 1646.6L1089.5 1646.9L1091.0 1646.4L1092.5 1646.0L1094.0 1645.5L1095.5 1646.0L1097.0 1644.8L1098.5 1644.9L1100.0 1644.4L1101.5 1645.8L1103.0 1646.5L1104.5 1645.9L1106.0 1645.0L1107.5 1644.4L1109.0 1644.4L1110.5 1644.2L1112.0 1644.4L1113.5 1644.6L1115.0 1645.2L1116.5 1645.1L1118.0 1646.6L1119.5 1645.4L1121.0 1645.2L1122.5 1644.5L1124.0 1644.1L1125.5 1645.6L1127.0 1646.3L1128.5 1646.2L1130.0 1644.5L1131.5 1646.0L1133.0 1646.1L1134.5 1646.5L1136.0 1646.4L1137.5 1645.9L1139.0 1644.9L1140.5 1646.2L1142.0 1646.9L1143.5 1647.0L1145.0 1646.5L1146.5 1645.1L1148.0 1644.9L1149.5 1645.1L1151.0 1645.9L1152.5 1646.6L1154.0 1645.9L1155.5 1646.8L1157.0 1647.4L1158.5 1646.5L1160.0 1647.0L1161.5 1645.9L1163.0 1646.4L1164.5 1644.2L1166.0 1643.5L1167.5 1641.9L1169.0 1640.1L1170.5 1638.4L1172.0 1636.6L1173.5 1634.9L1175.0 1633.3L1176.5 1628.9L1178.0 1627.4L1179.5 1623.8L1181.0 1621.7L1182.5 1618.0L1184.0 1615.7L1185.5 1612.1L1187.0 1609.4L1188.5 1605.8L1190.0 1603.4L1191.5 1601.0L1193.0 1596.3L1194.5 1590.8L1196.0 1585.4L1197.5 1580.7L1199.0 1574.4L1200.5 1568.3L1202.0 1562.6L1203.5 1558.2L1205.0 1551.4L1206.5 1545.6L1208.0 1539.8L1209.5 1534.8L1211.0 1528.6L1212.5 1520.0L1214.0 1513.4L1215.5 1505.9L1217.0 1493.4L1218.5 1472.7L1220.0 1458.6L1221.5 1462.7L1223.0 1468.4L1224.5 1459.8L1226.0 1446.8L1227.5 1426.4L1229.0 1445.8L1230.5 1461.8L1232.0 1455.1L1233.5 1451.5L1235.0 1447.5L1236.5 1453.5L1238.0 1452.0L1239.5 1462.9L1241.0 1481.8L1242.5 1500.7L1244.0 1517.2L1245.5 1530.7L1247.0 1544.7L1248.5 1556.0L1250.0 1566.7L1251.5 1576.8L1253.0 1580.1L1254.5 1582.4L1256.0 1584.7L1257.5 1592.9L1259.0 1600.7L1260.5 1608.2L1262.0 1612.8L1263.5 1618.1L1265.0 1624.8L1266.5 1626.1L1268.0 1625.5L1269.5 1627.1L1271.0 1630.9L1272.5 1641.1L1274.0 1647.4L1275.5 1639.5L1277.0 1644.4L1278.5 1644.2L1280.0 1646.3L1281.5 1645.2L1283.0 1646.1L1284.5 1645.9L1286.0 1645.0L1287.5 1616.8L1289.0 1627.2L1290.5 1644.6L1292.0 1646.0L1293.5 1644.5L1295.0 1648.8L1296.5 1659.3L1298.0 1625.5L1299.5 1613.7L1301.0 1633.8L1302.5 1643.8L1304.0 1660.3L1305.5 1644.7L1307.0 1643.7L1308.5 1644.3L1310.0 1644.4L1311.5 1640.9L1313.0 1638.4L1314.5 1647.0L1316.0 1644.8L1317.5 1645.6L1319.0 1645.5L1320.5 1644.2L1322.0 1644.4L1323.5 1646.1L1325.0 1629.5L1326.5 1633.5L1328.0 1650.4L1329.5 1660.3L1331.0 1646.8L1332.5 1645.7L1334.0 1645.9L1335.5 1639.6L1337.0 1637.2L1338.5 1645.0L1340.0 1644.3L1341.5 1643.3L1343.0 1654.1L1344.5 1653.5L1347.5 1647.4L1350.0 1639.8L1352.5 1670.7L1355.0 1660.0L1357.5 1696.0L1360.0 1775.9L1362.5 1837.3L1364.0 1790.7L1365.5 1888.5L1368.0 1731.5L1371.0 1669.1L1374.5 1627.4L1377.0 1678.2L1380.0 1669.3L1382.5 1641.0L1384.5 1635.5L1385.9 1533.9"/>
<path d="M198.0 1766.0L199.4 1766.0L200.8 1766.0L202.2 1766.0L203.6 1766.0L205.0 1766.0L206.4 1766.0L207.8 1766.0L209.2 1766.0L210.6 1766.0L212.0 1766.0L213.4 1766.0L214.8 1766.0L216.2 1766.0L217.6 1766.0L219.0 1766.0L220.4 1766.0L221.8 1766.0L223.2 1766.0L224.6 1766.0L226.0 1766.0L227.4 1765.9L228.8 1765.7L230.2 1765.8L231.6 1765.8L233.0 1765.6L234.4 1765.4L235.8 1765.4L237.2 1765.5L238.6 1765.4L240.0 1765.4L241.4 1765.7L242.8 1766.5L244.2 1766.2L245.6 1765.4L247.0 1765.5L248.4 1766.0L249.8 1766.5L251.2 1766.0L252.6 1765.9L254.0 1765.6L255.4 1767.1L256.8 1766.6L258.2 1766.4L259.6 1766.9L261.0 1766.4L262.4 1767.8L263.8 1766.8L265.2 1767.1L266.6 1766.4L268.0 1768.2L269.4 1767.8L270.8 1767.4L272.2 1768.9L273.6 1771.8L275.0 1772.2L276.4 1772.1L277.8 1772.6L279.2 1773.3L280.6 1773.0L282.0 1774.7L283.4 1775.2L284.8 1776.7L286.2 1780.1L287.6 1786.6L289.0 1785.3L290.4 1777.2L291.8 1773.7L293.2 1774.3L294.6 1772.8L296.0 1772.4L297.4 1770.8L298.8 1769.3L300.2 1765.7L301.6 1764.2L303.0 1782.3L304.4 1797.7L305.8 1802.5L307.2 1806.4L308.6 1812.4L310.0 1819.8L311.4 1826.0L312.8 1834.8L314.2 1839.7L315.6 1841.3L317.0 1853.2L318.4 1879.0L319.8 1842.7L321.2 1821.2L322.6 1806.3L324.0 1798.0L325.4 1793.6L326.8 1785.8L328.2 1781.4L329.6 1778.7L331.0 1776.9L332.4 1775.1L333.8 1772.2L335.2 1771.6L336.6 1771.5L338.0 1770.4L339.4 1768.5L340.8 1770.1L342.2 1769.0L343.6 1767.3L345.0 1766.8L346.4 1766.1L347.8 1765.2L349.2 1765.6L350.6 1765.6L352.0 1764.2L353.4 1765.4L354.8 1764.6L356.2 1764.4L357.6 1763.7L359.0 1764.1L360.4 1763.5L361.8 1764.3L363.2 1762.8L364.6 1763.3L366.0 1762.9L367.4 1762.1L368.8 1761.8L370.2 1762.1L371.6 1760.3L373.0 1760.6L374.4 1760.1L375.8 1759.3L377.2 1757.5L378.6 1758.2L380.0 1758.6L381.4 1757.8L382.8 1755.6L384.2 1756.5L385.6 1753.4L387.0 1751.9L388.4 1750.6L389.8 1750.5L391.2 1750.6L392.6 1749.1L394.0 1746.6L395.4 1743.1L396.8 1739.3L398.2 1736.2L399.6 1728.4L401.0 1718.7L402.4 1711.3L403.8 1703.8L405.2 1697.0L406.6 1691.0L408.0 1681.8L409.4 1675.9L410.8 1667.9L412.2 1660.6L413.6 1650.9L415.0 1645.6L416.4 1640.6L417.8 1635.3L419.2 1629.6L420.6 1629.0L422.0 1634.9L423.4 1640.9L424.8 1636.0L426.2 1631.6L427.6 1643.4L429.0 1660.9L430.4 1670.7L431.8 1676.3L433.2 1682.4L434.6 1690.5L436.0 1697.9L437.4 1700.1L438.8 1701.6L440.2 1702.3L441.6 1699.2L443.0 1697.3L444.4 1692.6L445.8 1682.7L447.2 1671.8L448.6 1659.3L450.0 1646.2L451.4 1632.5L452.8 1624.3L454.2 1618.8L455.6 1622.6L457.0 1626.6L458.4 1631.2L459.8 1638.5L461.2 1648.2L462.6 1658.1L464.0 1668.4L465.4 1678.0L466.8 1687.8L468.2 1690.6L469.6 1692.3L471.0 1695.8L472.4 1696.2L473.8 1697.0L475.2 1698.3L476.6 1699.3L478.0 1699.8L479.4 1700.4L480.8 1701.6L482.2 1704.4L483.6 1704.6L485.0 1705.0L486.4 1702.5L487.8 1699.7L489.2 1698.4L490.6 1701.0L492.0 1703.6L493.4 1708.6L494.8 1713.3L496.2 1716.9L497.6 1721.7L499.0 1723.5L500.4 1725.1L501.8 1728.5L503.2 1729.7L504.6 1731.0L506.0 1733.9L507.4 1737.3L508.8 1740.0L510.2 1740.7L511.6 1742.3L513.0 1744.3L514.4 1744.1L515.8 1744.3L517.2 1743.7L518.6 1744.2L520.0 1746.1L521.4 1745.2L522.8 1746.8L524.2 1747.4L525.6 1748.1L527.0 1749.5L528.4 1749.3L529.8 1748.9L531.2 1751.0L532.6 1750.8L534.0 1751.3L535.4 1751.8L536.8 1751.5L538.2 1751.1L539.6 1752.8L541.0 1752.6"/>
<path d="M566.0 1765.0L567.5 1765.0L569.0 1765.0L570.5 1765.0L572.0 1765.0L573.5 1765.0L575.0 1765.0L576.5 1765.0L578.0 1765.0L579.5 1765.0L581.0 1765.0L582.5 1765.0L584.0 1764.9L585.5 1764.9L587.0 1764.9L588.5 1764.9L590.0 1764.9L591.5 1764.9L593.0 1764.9L594.5 1764.9L596.0 1764.9L597.5 1764.9L599.0 1764.9L600.5 1764.9L602.0 1764.9L603.5 1764.9L605.0 1764.9L606.5 1764.9L608.0 1764.8L609.5 1764.9L611.0 1764.9L612.5 1764.9L614.0 1764.9L615.5 1764.8L617.0 1764.7L618.5 1764.9L620.0 1764.8L621.5 1765.0L623.0 1765.0L624.5 1765.0L626.0 1765.0L627.5 1765.0L629.0 1765.2L630.5 1764.9L632.0 1764.7L633.5 1765.2L635.0 1765.3L636.5 1765.2L638.0 1764.8L639.5 1765.0L641.0 1765.2L642.5 1765.2L644.0 1764.7L645.5 1765.2L647.0 1765.1L648.5 1765.3L650.0 1765.5L651.5 1765.5L653.0 1765.9L654.5 1765.4L656.0 1765.0L657.5 1765.4L659.0 1764.5L660.5 1764.8L662.0 1765.3L663.5 1765.8L665.0 1765.7L666.5 1765.2L668.0 1765.4L669.5 1765.4L671.0 1765.4L672.5 1765.1L674.0 1765.1L675.5 1765.0L677.0 1764.7L678.5 1765.2L680.0 1764.7L681.5 1764.8L683.0 1764.3L684.5 1765.0L686.0 1764.5L687.5 1764.1L689.0 1763.8L690.5 1764.1L692.0 1764.6L693.5 1765.2L695.0 1764.9L696.5 1764.4L698.0 1764.5L699.5 1764.3L701.0 1764.6L702.5 1765.0L704.0 1764.6L705.5 1764.6L707.0 1764.4L708.5 1765.2L710.0 1765.6L711.5 1766.2L713.0 1765.3L714.5 1764.0L716.0 1765.5L717.5 1765.8L719.0 1765.4L720.5 1764.8L722.0 1763.9L723.5 1765.2L725.0 1766.0L726.5 1764.5L728.0 1763.7L729.5 1763.6L731.0 1764.0L732.5 1764.7L734.0 1764.8L735.5 1765.1L737.0 1764.4L738.5 1765.2L740.0 1765.0L741.5 1764.4L743.0 1763.8L744.5 1763.8L746.0 1763.9L747.5 1763.7L749.0 1763.2L750.5 1765.1L752.0 1765.7L753.5 1765.6L755.0 1765.2L756.5 1763.5L758.0 1765.0L759.5 1764.5L761.0 1763.0L762.5 1764.1L764.0 1763.0L765.5 1764.2L767.0 1764.4L768.5 1764.9L770.0 1765.1L771.5 1765.4L773.0 1765.8L774.5 1764.8L776.0 1764.5L777.5 1763.9L779.0 1763.8L780.5 1764.0L782.0 1764.0L783.5 1764.7L785.0 1765.4L786.5 1763.9L788.0 1764.6L789.5 1764.4L791.0 1764.7L792.5 1764.6L794.0 1764.2L795.5 1763.7L797.0 1763.9L798.5 1764.3L800.0 1763.2L801.5 1764.2L803.0 1764.3L804.5 1763.0L806.0 1764.2L807.5 1763.4L809.0 1762.7L810.5 1763.0L812.0 1764.6L813.5 1764.9L815.0 1765.3L816.5 1764.7L818.0 1765.1L819.5 1764.5L821.0 1763.5L822.5 1763.5L824.0 1762.8L825.5 1762.5L827.0 1763.8L828.5 1763.8L830.0 1763.3L831.5 1762.4L833.0 1762.9L834.5 1763.4L836.0 1763.9L837.5 1763.4L839.0 1762.3L840.5 1762.8L842.0 1762.7L843.5 1763.8L845.0 1764.0L846.5 1764.5L848.0 1763.3L849.5 1763.3L851.0 1763.5L852.5 1763.1L854.0 1764.3L855.5 1765.0L857.0 1765.6L858.5 1765.1L860.0 1764.8L861.5 1764.9L863.0 1764.9L864.5 1764.7L866.0 1765.8L867.5 1766.1L869.0 1764.8L870.5 1765.3L872.0 1764.6L873.5 1764.8L875.0 1764.0L876.5 1762.1L878.0 1760.7L879.5 1759.2L881.0 1758.3L882.5 1756.4L884.0 1755.1L885.5 1753.8L887.0 1753.2L888.5 1752.7L890.0 1751.0L891.5 1749.1L893.0 1747.1L894.5 1745.8L896.0 1744.8L897.5 1743.5L899.0 1742.4L900.5 1741.1L902.0 1744.1L903.5 1745.6L905.0 1747.5L906.5 1749.2L908.0 1751.3L909.5 1752.6L911.0 1754.9L912.5 1758.8L914.0 1761.6L915.5 1762.7L917.0 1765.2L918.5 1766.6L920.0 1766.4L921.5 1766.6L923.0 1767.9L924.5 1767.9L926.0 1768.6L927.5 1768.4L929.0 1768.1L930.5 1766.1L932.0 1765.5L933.5 1765.7L935.0 1765.7L936.5 1767.2L938.0 1766.8L939.5 1766.8L941.0 1766.8L942.5 1774.6L944.0 1784.7L945.5 1771.3L947.0 1766.2L948.5 1766.6L950.0 1766.8L951.5 1767.6L953.0 1768.1L954.5 1767.9L956.0 1768.3L957.5 1773.4L959.0 1774.2L960.5 1767.4L962.0 1767.9L963.5 1767.0L965.0 1765.9L966.5 1766.1L968.0 1765.6L969.5 1767.0L971.0 1766.2L972.5 1767.1L974.0 1768.1L975.5 1768.4L977.0 1767.9L978.5 1768.0L980.0 1767.9L981.5 1767.7L983.0 1766.6L984.5 1765.7L986.0 1766.7L987.5 1767.4L989.0 1768.2L990.5 1766.4L992.0 1766.8L993.5 1768.0L995.0 1768.1L996.5 1768.6L998.0 1769.0L999.5 1767.9L1001.0 1768.4L1002.5 1766.1L1004.0 1765.3L1005.5 1765.1L1007.0 1766.4L1008.5 1766.0L1010.0 1766.4L1011.5 1753.3L1013.0 1738.9L1014.5 1760.9L1016.0 1767.6L1017.5 1765.9L1019.0 1765.5L1020.5 1767.2L1022.0 1768.6L1023.5 1767.0L1025.0 1767.5L1026.5 1766.6L1028.0 1766.1L1029.5 1767.5L1031.0 1767.7L1032.5 1767.9L1034.0 1766.7L1035.5 1766.8L1037.0 1767.9L1038.5 1768.0L1040.0 1767.4L1041.5 1767.0L1043.0 1767.7L1044.5 1766.6L1046.0 1767.5L1047.5 1768.3L1049.0 1766.9L1050.5 1766.6L1052.0 1766.4L1053.5 1767.5L1055.0 1767.9L1056.5 1766.8L1058.0 1768.4L1059.5 1766.5L1061.0 1766.5L1062.5 1767.5L1064.0 1767.9L1065.5 1768.6L1067.0 1766.5L1068.5 1767.3L1070.0 1767.8L1071.5 1767.4L1073.0 1766.6L1074.5 1766.4L1076.0 1767.8L1077.5 1768.1L1079.0 1768.8L1080.5 1767.4L1082.0 1767.3L1083.5 1767.1L1085.0 1767.8L1086.5 1767.7L1088.0 1766.9L1089.5 1767.7L1091.0 1767.1L1092.5 1767.0L1094.0 1766.8L1095.5 1767.9L1097.0 1767.6L1098.5 1767.1L1100.0 1767.0L1101.5 1767.4L1103.0 1765.9L1104.5 1767.0L1106.0 1765.9L1107.5 1765.7L1109.0 1766.5L1110.5 1768.4L1112.0 1767.5L1113.5 1767.1L1115.0 1767.3L1116.5 1766.9L1118.0 1766.8L1119.5 1766.7L1121.0 1767.5L1122.5 1766.6L1124.0 1767.6L1125.5 1767.3L1127.0 1766.2L1128.5 1765.6L1130.0 1765.4L1131.5 1765.0L1133.0 1767.0L1134.5 1766.0L1136.0 1764.9L1137.5 1765.5L1139.0 1766.1L1140.5 1765.5L1142.0 1765.1L1143.5 1765.0L1145.0 1765.3L1146.5 1765.7L1148.0 1765.7L1149.5 1766.1L1151.0 1765.3L1152.5 1766.5L1154.0 1765.7L1155.5 1765.6L1157.0 1765.4L1158.5 1765.5L1160.0 1766.2L1161.5 1766.4L1163.0 1767.6L1164.5 1766.0L1166.0 1763.6L1167.5 1761.4L1169.0 1758.9L1170.5 1757.2L1172.0 1756.7L1173.5 1753.5L1175.0 1750.5L1176.5 1747.5L1178.0 1744.1L1179.5 1741.2L1181.0 1738.0L1182.5 1733.6L1184.0 1729.9L1185.5 1727.6L1187.0 1724.6L1188.5 1719.8L1190.0 1715.2L1191.5 1712.7L1193.0 1706.1L1194.5 1699.8L1196.0 1693.3L1197.5 1688.8L1199.0 1682.3L1200.5 1674.5L1202.0 1666.3L1203.5 1659.3L1205.0 1651.2L1206.5 1645.3L1208.0 1637.3L1209.5 1630.2L1211.0 1621.8L1212.5 1612.9L1214.0 1603.8L1215.5 1593.5L1217.0 1580.2L1218.5 1554.6L1220.0 1539.4L1221.5 1544.7L1223.0 1549.0L1224.5 1534.3L1226.0 1517.2L1227.5 1493.8L1229.0 1515.9L1230.5 1536.7L1232.0 1539.9L1233.5 1528.2L1235.0 1532.9L1236.5 1533.9L1238.0 1530.2L1239.5 1543.3L1241.0 1564.9L1242.5 1587.0L1244.0 1609.3L1245.5 1624.8L1247.0 1641.5L1248.5 1656.8L1250.0 1669.8L1251.5 1681.4L1253.0 1687.8L1254.5 1689.2L1256.0 1690.1L1257.5 1700.9L1259.0 1710.3L1260.5 1718.2L1262.0 1725.5L1263.5 1732.9L1265.0 1739.1L1266.5 1740.1L1268.0 1740.9L1269.5 1743.6L1271.0 1749.2L1272.5 1752.7L1274.0 1754.0L1275.5 1764.2L1277.0 1765.7L1278.5 1767.0L1280.0 1766.5L1281.5 1767.6L1283.0 1767.0L1284.5 1767.4L1286.0 1772.2L1287.5 1782.3L1289.0 1765.8L1290.5 1764.5L1292.0 1773.2L1293.5 1788.0L1295.0 1762.3L1296.5 1751.7L1298.0 1749.9L1299.5 1754.3L1301.0 1766.9L1302.5 1767.6L1304.0 1769.2L1305.5 1777.2L1307.0 1767.2L1308.5 1767.8L1310.0 1770.1L1311.5 1761.0L1313.0 1780.9L1314.5 1783.1L1316.0 1767.6L1317.5 1782.1L1319.0 1811.0L1320.5 1769.0L1322.0 1766.5L1323.5 1753.0L1325.0 1742.3L1326.5 1767.7L1328.0 1766.3L1329.5 1766.6L1331.0 1765.8L1332.5 1766.6L1334.0 1765.4L1335.5 1766.2L1337.0 1756.1L1338.5 1746.6L1340.0 1777.3L1341.5 1768.6L1343.0 1768.6L1344.5 1768.9L1347.5 1764.4L1350.0 1776.0L1352.5 1801.5L1355.0 1783.2L1357.5 1804.7L1360.0 1902.8L1362.5 1982.5L1364.0 1922.1L1365.5 1967.5L1368.0 1842.4L1371.0 1796.1L1374.5 1753.9L1377.0 1794.7L1380.0 1823.2L1382.5 1759.6L1384.5 1801.0L1385.9 1645.4"/>
<path d="M198.0 1890.0L199.4 1890.0L200.8 1890.0L202.2 1890.0L203.6 1890.0L205.0 1890.0L206.4 1890.0L207.8 1890.0L209.2 1890.0L210.6 1890.0L212.0 1890.0L213.4 1890.0L214.8 1890.0L216.2 1890.0L217.6 1890.0L219.0 1890.0L220.4 1890.0L221.8 1890.0L223.2 1890.0L224.6 1890.0L226.0 1890.0L227.4 1890.1L228.8 1890.2L230.2 1890.2L231.6 1890.1L233.0 1889.9L234.4 1890.0L235.8 1890.3L237.2 1889.9L238.6 1890.2L240.0 1890.5L241.4 1890.1L242.8 1890.5L244.2 1890.8L245.6 1891.4L247.0 1890.8L248.4 1890.9L249.8 1891.0L251.2 1890.0L252.6 1889.5L254.0 1890.5L255.4 1891.8L256.8 1892.0L258.2 1892.2L259.6 1890.9L261.0 1891.1L262.4 1891.6L263.8 1892.0L265.2 1892.6L266.6 1892.0L268.0 1891.7L269.4 1891.8L270.8 1892.9L272.2 1893.9L273.6 1895.1L275.0 1897.6L276.4 1897.9L277.8 1898.2L279.2 1900.4L280.6 1901.8L282.0 1902.5L283.4 1903.5L284.8 1903.7L286.2 1907.1L287.6 1914.0L289.0 1911.2L290.4 1904.3L291.8 1900.9L293.2 1900.9L294.6 1897.7L296.0 1895.7L297.4 1894.6L298.8 1891.5L300.2 1890.4L301.6 1889.6L303.0 1907.6L304.4 1922.5L305.8 1929.9L307.2 1937.0L308.6 1944.0L310.0 1950.8L311.4 1959.6L312.8 1968.3L314.2 1973.6L315.6 1978.0L317.0 1993.0L318.4 2022.3L319.8 1980.0L321.2 1954.3L322.6 1936.9L324.0 1929.6L325.4 1923.4L326.8 1915.1L328.2 1910.8L329.6 1908.1L331.0 1906.1L332.4 1902.1L333.8 1898.7L335.2 1897.8L336.6 1898.0L338.0 1898.1L339.4 1895.4L340.8 1895.2L342.2 1895.4L343.6 1892.5L345.0 1891.6L346.4 1891.4L347.8 1889.3L349.2 1888.6L350.6 1887.8L352.0 1890.0L353.4 1889.6L354.8 1887.5L356.2 1889.5L357.6 1889.0L359.0 1887.1L360.4 1887.3L361.8 1887.8L363.2 1887.9L364.6 1888.4L366.0 1888.4L367.4 1886.8L368.8 1885.1L370.2 1884.3L371.6 1885.5L373.0 1886.9L374.4 1887.1L375.8 1885.0L377.2 1884.3L378.6 1885.3L380.0 1883.8L381.4 1884.3L382.8 1885.1L384.2 1884.2L385.6 1882.2L387.0 1883.3L388.4 1882.4L389.8 1882.6L391.2 1882.5L392.6 1880.7L394.0 1877.4L395.4 1874.0L396.8 1869.2L398.2 1864.7L399.6 1859.3L401.0 1848.7L402.4 1839.8L403.8 1831.9L405.2 1824.4L406.6 1817.1L408.0 1809.2L409.4 1802.5L410.8 1796.1L412.2 1790.0L413.6 1779.8L415.0 1775.6L416.4 1768.6L417.8 1763.1L419.2 1756.4L420.6 1752.9L422.0 1760.3L423.4 1767.2L424.8 1756.1L426.2 1743.6L427.6 1757.0L429.0 1776.2L430.4 1792.2L431.8 1804.8L433.2 1814.5L434.6 1822.2L436.0 1827.5L437.4 1830.6L438.8 1834.0L440.2 1834.3L441.6 1831.1L443.0 1829.1L444.4 1821.1L445.8 1810.2L447.2 1798.5L448.6 1783.9L450.0 1768.9L451.4 1754.1L452.8 1743.8L454.2 1736.7L455.6 1742.3L457.0 1746.6L458.4 1753.3L459.8 1758.6L461.2 1767.4L462.6 1776.6L464.0 1786.4L465.4 1797.6L466.8 1808.5L468.2 1811.5L469.6 1815.2L471.0 1819.9L472.4 1820.6L473.8 1823.0L475.2 1824.8L476.6 1824.6L478.0 1826.0L479.4 1826.2L480.8 1828.9L482.2 1828.8L483.6 1828.9L485.0 1829.3L486.4 1829.5L487.8 1829.3L489.2 1827.3L490.6 1830.9L492.0 1833.3L493.4 1837.3L494.8 1841.4L496.2 1843.7L497.6 1848.1L499.0 1850.3L500.4 1852.0L501.8 1855.8L503.2 1857.6L504.6 1861.5L506.0 1862.8L507.4 1866.0L508.8 1865.8L510.2 1866.3L511.6 1866.9L513.0 1868.9L514.4 1869.1L515.8 1871.0L517.2 1871.9L518.6 1872.9L520.0 1873.4L521.4 1873.8L522.8 1873.5L524.2 1874.5L525.6 1874.9L527.0 1876.3L528.4 1875.5L529.8 1875.5L531.2 1876.1L532.6 1877.7L534.0 1878.1L535.4 1878.9L536.8 1878.4L538.2 1880.9L539.6 1881.0L541.0 1881.5"/>
<path d="M566.0 1890.0L567.5 1890.0L569.0 1890.0L570.5 1890.0L572.0 1890.0L573.5 1890.0L575.0 1889.9L576.5 1889.9L578.0 1889.9L579.5 1889.9L581.0 1889.9L582.5 1889.9L584.0 1889.9L585.5 1889.9L587.0 1889.9L588.5 1889.9L590.0 1889.9L591.5 1889.8L593.0 1889.8L594.5 1889.8L596.0 1889.8L597.5 1889.8L599.0 1889.8L600.5 1889.8L602.0 1889.8L603.5 1889.7L605.0 1889.8L606.5 1889.8L608.0 1889.7L609.5 1889.7L611.0 1889.7L612.5 1889.8L614.0 1889.8L615.5 1889.8L617.0 1889.6L618.5 1889.6L620.0 1889.6L621.5 1889.5L623.0 1889.5L624.5 1889.6L626.0 1889.4L627.5 1889.4L629.0 1889.4L630.5 1889.2L632.0 1889.4L633.5 1889.0L635.0 1889.4L636.5 1889.2L638.0 1889.2L639.5 1889.7L641.0 1889.3L642.5 1889.9L644.0 1890.0L645.5 1889.8L647.0 1890.0L648.5 1889.2L650.0 1889.5L651.5 1889.8L653.0 1889.6L654.5 1889.7L656.0 1889.8L657.5 1889.4L659.0 1889.9L660.5 1890.1L662.0 1890.4L663.5 1889.6L665.0 1889.6L666.5 1889.0L668.0 1889.0L669.5 1889.4L671.0 1889.5L672.5 1889.2L674.0 1888.7L675.5 1889.4L677.0 1889.6L678.5 1889.4L680.0 1888.9L681.5 1889.9L683.0 1889.8L684.5 1889.0L686.0 1889.4L687.5 1889.4L689.0 1889.7L690.5 1889.4L692.0 1890.1L693.5 1890.4L695.0 1889.7L696.5 1889.4L698.0 1889.4L699.5 1889.7L701.0 1889.8L702.5 1889.7L704.0 1889.4L705.5 1889.1L707.0 1889.0L708.5 1889.0L710.0 1888.7L711.5 1888.5L713.0 1888.6L714.5 1887.9L716.0 1888.7L717.5 1888.6L719.0 1888.1L720.5 1888.0L722.0 1888.2L723.5 1888.0L725.0 1888.6L726.5 1888.1L728.0 1889.5L729.5 1890.0L731.0 1890.1L732.5 1891.2L734.0 1890.1L735.5 1889.6L737.0 1889.5L738.5 1888.6L740.0 1889.3L741.5 1890.0L743.0 1890.8L744.5 1889.4L746.0 1889.1L747.5 1888.7L749.0 1890.2L750.5 1890.6L752.0 1890.0L753.5 1888.6L755.0 1889.5L756.5 1888.0L758.0 1888.9L759.5 1887.8L761.0 1888.5L762.5 1887.1L764.0 1888.9L765.5 1887.8L767.0 1889.6L768.5 1889.1L770.0 1890.5L771.5 1890.0L773.0 1890.8L774.5 1890.1L776.0 1888.6L777.5 1889.2L779.0 1887.9L780.5 1889.1L782.0 1888.9L783.5 1888.0L785.0 1889.3L786.5 1888.0L788.0 1888.9L789.5 1887.4L791.0 1887.7L792.5 1887.3L794.0 1888.2L795.5 1888.5L797.0 1889.6L798.5 1888.6L800.0 1888.4L801.5 1887.9L803.0 1888.4L804.5 1887.2L806.0 1888.9L807.5 1887.2L809.0 1886.1L810.5 1886.2L812.0 1886.2L813.5 1887.1L815.0 1887.1L816.5 1887.2L818.0 1886.0L819.5 1887.7L821.0 1888.0L822.5 1887.9L824.0 1887.5L825.5 1887.8L827.0 1888.4L828.5 1888.5L830.0 1888.7L831.5 1890.1L833.0 1889.3L834.5 1888.6L836.0 1888.3L837.5 1887.9L839.0 1888.2L840.5 1888.4L842.0 1888.1L843.5 1888.9L845.0 1887.3L846.5 1887.0L848.0 1886.8L849.5 1886.6L851.0 1887.7L852.5 1888.7L854.0 1888.7L855.5 1889.3L857.0 1890.2L858.5 1889.7L860.0 1888.9L861.5 1889.4L863.0 1888.3L864.5 1888.6L866.0 1888.2L867.5 1888.9L869.0 1889.6L870.5 1888.4L872.0 1889.0L873.5 1887.6L875.0 1886.0L876.5 1885.7L878.0 1883.8L879.5 1882.2L881.0 1881.4L882.5 1880.0L884.0 1879.4L885.5 1879.2L887.0 1878.9L888.5 1876.2L890.0 1875.2L891.5 1873.9L893.0 1872.5L894.5 1870.7L896.0 1868.5L897.5 1867.6L899.0 1865.8L900.5 1866.0L902.0 1867.1L903.5 1869.2L905.0 1870.9L906.5 1871.4L908.0 1874.2L909.5 1877.8L911.0 1880.7L912.5 1884.1L914.0 1887.5L915.5 1889.4L917.0 1891.3L918.5 1893.7L920.0 1893.2L921.5 1893.6L923.0 1893.0L924.5 1892.6L926.0 1892.1L927.5 1888.8L929.0 1864.6L930.5 1872.3L932.0 1890.8L933.5 1891.3L935.0 1891.2L936.5 1891.5L938.0 1891.6L939.5 1891.7L941.0 1892.8L942.5 1892.5L944.0 1893.0L945.5 1891.4L947.0 1892.5L948.5 1891.6L950.0 1892.1L951.5 1892.9L953.0 1892.8L954.5 1892.8L956.0 1892.4L957.5 1892.0L959.0 1891.2L960.5 1891.3L962.0 1892.5L963.5 1892.2L965.0 1892.0L966.5 1892.4L968.0 1893.1L969.5 1899.3L971.0 1912.9L972.5 1898.6L974.0 1891.7L975.5 1892.7L977.0 1892.0L978.5 1891.7L980.0 1892.8L981.5 1893.3L983.0 1892.1L984.5 1892.4L986.0 1892.1L987.5 1893.0L989.0 1892.2L990.5 1892.9L992.0 1892.7L993.5 1892.6L995.0 1892.7L996.5 1891.9L998.0 1892.2L999.5 1891.4L1001.0 1890.5L1002.5 1892.0L1004.0 1891.6L1005.5 1892.2L1007.0 1892.2L1008.5 1891.6L1010.0 1892.9L1011.5 1881.7L1013.0 1866.0L1014.5 1885.4L1016.0 1891.0L1017.5 1890.4L1019.0 1889.9L1020.5 1892.1L1022.0 1892.5L1023.5 1893.9L1025.0 1893.7L1026.5 1892.8L1028.0 1892.8L1029.5 1893.8L1031.0 1892.2L1032.5 1891.8L1034.0 1893.0L1035.5 1893.2L1037.0 1892.7L1038.5 1893.9L1040.0 1892.7L1041.5 1893.5L1043.0 1892.1L1044.5 1892.7L1046.0 1892.6L1047.5 1893.0L1049.0 1891.7L1050.5 1892.6L1052.0 1892.4L1053.5 1893.3L1055.0 1893.6L1056.5 1892.9L1058.0 1892.7L1059.5 1892.7L1061.0 1891.4L1062.5 1891.6L1064.0 1892.0L1065.5 1891.4L1067.0 1892.4L1068.5 1892.3L1070.0 1891.2L1071.5 1892.7L1073.0 1892.3L1074.5 1892.4L1076.0 1891.6L1077.5 1891.3L1079.0 1891.0L1080.5 1891.5L1082.0 1890.6L1083.5 1892.5L1085.0 1891.6L1086.5 1892.1L1088.0 1892.6L1089.5 1892.2L1091.0 1892.1L1092.5 1892.2L1094.0 1891.9L1095.5 1893.1L1097.0 1893.6L1098.5 1892.9L1100.0 1892.5L1101.5 1891.8L1103.0 1892.7L1104.5 1892.8L1106.0 1892.6L1107.5 1893.3L1109.0 1894.1L1110.5 1893.2L1112.0 1891.5L1113.5 1892.4L1115.0 1892.7L1116.5 1892.7L1118.0 1892.2L1119.5 1890.6L1121.0 1890.7L1122.5 1890.7L1124.0 1890.4L1125.5 1891.9L1127.0 1890.9L1128.5 1891.1L1130.0 1890.9L1131.5 1890.8L1133.0 1892.6L1134.5 1891.3L1136.0 1891.0L1137.5 1891.9L1139.0 1892.8L1140.5 1892.3L1142.0 1892.8L1143.5 1892.9L1145.0 1892.8L1146.5 1893.0L1148.0 1892.1L1149.5 1893.3L1151.0 1892.0L1152.5 1891.9L1154.0 1892.5L1155.5 1892.8L1157.0 1893.8L1158.5 1893.6L1160.0 1893.4L1161.5 1892.3L1163.0 1893.6L1164.5 1892.9L1166.0 1889.4L1167.5 1887.1L1169.0 1886.1L1170.5 1883.4L1172.0 1882.8L1173.5 1880.7L1175.0 1876.1L1176.5 1873.6L1178.0 1871.1L1179.5 1867.0L1181.0 1864.6L1182.5 1860.1L1184.0 1856.4L1185.5 1853.6L1187.0 1850.1L1188.5 1847.0L1190.0 1844.6L1191.5 1840.3L1193.0 1836.5L1194.5 1831.4L1196.0 1824.3L1197.5 1819.1L1199.0 1811.2L1200.5 1804.1L1202.0 1796.8L1203.5 1790.9L1205.0 1783.7L1206.5 1776.8L1208.0 1770.6L1209.5 1764.9L1211.0 1756.2L1212.5 1747.4L1214.0 1738.5L1215.5 1730.6L1217.0 1716.0L1218.5 1691.9L1220.0 1674.8L1221.5 1679.5L1223.0 1687.9L1224.5 1677.5L1226.0 1658.6L1227.5 1637.5L1229.0 1654.8L1230.5 1679.5L1232.0 1670.2L1233.5 1666.2L1235.0 1670.3L1236.5 1664.6L1238.0 1666.7L1239.5 1681.7L1241.0 1702.1L1242.5 1724.7L1244.0 1745.0L1245.5 1759.6L1247.0 1775.4L1248.5 1789.8L1250.0 1801.0L1251.5 1812.5L1253.0 1817.1L1254.5 1818.3L1256.0 1819.6L1257.5 1828.8L1259.0 1839.5L1260.5 1848.2L1262.0 1852.5L1263.5 1859.7L1265.0 1864.9L1266.5 1867.5L1268.0 1867.8L1269.5 1869.6L1271.0 1873.2L1272.5 1892.4L1274.0 1897.0L1275.5 1889.4L1277.0 1890.8L1278.5 1889.1L1280.0 1882.7L1281.5 1892.8L1283.0 1909.2L1284.5 1896.7L1286.0 1893.0L1287.5 1892.1L1289.0 1892.2L1290.5 1892.3L1292.0 1885.1L1293.5 1874.8L1295.0 1885.6L1296.5 1892.5L1298.0 1891.7L1299.5 1893.2L1301.0 1878.0L1302.5 1879.7L1304.0 1891.5L1305.5 1892.1L1307.0 1892.3L1308.5 1892.0L1310.0 1892.9L1311.5 1908.1L1313.0 1897.3L1314.5 1893.2L1316.0 1913.1L1317.5 1898.1L1319.0 1893.0L1320.5 1874.9L1322.0 1880.8L1323.5 1892.4L1325.0 1890.0L1326.5 1865.6L1328.0 1888.1L1329.5 1862.0L1331.0 1874.9L1332.5 1878.7L1334.0 1891.7L1335.5 1891.3L1337.0 1891.6L1338.5 1893.0L1340.0 1891.9L1341.5 1860.3L1343.0 1877.9L1344.5 1871.8L1347.5 1889.2L1350.0 1886.2L1352.5 1923.7L1355.0 1904.8L1357.5 1918.0L1360.0 1972.0L1362.5 2042.0L1364.0 1992.0L1365.5 2042.0L1368.0 1952.0L1371.0 1927.5L1374.5 1886.4L1377.0 1911.2L1380.0 2042.0L1382.5 1932.0L1384.5 1893.1L1385.9 1754.1"/>
</g>
<line x1="1384.3" y1="62" x2="1384.3" y2="2042" stroke="#000" stroke-width="3"/>
<g font-family='"Liberation Serif", serif' fill="#000" opacity="0.999">
<text font-size="54" transform="translate(70.59 247.70) scale(1.0067 1.0000)">0.08</text>
<text font-size="54" transform="translate(70.63 649.40) scale(0.9848 1.0000)">0.04</text>
<text font-size="54" transform="translate(70.70 1051.70) scale(1.0000 1.0000)">0.00</text>
<text font-size="54" transform="translate(53.85 1454.80) scale(0.9764 1.0000)">-0.04</text>
<text font-size="54" transform="translate(53.51 1854.60) scale(0.9972 1.0000)">-0.08</text>
<text font-size="54" transform="translate(145.22 2105.90) scale(0.9800 1.0000)">4000</text>
<text font-size="54" transform="translate(317.20 2105.90) scale(0.9990 1.0000)">3500</text>
<text font-size="54" transform="translate(512.02 2105.90) scale(0.9904 1.0000)">2000</text>
<text font-size="54" transform="translate(925.78 2106.00) scale(0.9644 1.0000)">1500</text>
<text font-size="54" transform="translate(1336.67 2106.00) scale(0.9653 1.0000)">1000</text>
<text font-size="55" transform="translate(67.70 1376.50) scale(1.0000 1.0045) rotate(-90)">Kubelka-Munk</text>
<text font-size="56" transform="translate(588.50 2170.50) scale(0.9425 1.0000)">Wavenumber (cm<tspan font-size="28" dy="-30">-1</tspan><tspan dy="30">)</tspan></text>
<text font-size="54" transform="translate(244.76 191.80) scale(1.0137 1.0000)">3652</text>
<text font-size="54" transform="translate(380.00 195.20) scale(1.0000 0.9990) rotate(-90)">3355</text>
<text font-size="54" transform="translate(466.50 200.46) scale(1.0000 1.0298) rotate(-90)">3259</text>
<text font-size="54" transform="translate(529.30 205.58) scale(1.0000 1.0394) rotate(-90)">3159</text>
<text font-size="54" transform="translate(877.64 151.70) scale(0.9723 1.0000)">1588</text>
<text font-size="54" transform="translate(1104.10 100.50) scale(0.9800 1.0000)">1194</text>
<text font-size="54" transform="translate(670.14 218.80) scale(0.9819 1.0000)">60 min</text>
<text font-size="54" transform="translate(670.09 313.40) scale(0.9709 1.0000)">50 min</text>
<text font-size="54" transform="translate(673.82 426.80) scale(0.9813 1.0000)">40 min</text>
<text font-size="54" transform="translate(668.86 577.40) scale(0.9791 1.0000)">30 min</text>
<text font-size="54" transform="translate(666.62 717.00) scale(0.9879 1.0000)">20 min</text>
<text font-size="54" transform="translate(669.14 870.50) scale(0.9712 1.0000)">10 min</text>
<text font-size="54" transform="translate(684.96 1026.90) scale(0.9785 1.0000)">5 min</text>
<text font-size="54" transform="translate(518.55 1151.00) scale(0.9751 1.0000)">NH<tspan font-size="30" dy="22">3</tspan><tspan dy="-22">+NO+O</tspan><tspan font-size="30" dy="22">2</tspan><tspan dy="-22"> 2 min</tspan></text>
<text font-size="54" transform="translate(642.23 1307.80) scale(0.9826 1.0000)">20 min</text>
<text font-size="54" transform="translate(651.86 1474.00) scale(0.9678 1.0000)">10 min</text>
<text font-size="54" transform="translate(670.09 1615.20) scale(0.9711 1.0000)">5 min</text>
<text font-size="54" transform="translate(522.61 1729.00) scale(0.9953 1.0000)">NH<tspan font-size="30" dy="22">3</tspan><tspan dy="-22">+NO 2 min</tspan></text>
<text font-size="54" transform="translate(566.81 1861.70) scale(0.9929 1.0000)">NH<tspan font-size="30" dy="22">3</tspan><tspan dy="-22"> 80 min</tspan></text>
</g>
</svg>
</body></html>
